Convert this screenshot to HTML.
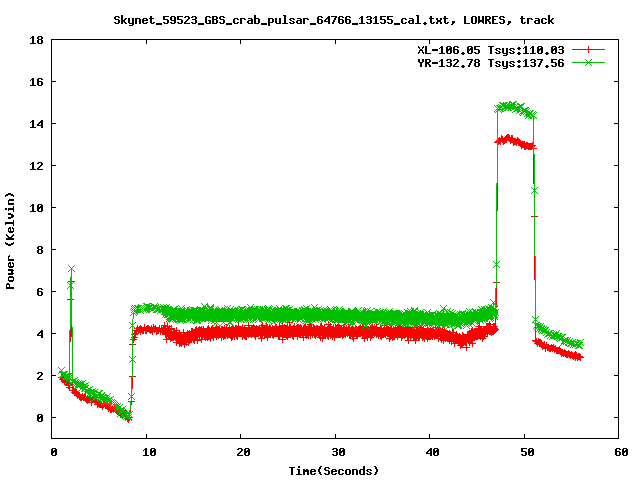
<!DOCTYPE html>
<html><head><meta charset="utf-8"><title>plot</title>
<style>
html,body{margin:0;padding:0;background:#fff;overflow:hidden}
svg{display:block}
body{font-family:"Liberation Sans",sans-serif}
</style></head><body>
<svg width="640" height="480" viewBox="0 0 640 480">
<rect width="640" height="480" fill="#fff"/>
<g fill="none" stroke-width="1" shape-rendering="crispEdges">
<path stroke="#000" d="M51.5 39.5H618.5V438.5H51.5ZM51.5 438.5v-4.5M51.5 39.5v4.5M146.5 438.5v-4.5M146.5 39.5v4.5M240.5 438.5v-4.5M240.5 39.5v4.5M335.5 438.5v-4.5M335.5 39.5v4.5M429.5 438.5v-4.5M429.5 39.5v4.5M524.5 438.5v-4.5M524.5 39.5v4.5M618.5 438.5v-4.5M618.5 39.5v4.5M51.5 417.5h4.5M618.5 417.5h-4.5M51.5 375.5h4.5M618.5 375.5h-4.5M51.5 333.5h4.5M618.5 333.5h-4.5M51.5 291.5h4.5M618.5 291.5h-4.5M51.5 249.5h4.5M618.5 249.5h-4.5M51.5 207.5h4.5M618.5 207.5h-4.5M51.5 165.5h4.5M618.5 165.5h-4.5M51.5 123.5h4.5M618.5 123.5h-4.5M51.5 81.5h4.5M618.5 81.5h-4.5M51.5 39.5h4.5M618.5 39.5h-4.5"/>
<path stroke="#f00" d="M61.5 377.5 L62.5 379.5 L63.5 378.5 L64.5 381.5 L65.5 382.5 L66.5 381.5 L67.5 382.5 L68.5 385.5 L68.5 384.5 L69.5 387.5 L70.5 299.5 L71.5 281.5 L72.5 390.5 L73.5 390.5 L74.5 392.5 L75.5 391.5 L76.5 392.5 L77.5 395.5 L78.5 394.5 L79.5 396.5 L80.5 397.5 L81.5 397.5 L82.5 396.5 L83.5 397.5 L84.5 396.5 L85.5 396.5 L85.5 398.5 L86.5 399.5 L87.5 400.5 L88.5 399.5 L89.5 398.5 L90.5 397.5 L91.5 402.5 L92.5 399.5 L93.5 399.5 L94.5 397.5 L95.5 401.5 L96.5 401.5 L97.5 404.5 L98.5 403.5 L99.5 404.5 L100.5 404.5 L101.5 404.5 L102.5 406.5 L103.5 404.5 L103.5 403.5 L104.5 403.5 L105.5 405.5 L106.5 403.5 L107.5 404.5 L108.5 408.5 L109.5 407.5 L110.5 409.5 L111.5 409.5 L112.5 408.5 L113.5 409.5 L114.5 407.5 L115.5 407.5 L116.5 410.5 L117.5 411.5 L118.5 412.5 L119.5 412.5 L120.5 412.5 L120.5 414.5 L121.5 413.5 L122.5 414.5 L123.5 413.5 L124.5 413.5 L125.5 412.5 L126.5 416.5 L127.5 418.5 L128.5 419.5 L129.5 417.5 L131.5 401.5 L132.5 376.5 L132.5 344.5 L133.5 339.5 L134.5 337.5 L134.5 334.5 L135.5 333.5 L136.5 330.5 L137.5 328.5 L138.5 330.5 L139.5 329.5 L140.5 331.5 L140.5 328.5 L141.5 329.5 L142.5 330.5 L143.5 330.5 L144.5 327.5 L145.5 330.5 L146.5 330.5 L146.5 329.5 L147.5 328.5 L148.5 328.5 L149.5 329.5 L150.5 330.5 L151.5 328.5 L151.5 329.5 L152.5 331.5 L153.5 327.5 L154.5 329.5 L155.5 328.5 L156.5 331.5 L157.5 330.5 L157.5 330.5 L158.5 330.5 L159.5 328.5 L160.5 331.5 L161.5 329.5 L162.5 330.5 L163.5 329.5 L163.5 330.5 L164.5 331.5 L164.5 325.5 L165.5 331.5 L165.5 328.5 L165.5 334.5 L165.5 331.5 L165.5 331.5 L166.5 331.5 L166.5 332.5 L166.5 333.5 L166.5 339.5 L166.5 333.5 L166.5 334.5 L167.5 332.5 L167.5 329.5 L167.5 326.5 L167.5 330.5 L167.5 329.5 L168.5 330.5 L168.5 330.5 L168.5 331.5 L168.5 333.5 L168.5 333.5 L169.5 332.5 L169.5 328.5 L169.5 331.5 L169.5 329.5 L169.5 336.5 L170.5 332.5 L170.5 332.5 L170.5 332.5 L170.5 336.5 L170.5 338.5 L170.5 338.5 L171.5 334.5 L171.5 328.5 L171.5 333.5 L171.5 337.5 L171.5 333.5 L172.5 335.5 L172.5 334.5 L172.5 335.5 L172.5 337.5 L172.5 336.5 L173.5 333.5 L173.5 334.5 L173.5 332.5 L173.5 337.5 L173.5 332.5 L173.5 335.5 L174.5 335.5 L174.5 332.5 L174.5 336.5 L174.5 335.5 L174.5 334.5 L175.5 334.5 L175.5 334.5 L175.5 333.5 L175.5 335.5 L175.5 337.5 L176.5 330.5 L176.5 336.5 L176.5 335.5 L176.5 338.5 L176.5 342.5 L176.5 338.5 L177.5 336.5 L177.5 335.5 L177.5 337.5 L177.5 335.5 L177.5 335.5 L178.5 335.5 L178.5 337.5 L178.5 337.5 L178.5 338.5 L178.5 340.5 L179.5 334.5 L179.5 341.5 L179.5 338.5 L179.5 337.5 L179.5 343.5 L180.5 336.5 L180.5 339.5 L180.5 338.5 L180.5 339.5 L180.5 342.5 L180.5 338.5 L181.5 339.5 L181.5 336.5 L181.5 338.5 L181.5 343.5 L181.5 337.5 L182.5 337.5 L182.5 337.5 L182.5 338.5 L182.5 341.5 L182.5 338.5 L183.5 340.5 L183.5 332.5 L183.5 339.5 L183.5 341.5 L183.5 339.5 L183.5 335.5 L184.5 340.5 L184.5 344.5 L184.5 335.5 L184.5 337.5 L184.5 339.5 L185.5 336.5 L185.5 340.5 L185.5 341.5 L185.5 335.5 L185.5 339.5 L186.5 336.5 L186.5 337.5 L186.5 335.5 L186.5 337.5 L186.5 342.5 L187.5 336.5 L187.5 338.5 L187.5 335.5 L187.5 337.5 L187.5 333.5 L187.5 338.5 L188.5 342.5 L188.5 337.5 L188.5 335.5 L188.5 337.5 L188.5 338.5 L189.5 333.5 L189.5 337.5 L189.5 334.5 L189.5 336.5 L189.5 340.5 L190.5 338.5 L190.5 337.5 L190.5 335.5 L190.5 338.5 L190.5 339.5 L190.5 338.5 L191.5 337.5 L191.5 338.5 L191.5 337.5 L191.5 331.5 L191.5 335.5 L192.5 337.5 L192.5 335.5 L192.5 331.5 L192.5 333.5 L192.5 335.5 L193.5 338.5 L193.5 339.5 L193.5 335.5 L193.5 335.5 L193.5 338.5 L194.5 338.5 L194.5 334.5 L194.5 340.5 L194.5 338.5 L194.5 334.5 L194.5 333.5 L195.5 333.5 L195.5 332.5 L195.5 330.5 L195.5 332.5 L195.5 335.5 L196.5 329.5 L196.5 330.5 L196.5 332.5 L196.5 336.5 L196.5 333.5 L197.5 339.5 L197.5 334.5 L197.5 340.5 L197.5 335.5 L197.5 331.5 L197.5 334.5 L198.5 330.5 L198.5 333.5 L198.5 333.5 L198.5 334.5 L198.5 332.5 L199.5 333.5 L199.5 330.5 L199.5 329.5 L199.5 332.5 L199.5 336.5 L200.5 332.5 L200.5 330.5 L200.5 332.5 L200.5 332.5 L200.5 331.5 L200.5 330.5 L201.5 339.5 L201.5 329.5 L201.5 331.5 L201.5 332.5 L201.5 334.5 L202.5 332.5 L202.5 331.5 L202.5 336.5 L202.5 331.5 L202.5 333.5 L203.5 329.5 L203.5 331.5 L203.5 333.5 L203.5 333.5 L203.5 331.5 L204.5 332.5 L204.5 331.5 L204.5 335.5 L204.5 336.5 L204.5 334.5 L204.5 336.5 L205.5 335.5 L205.5 332.5 L205.5 337.5 L205.5 336.5 L205.5 331.5 L206.5 334.5 L206.5 333.5 L206.5 336.5 L206.5 335.5 L206.5 333.5 L207.5 329.5 L207.5 332.5 L207.5 337.5 L207.5 332.5 L207.5 330.5 L207.5 331.5 L208.5 336.5 L208.5 333.5 L208.5 328.5 L208.5 335.5 L208.5 332.5 L209.5 334.5 L209.5 336.5 L209.5 334.5 L209.5 330.5 L209.5 330.5 L210.5 335.5 L210.5 334.5 L210.5 335.5 L210.5 338.5 L210.5 331.5 L211.5 329.5 L211.5 329.5 L211.5 334.5 L211.5 329.5 L211.5 330.5 L211.5 333.5 L212.5 333.5 L212.5 333.5 L212.5 332.5 L212.5 328.5 L212.5 335.5 L213.5 335.5 L213.5 330.5 L213.5 332.5 L213.5 337.5 L213.5 335.5 L214.5 334.5 L214.5 334.5 L214.5 332.5 L214.5 330.5 L214.5 333.5 L214.5 332.5 L215.5 334.5 L215.5 330.5 L215.5 329.5 L215.5 333.5 L215.5 334.5 L216.5 327.5 L216.5 330.5 L216.5 335.5 L216.5 336.5 L216.5 333.5 L217.5 329.5 L217.5 334.5 L217.5 333.5 L217.5 333.5 L217.5 331.5 L218.5 329.5 L218.5 335.5 L218.5 333.5 L218.5 333.5 L218.5 334.5 L218.5 335.5 L219.5 330.5 L219.5 332.5 L219.5 330.5 L219.5 329.5 L219.5 333.5 L220.5 331.5 L220.5 333.5 L220.5 332.5 L220.5 331.5 L220.5 333.5 L221.5 336.5 L221.5 329.5 L221.5 332.5 L221.5 335.5 L221.5 337.5 L221.5 332.5 L222.5 331.5 L222.5 330.5 L222.5 329.5 L222.5 333.5 L222.5 331.5 L223.5 336.5 L223.5 332.5 L223.5 330.5 L223.5 334.5 L223.5 332.5 L224.5 332.5 L224.5 332.5 L224.5 328.5 L224.5 335.5 L224.5 329.5 L225.5 335.5 L225.5 334.5 L225.5 334.5 L225.5 332.5 L225.5 333.5 L225.5 331.5 L226.5 332.5 L226.5 327.5 L226.5 331.5 L226.5 333.5 L226.5 331.5 L227.5 331.5 L227.5 332.5 L227.5 335.5 L227.5 334.5 L227.5 332.5 L228.5 330.5 L228.5 331.5 L228.5 332.5 L228.5 331.5 L228.5 333.5 L228.5 331.5 L229.5 328.5 L229.5 329.5 L229.5 329.5 L229.5 333.5 L229.5 331.5 L230.5 334.5 L230.5 330.5 L230.5 333.5 L230.5 335.5 L230.5 333.5 L231.5 331.5 L231.5 337.5 L231.5 335.5 L231.5 329.5 L231.5 332.5 L231.5 332.5 L232.5 336.5 L232.5 328.5 L232.5 329.5 L232.5 330.5 L232.5 334.5 L233.5 330.5 L233.5 329.5 L233.5 333.5 L233.5 332.5 L233.5 333.5 L234.5 330.5 L234.5 332.5 L234.5 333.5 L234.5 335.5 L234.5 336.5 L235.5 329.5 L235.5 328.5 L235.5 330.5 L235.5 328.5 L235.5 333.5 L235.5 332.5 L236.5 331.5 L236.5 332.5 L236.5 328.5 L236.5 335.5 L236.5 333.5 L237.5 333.5 L237.5 333.5 L237.5 330.5 L237.5 336.5 L237.5 329.5 L238.5 329.5 L238.5 331.5 L238.5 328.5 L238.5 326.5 L238.5 331.5 L238.5 330.5 L239.5 331.5 L239.5 330.5 L239.5 333.5 L239.5 333.5 L239.5 330.5 L240.5 333.5 L240.5 329.5 L240.5 330.5 L240.5 333.5 L240.5 331.5 L241.5 331.5 L241.5 332.5 L241.5 329.5 L241.5 331.5 L241.5 331.5 L242.5 336.5 L242.5 330.5 L242.5 335.5 L242.5 332.5 L242.5 328.5 L242.5 327.5 L243.5 332.5 L243.5 334.5 L243.5 330.5 L243.5 332.5 L243.5 331.5 L244.5 335.5 L244.5 329.5 L244.5 328.5 L244.5 335.5 L244.5 333.5 L245.5 333.5 L245.5 330.5 L245.5 336.5 L245.5 331.5 L245.5 332.5 L245.5 333.5 L246.5 330.5 L246.5 336.5 L246.5 335.5 L246.5 333.5 L246.5 330.5 L247.5 332.5 L247.5 333.5 L247.5 330.5 L247.5 332.5 L247.5 333.5 L248.5 332.5 L248.5 330.5 L248.5 325.5 L248.5 334.5 L248.5 331.5 L249.5 332.5 L249.5 332.5 L249.5 328.5 L249.5 329.5 L249.5 330.5 L249.5 332.5 L250.5 333.5 L250.5 331.5 L250.5 332.5 L250.5 333.5 L250.5 330.5 L251.5 334.5 L251.5 333.5 L251.5 329.5 L251.5 331.5 L251.5 330.5 L252.5 333.5 L252.5 329.5 L252.5 333.5 L252.5 328.5 L252.5 329.5 L252.5 330.5 L253.5 327.5 L253.5 330.5 L253.5 333.5 L253.5 327.5 L253.5 330.5 L254.5 328.5 L254.5 331.5 L254.5 328.5 L254.5 333.5 L254.5 334.5 L255.5 334.5 L255.5 329.5 L255.5 336.5 L255.5 335.5 L255.5 334.5 L255.5 330.5 L256.5 330.5 L256.5 333.5 L256.5 329.5 L256.5 330.5 L256.5 328.5 L257.5 329.5 L257.5 333.5 L257.5 331.5 L257.5 331.5 L257.5 330.5 L258.5 330.5 L258.5 331.5 L258.5 329.5 L258.5 331.5 L258.5 329.5 L259.5 331.5 L259.5 331.5 L259.5 329.5 L259.5 329.5 L259.5 328.5 L259.5 329.5 L260.5 331.5 L260.5 330.5 L260.5 331.5 L260.5 335.5 L260.5 334.5 L261.5 327.5 L261.5 331.5 L261.5 338.5 L261.5 331.5 L261.5 330.5 L262.5 334.5 L262.5 325.5 L262.5 328.5 L262.5 329.5 L262.5 331.5 L262.5 330.5 L263.5 329.5 L263.5 330.5 L263.5 332.5 L263.5 330.5 L263.5 331.5 L264.5 330.5 L264.5 333.5 L264.5 330.5 L264.5 331.5 L264.5 330.5 L265.5 330.5 L265.5 334.5 L265.5 329.5 L265.5 329.5 L265.5 334.5 L266.5 331.5 L266.5 333.5 L266.5 332.5 L266.5 328.5 L266.5 330.5 L266.5 326.5 L267.5 331.5 L267.5 334.5 L267.5 331.5 L267.5 337.5 L267.5 327.5 L268.5 330.5 L268.5 330.5 L268.5 330.5 L268.5 333.5 L268.5 331.5 L269.5 333.5 L269.5 332.5 L269.5 330.5 L269.5 334.5 L269.5 327.5 L269.5 333.5 L270.5 329.5 L270.5 332.5 L270.5 334.5 L270.5 330.5 L270.5 330.5 L271.5 331.5 L271.5 331.5 L271.5 332.5 L271.5 330.5 L271.5 332.5 L272.5 331.5 L272.5 328.5 L272.5 334.5 L272.5 332.5 L272.5 333.5 L273.5 333.5 L273.5 334.5 L273.5 332.5 L273.5 331.5 L273.5 331.5 L273.5 335.5 L274.5 329.5 L274.5 329.5 L274.5 331.5 L274.5 333.5 L274.5 333.5 L275.5 326.5 L275.5 327.5 L275.5 330.5 L275.5 333.5 L275.5 328.5 L276.5 331.5 L276.5 327.5 L276.5 332.5 L276.5 330.5 L276.5 331.5 L276.5 329.5 L277.5 332.5 L277.5 329.5 L277.5 332.5 L277.5 333.5 L277.5 330.5 L278.5 330.5 L278.5 336.5 L278.5 331.5 L278.5 331.5 L278.5 330.5 L279.5 326.5 L279.5 332.5 L279.5 331.5 L279.5 335.5 L279.5 334.5 L280.5 332.5 L280.5 331.5 L280.5 331.5 L280.5 329.5 L280.5 329.5 L280.5 328.5 L281.5 331.5 L281.5 330.5 L281.5 333.5 L281.5 330.5 L281.5 330.5 L282.5 332.5 L282.5 339.5 L282.5 332.5 L282.5 325.5 L282.5 331.5 L283.5 332.5 L283.5 331.5 L283.5 328.5 L283.5 330.5 L283.5 331.5 L283.5 334.5 L284.5 331.5 L284.5 334.5 L284.5 330.5 L284.5 327.5 L284.5 328.5 L285.5 332.5 L285.5 333.5 L285.5 334.5 L285.5 330.5 L285.5 329.5 L286.5 329.5 L286.5 330.5 L286.5 334.5 L286.5 335.5 L286.5 328.5 L286.5 333.5 L287.5 326.5 L287.5 336.5 L287.5 333.5 L287.5 333.5 L287.5 330.5 L288.5 329.5 L288.5 332.5 L288.5 329.5 L288.5 334.5 L288.5 332.5 L289.5 334.5 L289.5 332.5 L289.5 332.5 L289.5 330.5 L289.5 322.5 L290.5 334.5 L290.5 331.5 L290.5 329.5 L290.5 331.5 L290.5 327.5 L290.5 333.5 L291.5 329.5 L291.5 333.5 L291.5 329.5 L291.5 330.5 L291.5 330.5 L292.5 332.5 L292.5 335.5 L292.5 333.5 L292.5 329.5 L292.5 331.5 L293.5 329.5 L293.5 334.5 L293.5 329.5 L293.5 328.5 L293.5 336.5 L293.5 330.5 L294.5 326.5 L294.5 332.5 L294.5 328.5 L294.5 330.5 L294.5 329.5 L295.5 331.5 L295.5 332.5 L295.5 332.5 L295.5 331.5 L295.5 332.5 L296.5 333.5 L296.5 328.5 L296.5 332.5 L296.5 333.5 L296.5 333.5 L297.5 329.5 L297.5 336.5 L297.5 329.5 L297.5 329.5 L297.5 327.5 L297.5 332.5 L298.5 332.5 L298.5 330.5 L298.5 330.5 L298.5 327.5 L298.5 330.5 L299.5 332.5 L299.5 334.5 L299.5 331.5 L299.5 330.5 L299.5 328.5 L300.5 330.5 L300.5 327.5 L300.5 328.5 L300.5 332.5 L300.5 333.5 L300.5 332.5 L301.5 331.5 L301.5 332.5 L301.5 329.5 L301.5 329.5 L301.5 328.5 L302.5 330.5 L302.5 332.5 L302.5 330.5 L302.5 333.5 L302.5 330.5 L303.5 332.5 L303.5 328.5 L303.5 337.5 L303.5 329.5 L303.5 328.5 L304.5 331.5 L304.5 330.5 L304.5 330.5 L304.5 327.5 L304.5 327.5 L304.5 331.5 L305.5 327.5 L305.5 332.5 L305.5 330.5 L305.5 330.5 L305.5 334.5 L306.5 330.5 L306.5 332.5 L306.5 329.5 L306.5 333.5 L306.5 335.5 L307.5 334.5 L307.5 331.5 L307.5 330.5 L307.5 330.5 L307.5 332.5 L307.5 329.5 L308.5 332.5 L308.5 331.5 L308.5 328.5 L308.5 331.5 L308.5 335.5 L309.5 329.5 L309.5 331.5 L309.5 332.5 L309.5 327.5 L309.5 332.5 L310.5 329.5 L310.5 330.5 L310.5 324.5 L310.5 335.5 L310.5 330.5 L310.5 330.5 L311.5 328.5 L311.5 332.5 L311.5 332.5 L311.5 327.5 L311.5 332.5 L312.5 330.5 L312.5 331.5 L312.5 330.5 L312.5 334.5 L312.5 332.5 L313.5 331.5 L313.5 330.5 L313.5 328.5 L313.5 329.5 L313.5 329.5 L314.5 331.5 L314.5 328.5 L314.5 332.5 L314.5 331.5 L314.5 334.5 L314.5 333.5 L315.5 329.5 L315.5 331.5 L315.5 335.5 L315.5 331.5 L315.5 331.5 L316.5 333.5 L316.5 330.5 L316.5 331.5 L316.5 331.5 L316.5 328.5 L317.5 332.5 L317.5 328.5 L317.5 331.5 L317.5 331.5 L317.5 328.5 L317.5 330.5 L318.5 332.5 L318.5 331.5 L318.5 330.5 L318.5 334.5 L318.5 329.5 L319.5 331.5 L319.5 334.5 L319.5 333.5 L319.5 329.5 L319.5 334.5 L320.5 326.5 L320.5 333.5 L320.5 330.5 L320.5 337.5 L320.5 331.5 L321.5 332.5 L321.5 330.5 L321.5 330.5 L321.5 332.5 L321.5 326.5 L321.5 329.5 L322.5 333.5 L322.5 330.5 L322.5 338.5 L322.5 332.5 L322.5 328.5 L323.5 332.5 L323.5 330.5 L323.5 334.5 L323.5 329.5 L323.5 331.5 L324.5 331.5 L324.5 329.5 L324.5 327.5 L324.5 329.5 L324.5 335.5 L324.5 330.5 L325.5 330.5 L325.5 334.5 L325.5 335.5 L325.5 332.5 L325.5 332.5 L326.5 331.5 L326.5 333.5 L326.5 331.5 L326.5 330.5 L326.5 332.5 L327.5 330.5 L327.5 332.5 L327.5 335.5 L327.5 331.5 L327.5 329.5 L328.5 324.5 L328.5 336.5 L328.5 332.5 L328.5 333.5 L328.5 330.5 L328.5 333.5 L329.5 331.5 L329.5 329.5 L329.5 333.5 L329.5 331.5 L329.5 327.5 L330.5 329.5 L330.5 335.5 L330.5 326.5 L330.5 333.5 L330.5 330.5 L331.5 332.5 L331.5 332.5 L331.5 333.5 L331.5 329.5 L331.5 333.5 L331.5 334.5 L332.5 332.5 L332.5 331.5 L332.5 336.5 L332.5 329.5 L332.5 333.5 L333.5 329.5 L333.5 328.5 L333.5 330.5 L333.5 330.5 L333.5 332.5 L334.5 333.5 L334.5 336.5 L334.5 331.5 L334.5 332.5 L334.5 337.5 L334.5 330.5 L335.5 327.5 L335.5 330.5 L335.5 328.5 L335.5 332.5 L335.5 333.5 L336.5 331.5 L336.5 332.5 L336.5 334.5 L336.5 328.5 L336.5 331.5 L337.5 333.5 L337.5 331.5 L337.5 331.5 L337.5 329.5 L337.5 327.5 L338.5 332.5 L338.5 334.5 L338.5 328.5 L338.5 325.5 L338.5 332.5 L338.5 333.5 L339.5 334.5 L339.5 331.5 L339.5 331.5 L339.5 332.5 L339.5 329.5 L340.5 333.5 L340.5 332.5 L340.5 334.5 L340.5 328.5 L340.5 328.5 L341.5 328.5 L341.5 333.5 L341.5 328.5 L341.5 330.5 L341.5 329.5 L341.5 330.5 L342.5 332.5 L342.5 331.5 L342.5 335.5 L342.5 332.5 L342.5 332.5 L343.5 334.5 L343.5 331.5 L343.5 328.5 L343.5 332.5 L343.5 333.5 L344.5 333.5 L344.5 331.5 L344.5 327.5 L344.5 331.5 L344.5 331.5 L345.5 334.5 L345.5 330.5 L345.5 330.5 L345.5 332.5 L345.5 331.5 L345.5 333.5 L346.5 329.5 L346.5 328.5 L346.5 330.5 L346.5 330.5 L346.5 331.5 L347.5 333.5 L347.5 333.5 L347.5 332.5 L347.5 331.5 L347.5 331.5 L348.5 329.5 L348.5 329.5 L348.5 327.5 L348.5 329.5 L348.5 332.5 L348.5 331.5 L349.5 335.5 L349.5 327.5 L349.5 332.5 L349.5 332.5 L349.5 327.5 L350.5 334.5 L350.5 333.5 L350.5 331.5 L350.5 332.5 L350.5 331.5 L351.5 330.5 L351.5 330.5 L351.5 331.5 L351.5 329.5 L351.5 332.5 L352.5 330.5 L352.5 328.5 L352.5 335.5 L352.5 332.5 L352.5 331.5 L352.5 336.5 L353.5 338.5 L353.5 330.5 L353.5 333.5 L353.5 329.5 L353.5 331.5 L354.5 331.5 L354.5 332.5 L354.5 331.5 L354.5 333.5 L354.5 332.5 L355.5 329.5 L355.5 332.5 L355.5 330.5 L355.5 331.5 L355.5 332.5 L355.5 333.5 L356.5 329.5 L356.5 333.5 L356.5 330.5 L356.5 335.5 L356.5 330.5 L357.5 330.5 L357.5 333.5 L357.5 335.5 L357.5 331.5 L357.5 331.5 L358.5 332.5 L358.5 333.5 L358.5 329.5 L358.5 331.5 L358.5 332.5 L359.5 329.5 L359.5 331.5 L359.5 333.5 L359.5 329.5 L359.5 332.5 L359.5 329.5 L360.5 333.5 L360.5 330.5 L360.5 328.5 L360.5 330.5 L360.5 330.5 L361.5 330.5 L361.5 329.5 L361.5 331.5 L361.5 330.5 L361.5 332.5 L362.5 327.5 L362.5 333.5 L362.5 329.5 L362.5 334.5 L362.5 330.5 L362.5 328.5 L363.5 334.5 L363.5 327.5 L363.5 333.5 L363.5 333.5 L363.5 330.5 L364.5 334.5 L364.5 329.5 L364.5 330.5 L364.5 338.5 L364.5 335.5 L365.5 333.5 L365.5 330.5 L365.5 334.5 L365.5 333.5 L365.5 330.5 L365.5 334.5 L366.5 331.5 L366.5 334.5 L366.5 329.5 L366.5 328.5 L366.5 334.5 L367.5 337.5 L367.5 335.5 L367.5 329.5 L367.5 333.5 L367.5 329.5 L368.5 334.5 L368.5 333.5 L368.5 332.5 L368.5 329.5 L368.5 332.5 L369.5 334.5 L369.5 331.5 L369.5 331.5 L369.5 330.5 L369.5 332.5 L369.5 333.5 L370.5 331.5 L370.5 337.5 L370.5 331.5 L370.5 328.5 L370.5 330.5 L371.5 334.5 L371.5 335.5 L371.5 328.5 L371.5 333.5 L371.5 332.5 L372.5 331.5 L372.5 333.5 L372.5 331.5 L372.5 328.5 L372.5 332.5 L372.5 327.5 L373.5 330.5 L373.5 331.5 L373.5 329.5 L373.5 329.5 L373.5 329.5 L374.5 330.5 L374.5 333.5 L374.5 327.5 L374.5 332.5 L374.5 333.5 L375.5 329.5 L375.5 330.5 L375.5 331.5 L375.5 331.5 L375.5 330.5 L376.5 327.5 L376.5 332.5 L376.5 334.5 L376.5 333.5 L376.5 330.5 L376.5 332.5 L377.5 333.5 L377.5 330.5 L377.5 330.5 L377.5 332.5 L377.5 331.5 L378.5 333.5 L378.5 333.5 L378.5 332.5 L378.5 335.5 L378.5 331.5 L379.5 332.5 L379.5 333.5 L379.5 331.5 L379.5 331.5 L379.5 333.5 L379.5 333.5 L380.5 333.5 L380.5 328.5 L380.5 335.5 L380.5 332.5 L380.5 329.5 L381.5 334.5 L381.5 334.5 L381.5 334.5 L381.5 336.5 L381.5 329.5 L382.5 332.5 L382.5 334.5 L382.5 333.5 L382.5 331.5 L382.5 332.5 L383.5 334.5 L383.5 330.5 L383.5 334.5 L383.5 333.5 L383.5 331.5 L383.5 333.5 L384.5 332.5 L384.5 333.5 L384.5 325.5 L384.5 333.5 L384.5 330.5 L385.5 334.5 L385.5 334.5 L385.5 332.5 L385.5 333.5 L385.5 333.5 L386.5 332.5 L386.5 330.5 L386.5 327.5 L386.5 327.5 L386.5 332.5 L386.5 327.5 L387.5 328.5 L387.5 333.5 L387.5 333.5 L387.5 332.5 L387.5 327.5 L388.5 332.5 L388.5 332.5 L388.5 329.5 L388.5 332.5 L388.5 332.5 L389.5 330.5 L389.5 332.5 L389.5 338.5 L389.5 335.5 L389.5 330.5 L389.5 335.5 L390.5 329.5 L390.5 332.5 L390.5 331.5 L390.5 331.5 L390.5 336.5 L391.5 334.5 L391.5 334.5 L391.5 331.5 L391.5 328.5 L391.5 333.5 L392.5 332.5 L392.5 337.5 L392.5 333.5 L392.5 333.5 L392.5 332.5 L393.5 331.5 L393.5 329.5 L393.5 332.5 L393.5 331.5 L393.5 336.5 L393.5 331.5 L394.5 332.5 L394.5 336.5 L394.5 331.5 L394.5 334.5 L394.5 330.5 L395.5 331.5 L395.5 332.5 L395.5 328.5 L395.5 332.5 L395.5 333.5 L396.5 332.5 L396.5 332.5 L396.5 334.5 L396.5 331.5 L396.5 331.5 L396.5 333.5 L397.5 336.5 L397.5 329.5 L397.5 329.5 L397.5 330.5 L397.5 330.5 L398.5 328.5 L398.5 331.5 L398.5 328.5 L398.5 332.5 L398.5 334.5 L399.5 332.5 L399.5 333.5 L399.5 331.5 L399.5 327.5 L399.5 331.5 L400.5 329.5 L400.5 327.5 L400.5 327.5 L400.5 332.5 L400.5 333.5 L400.5 327.5 L401.5 334.5 L401.5 336.5 L401.5 337.5 L401.5 329.5 L401.5 335.5 L402.5 332.5 L402.5 332.5 L402.5 329.5 L402.5 335.5 L402.5 332.5 L403.5 331.5 L403.5 328.5 L403.5 332.5 L403.5 331.5 L403.5 332.5 L403.5 329.5 L404.5 330.5 L404.5 333.5 L404.5 331.5 L404.5 335.5 L404.5 332.5 L405.5 334.5 L405.5 333.5 L405.5 329.5 L405.5 327.5 L405.5 331.5 L406.5 332.5 L406.5 333.5 L406.5 330.5 L406.5 332.5 L406.5 330.5 L407.5 328.5 L407.5 330.5 L407.5 333.5 L407.5 330.5 L407.5 334.5 L407.5 336.5 L408.5 329.5 L408.5 327.5 L408.5 329.5 L408.5 333.5 L408.5 340.5 L409.5 334.5 L409.5 331.5 L409.5 333.5 L409.5 329.5 L409.5 334.5 L410.5 331.5 L410.5 332.5 L410.5 332.5 L410.5 336.5 L410.5 332.5 L410.5 332.5 L411.5 333.5 L411.5 335.5 L411.5 333.5 L411.5 335.5 L411.5 331.5 L412.5 330.5 L412.5 331.5 L412.5 331.5 L412.5 333.5 L412.5 332.5 L413.5 337.5 L413.5 332.5 L413.5 330.5 L413.5 334.5 L413.5 331.5 L414.5 336.5 L414.5 332.5 L414.5 333.5 L414.5 331.5 L414.5 332.5 L414.5 327.5 L415.5 340.5 L415.5 336.5 L415.5 334.5 L415.5 332.5 L415.5 334.5 L416.5 334.5 L416.5 336.5 L416.5 336.5 L416.5 335.5 L416.5 329.5 L417.5 335.5 L417.5 326.5 L417.5 330.5 L417.5 333.5 L417.5 331.5 L417.5 330.5 L418.5 335.5 L418.5 337.5 L418.5 329.5 L418.5 335.5 L418.5 331.5 L419.5 331.5 L419.5 337.5 L419.5 331.5 L419.5 331.5 L419.5 330.5 L420.5 333.5 L420.5 332.5 L420.5 332.5 L420.5 333.5 L420.5 329.5 L420.5 330.5 L421.5 329.5 L421.5 332.5 L421.5 330.5 L421.5 335.5 L421.5 334.5 L422.5 330.5 L422.5 333.5 L422.5 334.5 L422.5 332.5 L422.5 337.5 L423.5 332.5 L423.5 332.5 L423.5 334.5 L423.5 336.5 L423.5 329.5 L424.5 332.5 L424.5 335.5 L424.5 334.5 L424.5 337.5 L424.5 337.5 L424.5 338.5 L425.5 335.5 L425.5 332.5 L425.5 331.5 L425.5 333.5 L425.5 331.5 L426.5 332.5 L426.5 336.5 L426.5 335.5 L426.5 332.5 L426.5 331.5 L427.5 330.5 L427.5 336.5 L427.5 338.5 L427.5 328.5 L427.5 334.5 L427.5 331.5 L428.5 333.5 L428.5 336.5 L428.5 330.5 L428.5 332.5 L428.5 330.5 L429.5 332.5 L429.5 336.5 L429.5 333.5 L429.5 331.5 L429.5 335.5 L430.5 333.5 L430.5 330.5 L430.5 336.5 L430.5 334.5 L430.5 333.5 L431.5 331.5 L431.5 333.5 L431.5 335.5 L431.5 332.5 L431.5 335.5 L431.5 332.5 L432.5 332.5 L432.5 334.5 L432.5 331.5 L432.5 330.5 L432.5 336.5 L433.5 332.5 L433.5 334.5 L433.5 334.5 L433.5 333.5 L433.5 330.5 L434.5 334.5 L434.5 334.5 L434.5 336.5 L434.5 334.5 L434.5 333.5 L434.5 336.5 L435.5 334.5 L435.5 332.5 L435.5 330.5 L435.5 334.5 L435.5 329.5 L436.5 331.5 L436.5 331.5 L436.5 332.5 L436.5 333.5 L436.5 335.5 L437.5 334.5 L437.5 333.5 L437.5 333.5 L437.5 330.5 L437.5 329.5 L438.5 332.5 L438.5 331.5 L438.5 335.5 L438.5 338.5 L438.5 334.5 L438.5 333.5 L439.5 330.5 L439.5 328.5 L439.5 333.5 L439.5 330.5 L439.5 331.5 L440.5 333.5 L440.5 331.5 L440.5 333.5 L440.5 330.5 L440.5 336.5 L441.5 339.5 L441.5 333.5 L441.5 331.5 L441.5 331.5 L441.5 335.5 L441.5 332.5 L442.5 335.5 L442.5 332.5 L442.5 336.5 L442.5 336.5 L442.5 332.5 L443.5 337.5 L443.5 338.5 L443.5 332.5 L443.5 334.5 L443.5 340.5 L444.5 331.5 L444.5 337.5 L444.5 335.5 L444.5 335.5 L444.5 330.5 L444.5 335.5 L445.5 332.5 L445.5 335.5 L445.5 333.5 L445.5 338.5 L445.5 335.5 L446.5 336.5 L446.5 337.5 L446.5 334.5 L446.5 333.5 L446.5 334.5 L447.5 336.5 L447.5 333.5 L447.5 338.5 L447.5 335.5 L447.5 334.5 L448.5 336.5 L448.5 336.5 L448.5 335.5 L448.5 337.5 L448.5 336.5 L448.5 334.5 L449.5 340.5 L449.5 333.5 L449.5 335.5 L449.5 335.5 L449.5 338.5 L450.5 337.5 L450.5 338.5 L450.5 335.5 L450.5 335.5 L450.5 334.5 L451.5 336.5 L451.5 341.5 L451.5 339.5 L451.5 337.5 L451.5 336.5 L451.5 340.5 L452.5 337.5 L452.5 337.5 L452.5 338.5 L452.5 337.5 L452.5 332.5 L453.5 337.5 L453.5 332.5 L453.5 337.5 L453.5 339.5 L453.5 336.5 L454.5 338.5 L454.5 338.5 L454.5 343.5 L454.5 337.5 L454.5 339.5 L455.5 335.5 L455.5 338.5 L455.5 339.5 L455.5 340.5 L455.5 338.5 L455.5 339.5 L456.5 340.5 L456.5 334.5 L456.5 339.5 L456.5 336.5 L456.5 335.5 L457.5 337.5 L457.5 337.5 L457.5 337.5 L457.5 336.5 L457.5 337.5 L458.5 338.5 L458.5 338.5 L458.5 340.5 L458.5 340.5 L458.5 341.5 L458.5 339.5 L459.5 336.5 L459.5 341.5 L459.5 341.5 L459.5 342.5 L459.5 340.5 L460.5 337.5 L460.5 340.5 L460.5 339.5 L460.5 345.5 L460.5 340.5 L461.5 339.5 L461.5 341.5 L461.5 344.5 L461.5 339.5 L461.5 340.5 L462.5 335.5 L462.5 341.5 L462.5 340.5 L462.5 341.5 L462.5 339.5 L462.5 344.5 L463.5 336.5 L463.5 338.5 L463.5 340.5 L463.5 340.5 L463.5 338.5 L464.5 338.5 L464.5 340.5 L464.5 339.5 L464.5 338.5 L464.5 340.5 L465.5 340.5 L465.5 340.5 L465.5 340.5 L465.5 342.5 L465.5 341.5 L465.5 338.5 L466.5 337.5 L466.5 339.5 L466.5 347.5 L466.5 342.5 L466.5 337.5 L467.5 334.5 L467.5 335.5 L467.5 339.5 L467.5 339.5 L467.5 339.5 L468.5 334.5 L468.5 337.5 L468.5 340.5 L468.5 335.5 L468.5 336.5 L469.5 342.5 L469.5 339.5 L469.5 335.5 L469.5 335.5 L469.5 340.5 L469.5 337.5 L470.5 335.5 L470.5 336.5 L470.5 339.5 L470.5 337.5 L470.5 335.5 L471.5 336.5 L471.5 339.5 L471.5 331.5 L471.5 336.5 L471.5 340.5 L472.5 337.5 L472.5 343.5 L472.5 338.5 L472.5 336.5 L472.5 330.5 L472.5 335.5 L473.5 335.5 L473.5 334.5 L473.5 335.5 L473.5 337.5 L473.5 332.5 L474.5 334.5 L474.5 331.5 L474.5 333.5 L474.5 337.5 L474.5 336.5 L475.5 336.5 L475.5 336.5 L475.5 333.5 L475.5 335.5 L475.5 336.5 L475.5 331.5 L476.5 331.5 L476.5 334.5 L476.5 336.5 L476.5 335.5 L476.5 336.5 L477.5 336.5 L477.5 336.5 L477.5 333.5 L477.5 333.5 L477.5 332.5 L478.5 335.5 L478.5 332.5 L478.5 328.5 L478.5 332.5 L478.5 334.5 L479.5 326.5 L479.5 332.5 L479.5 334.5 L479.5 330.5 L479.5 334.5 L479.5 333.5 L480.5 330.5 L480.5 334.5 L480.5 336.5 L480.5 330.5 L480.5 330.5 L481.5 335.5 L481.5 333.5 L481.5 329.5 L481.5 331.5 L481.5 330.5 L482.5 332.5 L482.5 333.5 L482.5 333.5 L482.5 332.5 L482.5 331.5 L482.5 338.5 L483.5 336.5 L483.5 331.5 L483.5 329.5 L483.5 332.5 L483.5 331.5 L484.5 333.5 L484.5 334.5 L484.5 330.5 L484.5 331.5 L484.5 332.5 L485.5 333.5 L485.5 330.5 L485.5 330.5 L485.5 331.5 L485.5 330.5 L486.5 331.5 L486.5 329.5 L486.5 329.5 L486.5 326.5 L486.5 326.5 L486.5 330.5 L487.5 332.5 L487.5 328.5 L487.5 331.5 L487.5 326.5 L487.5 333.5 L488.5 330.5 L488.5 326.5 L488.5 329.5 L488.5 327.5 L488.5 327.5 L489.5 330.5 L489.5 327.5 L489.5 331.5 L489.5 330.5 L489.5 324.5 L489.5 329.5 L490.5 328.5 L490.5 331.5 L490.5 326.5 L490.5 331.5 L490.5 331.5 L491.5 330.5 L491.5 331.5 L491.5 332.5 L491.5 330.5 L491.5 330.5 L492.5 329.5 L492.5 331.5 L492.5 331.5 L492.5 330.5 L492.5 329.5 L493.5 331.5 L493.5 329.5 L493.5 329.5 L493.5 326.5 L493.5 327.5 L493.5 328.5 L494.5 326.5 L494.5 330.5 L494.5 326.5 L494.5 328.5 L495.5 329.5 L496.5 282.5 L497.5 142.5 L498.5 141.5 L499.5 140.5 L500.5 141.5 L501.5 138.5 L502.5 139.5 L503.5 141.5 L504.5 140.5 L505.5 139.5 L506.5 139.5 L506.5 138.5 L507.5 137.5 L508.5 137.5 L509.5 138.5 L510.5 140.5 L511.5 138.5 L512.5 138.5 L513.5 142.5 L514.5 141.5 L515.5 141.5 L516.5 142.5 L517.5 140.5 L518.5 141.5 L519.5 142.5 L520.5 143.5 L521.5 145.5 L522.5 144.5 L523.5 144.5 L524.5 144.5 L524.5 146.5 L525.5 146.5 L526.5 145.5 L527.5 145.5 L528.5 146.5 L529.5 146.5 L530.5 146.5 L531.5 146.5 L532.5 145.5 L533.5 148.5 L534.5 216.5 L535.5 340.5 L536.5 341.5 L537.5 343.5 L538.5 341.5 L539.5 342.5 L540.5 342.5 L541.5 343.5 L541.5 344.5 L542.5 346.5 L543.5 345.5 L544.5 344.5 L545.5 348.5 L546.5 345.5 L547.5 347.5 L548.5 347.5 L549.5 348.5 L550.5 348.5 L551.5 347.5 L552.5 348.5 L553.5 347.5 L554.5 349.5 L555.5 348.5 L556.5 350.5 L557.5 350.5 L558.5 350.5 L558.5 350.5 L559.5 349.5 L560.5 351.5 L561.5 353.5 L562.5 352.5 L563.5 353.5 L564.5 352.5 L565.5 353.5 L566.5 354.5 L567.5 354.5 L568.5 353.5 L569.5 354.5 L570.5 355.5 L571.5 354.5 L572.5 355.5 L573.5 356.5 L574.5 355.5 L575.5 354.5 L575.5 357.5 L576.5 355.5 L577.5 357.5 L578.5 356.5 L579.5 356.5 L580.5 357.5"/>
<path stroke="#f00" d="M58 377.5h7M61.5 374v7M59 379.5h7M62.5 376v7M60 378.5h7M63.5 375v7M61 381.5h7M64.5 378v7M62 382.5h7M65.5 379v7M63 381.5h7M66.5 378v7M64 382.5h7M67.5 379v7M65 385.5h7M68.5 382v7M65 384.5h7M68.5 381v7M66 387.5h7M69.5 384v7M67 299.5h7M70.5 296v7M68 281.5h7M71.5 278v7M69 390.5h7M72.5 387v7M70 390.5h7M73.5 387v7M71 392.5h7M74.5 389v7M72 391.5h7M75.5 388v7M73 392.5h7M76.5 389v7M74 395.5h7M77.5 392v7M75 394.5h7M78.5 391v7M76 396.5h7M79.5 393v7M77 397.5h7M80.5 394v7M78 397.5h7M81.5 394v7M79 396.5h7M82.5 393v7M80 397.5h7M83.5 394v7M81 396.5h7M84.5 393v7M82 396.5h7M85.5 393v7M82 398.5h7M85.5 395v7M83 399.5h7M86.5 396v7M84 400.5h7M87.5 397v7M85 399.5h7M88.5 396v7M86 398.5h7M89.5 395v7M87 397.5h7M90.5 394v7M88 402.5h7M91.5 399v7M89 399.5h7M92.5 396v7M90 399.5h7M93.5 396v7M91 397.5h7M94.5 394v7M92 401.5h7M95.5 398v7M93 401.5h7M96.5 398v7M94 404.5h7M97.5 401v7M95 403.5h7M98.5 400v7M96 404.5h7M99.5 401v7M97 404.5h7M100.5 401v7M98 404.5h7M101.5 401v7M99 406.5h7M102.5 403v7M100 404.5h7M103.5 401v7M100 403.5h7M103.5 400v7M101 403.5h7M104.5 400v7M102 405.5h7M105.5 402v7M103 403.5h7M106.5 400v7M104 404.5h7M107.5 401v7M105 408.5h7M108.5 405v7M106 407.5h7M109.5 404v7M107 409.5h7M110.5 406v7M108 409.5h7M111.5 406v7M109 408.5h7M112.5 405v7M110 409.5h7M113.5 406v7M111 407.5h7M114.5 404v7M112 407.5h7M115.5 404v7M113 410.5h7M116.5 407v7M114 411.5h7M117.5 408v7M115 412.5h7M118.5 409v7M116 412.5h7M119.5 409v7M117 412.5h7M120.5 409v7M117 414.5h7M120.5 411v7M118 413.5h7M121.5 410v7M119 414.5h7M122.5 411v7M120 413.5h7M123.5 410v7M121 413.5h7M124.5 410v7M122 412.5h7M125.5 409v7M123 416.5h7M126.5 413v7M124 418.5h7M127.5 415v7M125 419.5h7M128.5 416v7M126 417.5h7M129.5 414v7M128 401.5h7M131.5 398v7M129 376.5h7M132.5 373v7M129 344.5h7M132.5 341v7M130 339.5h7M133.5 336v7M131 337.5h7M134.5 334v7M131 334.5h7M134.5 331v7M132 333.5h7M135.5 330v7M133 330.5h7M136.5 327v7M134 328.5h7M137.5 325v7M135 330.5h7M138.5 327v7M136 329.5h7M139.5 326v7M137 331.5h7M140.5 328v7M137 328.5h7M140.5 325v7M138 329.5h7M141.5 326v7M139 330.5h7M142.5 327v7M140 330.5h7M143.5 327v7M141 327.5h7M144.5 324v7M142 330.5h7M145.5 327v7M143 330.5h7M146.5 327v7M143 329.5h7M146.5 326v7M144 328.5h7M147.5 325v7M145 328.5h7M148.5 325v7M146 329.5h7M149.5 326v7M147 330.5h7M150.5 327v7M148 328.5h7M151.5 325v7M148 329.5h7M151.5 326v7M149 331.5h7M152.5 328v7M150 327.5h7M153.5 324v7M151 329.5h7M154.5 326v7M152 328.5h7M155.5 325v7M153 331.5h7M156.5 328v7M154 330.5h7M157.5 327v7M154 330.5h7M157.5 327v7M155 330.5h7M158.5 327v7M156 328.5h7M159.5 325v7M157 331.5h7M160.5 328v7M158 329.5h7M161.5 326v7M159 330.5h7M162.5 327v7M160 329.5h7M163.5 326v7M160 330.5h7M163.5 327v7M161 331.5h7M164.5 328v7M161 325.5h7M164.5 322v7M162 331.5h7M165.5 328v7M162 328.5h7M165.5 325v7M162 334.5h7M165.5 331v7M162 331.5h7M165.5 328v7M162 331.5h7M165.5 328v7M163 331.5h7M166.5 328v7M163 332.5h7M166.5 329v7M163 333.5h7M166.5 330v7M163 339.5h7M166.5 336v7M163 333.5h7M166.5 330v7M163 334.5h7M166.5 331v7M164 332.5h7M167.5 329v7M164 329.5h7M167.5 326v7M164 326.5h7M167.5 323v7M164 330.5h7M167.5 327v7M164 329.5h7M167.5 326v7M165 330.5h7M168.5 327v7M165 330.5h7M168.5 327v7M165 331.5h7M168.5 328v7M165 333.5h7M168.5 330v7M165 333.5h7M168.5 330v7M166 332.5h7M169.5 329v7M166 328.5h7M169.5 325v7M166 331.5h7M169.5 328v7M166 329.5h7M169.5 326v7M166 336.5h7M169.5 333v7M167 332.5h7M170.5 329v7M167 332.5h7M170.5 329v7M167 332.5h7M170.5 329v7M167 336.5h7M170.5 333v7M167 338.5h7M170.5 335v7M167 338.5h7M170.5 335v7M168 334.5h7M171.5 331v7M168 328.5h7M171.5 325v7M168 333.5h7M171.5 330v7M168 337.5h7M171.5 334v7M168 333.5h7M171.5 330v7M169 335.5h7M172.5 332v7M169 334.5h7M172.5 331v7M169 335.5h7M172.5 332v7M169 337.5h7M172.5 334v7M169 336.5h7M172.5 333v7M170 333.5h7M173.5 330v7M170 334.5h7M173.5 331v7M170 332.5h7M173.5 329v7M170 337.5h7M173.5 334v7M170 332.5h7M173.5 329v7M170 335.5h7M173.5 332v7M171 335.5h7M174.5 332v7M171 332.5h7M174.5 329v7M171 336.5h7M174.5 333v7M171 335.5h7M174.5 332v7M171 334.5h7M174.5 331v7M172 334.5h7M175.5 331v7M172 334.5h7M175.5 331v7M172 333.5h7M175.5 330v7M172 335.5h7M175.5 332v7M172 337.5h7M175.5 334v7M173 330.5h7M176.5 327v7M173 336.5h7M176.5 333v7M173 335.5h7M176.5 332v7M173 338.5h7M176.5 335v7M173 342.5h7M176.5 339v7M173 338.5h7M176.5 335v7M174 336.5h7M177.5 333v7M174 335.5h7M177.5 332v7M174 337.5h7M177.5 334v7M174 335.5h7M177.5 332v7M174 335.5h7M177.5 332v7M175 335.5h7M178.5 332v7M175 337.5h7M178.5 334v7M175 337.5h7M178.5 334v7M175 338.5h7M178.5 335v7M175 340.5h7M178.5 337v7M176 334.5h7M179.5 331v7M176 341.5h7M179.5 338v7M176 338.5h7M179.5 335v7M176 337.5h7M179.5 334v7M176 343.5h7M179.5 340v7M177 336.5h7M180.5 333v7M177 339.5h7M180.5 336v7M177 338.5h7M180.5 335v7M177 339.5h7M180.5 336v7M177 342.5h7M180.5 339v7M177 338.5h7M180.5 335v7M178 339.5h7M181.5 336v7M178 336.5h7M181.5 333v7M178 338.5h7M181.5 335v7M178 343.5h7M181.5 340v7M178 337.5h7M181.5 334v7M179 337.5h7M182.5 334v7M179 337.5h7M182.5 334v7M179 338.5h7M182.5 335v7M179 341.5h7M182.5 338v7M179 338.5h7M182.5 335v7M180 340.5h7M183.5 337v7M180 332.5h7M183.5 329v7M180 339.5h7M183.5 336v7M180 341.5h7M183.5 338v7M180 339.5h7M183.5 336v7M180 335.5h7M183.5 332v7M181 340.5h7M184.5 337v7M181 344.5h7M184.5 341v7M181 335.5h7M184.5 332v7M181 337.5h7M184.5 334v7M181 339.5h7M184.5 336v7M182 336.5h7M185.5 333v7M182 340.5h7M185.5 337v7M182 341.5h7M185.5 338v7M182 335.5h7M185.5 332v7M182 339.5h7M185.5 336v7M183 336.5h7M186.5 333v7M183 337.5h7M186.5 334v7M183 335.5h7M186.5 332v7M183 337.5h7M186.5 334v7M183 342.5h7M186.5 339v7M184 336.5h7M187.5 333v7M184 338.5h7M187.5 335v7M184 335.5h7M187.5 332v7M184 337.5h7M187.5 334v7M184 333.5h7M187.5 330v7M184 338.5h7M187.5 335v7M185 342.5h7M188.5 339v7M185 337.5h7M188.5 334v7M185 335.5h7M188.5 332v7M185 337.5h7M188.5 334v7M185 338.5h7M188.5 335v7M186 333.5h7M189.5 330v7M186 337.5h7M189.5 334v7M186 334.5h7M189.5 331v7M186 336.5h7M189.5 333v7M186 340.5h7M189.5 337v7M187 338.5h7M190.5 335v7M187 337.5h7M190.5 334v7M187 335.5h7M190.5 332v7M187 338.5h7M190.5 335v7M187 339.5h7M190.5 336v7M187 338.5h7M190.5 335v7M188 337.5h7M191.5 334v7M188 338.5h7M191.5 335v7M188 337.5h7M191.5 334v7M188 331.5h7M191.5 328v7M188 335.5h7M191.5 332v7M189 337.5h7M192.5 334v7M189 335.5h7M192.5 332v7M189 331.5h7M192.5 328v7M189 333.5h7M192.5 330v7M189 335.5h7M192.5 332v7M190 338.5h7M193.5 335v7M190 339.5h7M193.5 336v7M190 335.5h7M193.5 332v7M190 335.5h7M193.5 332v7M190 338.5h7M193.5 335v7M191 338.5h7M194.5 335v7M191 334.5h7M194.5 331v7M191 340.5h7M194.5 337v7M191 338.5h7M194.5 335v7M191 334.5h7M194.5 331v7M191 333.5h7M194.5 330v7M192 333.5h7M195.5 330v7M192 332.5h7M195.5 329v7M192 330.5h7M195.5 327v7M192 332.5h7M195.5 329v7M192 335.5h7M195.5 332v7M193 329.5h7M196.5 326v7M193 330.5h7M196.5 327v7M193 332.5h7M196.5 329v7M193 336.5h7M196.5 333v7M193 333.5h7M196.5 330v7M194 339.5h7M197.5 336v7M194 334.5h7M197.5 331v7M194 340.5h7M197.5 337v7M194 335.5h7M197.5 332v7M194 331.5h7M197.5 328v7M194 334.5h7M197.5 331v7M195 330.5h7M198.5 327v7M195 333.5h7M198.5 330v7M195 333.5h7M198.5 330v7M195 334.5h7M198.5 331v7M195 332.5h7M198.5 329v7M196 333.5h7M199.5 330v7M196 330.5h7M199.5 327v7M196 329.5h7M199.5 326v7M196 332.5h7M199.5 329v7M196 336.5h7M199.5 333v7M197 332.5h7M200.5 329v7M197 330.5h7M200.5 327v7M197 332.5h7M200.5 329v7M197 332.5h7M200.5 329v7M197 331.5h7M200.5 328v7M197 330.5h7M200.5 327v7M198 339.5h7M201.5 336v7M198 329.5h7M201.5 326v7M198 331.5h7M201.5 328v7M198 332.5h7M201.5 329v7M198 334.5h7M201.5 331v7M199 332.5h7M202.5 329v7M199 331.5h7M202.5 328v7M199 336.5h7M202.5 333v7M199 331.5h7M202.5 328v7M199 333.5h7M202.5 330v7M200 329.5h7M203.5 326v7M200 331.5h7M203.5 328v7M200 333.5h7M203.5 330v7M200 333.5h7M203.5 330v7M200 331.5h7M203.5 328v7M201 332.5h7M204.5 329v7M201 331.5h7M204.5 328v7M201 335.5h7M204.5 332v7M201 336.5h7M204.5 333v7M201 334.5h7M204.5 331v7M201 336.5h7M204.5 333v7M202 335.5h7M205.5 332v7M202 332.5h7M205.5 329v7M202 337.5h7M205.5 334v7M202 336.5h7M205.5 333v7M202 331.5h7M205.5 328v7M203 334.5h7M206.5 331v7M203 333.5h7M206.5 330v7M203 336.5h7M206.5 333v7M203 335.5h7M206.5 332v7M203 333.5h7M206.5 330v7M204 329.5h7M207.5 326v7M204 332.5h7M207.5 329v7M204 337.5h7M207.5 334v7M204 332.5h7M207.5 329v7M204 330.5h7M207.5 327v7M204 331.5h7M207.5 328v7M205 336.5h7M208.5 333v7M205 333.5h7M208.5 330v7M205 328.5h7M208.5 325v7M205 335.5h7M208.5 332v7M205 332.5h7M208.5 329v7M206 334.5h7M209.5 331v7M206 336.5h7M209.5 333v7M206 334.5h7M209.5 331v7M206 330.5h7M209.5 327v7M206 330.5h7M209.5 327v7M207 335.5h7M210.5 332v7M207 334.5h7M210.5 331v7M207 335.5h7M210.5 332v7M207 338.5h7M210.5 335v7M207 331.5h7M210.5 328v7M208 329.5h7M211.5 326v7M208 329.5h7M211.5 326v7M208 334.5h7M211.5 331v7M208 329.5h7M211.5 326v7M208 330.5h7M211.5 327v7M208 333.5h7M211.5 330v7M209 333.5h7M212.5 330v7M209 333.5h7M212.5 330v7M209 332.5h7M212.5 329v7M209 328.5h7M212.5 325v7M209 335.5h7M212.5 332v7M210 335.5h7M213.5 332v7M210 330.5h7M213.5 327v7M210 332.5h7M213.5 329v7M210 337.5h7M213.5 334v7M210 335.5h7M213.5 332v7M211 334.5h7M214.5 331v7M211 334.5h7M214.5 331v7M211 332.5h7M214.5 329v7M211 330.5h7M214.5 327v7M211 333.5h7M214.5 330v7M211 332.5h7M214.5 329v7M212 334.5h7M215.5 331v7M212 330.5h7M215.5 327v7M212 329.5h7M215.5 326v7M212 333.5h7M215.5 330v7M212 334.5h7M215.5 331v7M213 327.5h7M216.5 324v7M213 330.5h7M216.5 327v7M213 335.5h7M216.5 332v7M213 336.5h7M216.5 333v7M213 333.5h7M216.5 330v7M214 329.5h7M217.5 326v7M214 334.5h7M217.5 331v7M214 333.5h7M217.5 330v7M214 333.5h7M217.5 330v7M214 331.5h7M217.5 328v7M215 329.5h7M218.5 326v7M215 335.5h7M218.5 332v7M215 333.5h7M218.5 330v7M215 333.5h7M218.5 330v7M215 334.5h7M218.5 331v7M215 335.5h7M218.5 332v7M216 330.5h7M219.5 327v7M216 332.5h7M219.5 329v7M216 330.5h7M219.5 327v7M216 329.5h7M219.5 326v7M216 333.5h7M219.5 330v7M217 331.5h7M220.5 328v7M217 333.5h7M220.5 330v7M217 332.5h7M220.5 329v7M217 331.5h7M220.5 328v7M217 333.5h7M220.5 330v7M218 336.5h7M221.5 333v7M218 329.5h7M221.5 326v7M218 332.5h7M221.5 329v7M218 335.5h7M221.5 332v7M218 337.5h7M221.5 334v7M218 332.5h7M221.5 329v7M219 331.5h7M222.5 328v7M219 330.5h7M222.5 327v7M219 329.5h7M222.5 326v7M219 333.5h7M222.5 330v7M219 331.5h7M222.5 328v7M220 336.5h7M223.5 333v7M220 332.5h7M223.5 329v7M220 330.5h7M223.5 327v7M220 334.5h7M223.5 331v7M220 332.5h7M223.5 329v7M221 332.5h7M224.5 329v7M221 332.5h7M224.5 329v7M221 328.5h7M224.5 325v7M221 335.5h7M224.5 332v7M221 329.5h7M224.5 326v7M222 335.5h7M225.5 332v7M222 334.5h7M225.5 331v7M222 334.5h7M225.5 331v7M222 332.5h7M225.5 329v7M222 333.5h7M225.5 330v7M222 331.5h7M225.5 328v7M223 332.5h7M226.5 329v7M223 327.5h7M226.5 324v7M223 331.5h7M226.5 328v7M223 333.5h7M226.5 330v7M223 331.5h7M226.5 328v7M224 331.5h7M227.5 328v7M224 332.5h7M227.5 329v7M224 335.5h7M227.5 332v7M224 334.5h7M227.5 331v7M224 332.5h7M227.5 329v7M225 330.5h7M228.5 327v7M225 331.5h7M228.5 328v7M225 332.5h7M228.5 329v7M225 331.5h7M228.5 328v7M225 333.5h7M228.5 330v7M225 331.5h7M228.5 328v7M226 328.5h7M229.5 325v7M226 329.5h7M229.5 326v7M226 329.5h7M229.5 326v7M226 333.5h7M229.5 330v7M226 331.5h7M229.5 328v7M227 334.5h7M230.5 331v7M227 330.5h7M230.5 327v7M227 333.5h7M230.5 330v7M227 335.5h7M230.5 332v7M227 333.5h7M230.5 330v7M228 331.5h7M231.5 328v7M228 337.5h7M231.5 334v7M228 335.5h7M231.5 332v7M228 329.5h7M231.5 326v7M228 332.5h7M231.5 329v7M228 332.5h7M231.5 329v7M229 336.5h7M232.5 333v7M229 328.5h7M232.5 325v7M229 329.5h7M232.5 326v7M229 330.5h7M232.5 327v7M229 334.5h7M232.5 331v7M230 330.5h7M233.5 327v7M230 329.5h7M233.5 326v7M230 333.5h7M233.5 330v7M230 332.5h7M233.5 329v7M230 333.5h7M233.5 330v7M231 330.5h7M234.5 327v7M231 332.5h7M234.5 329v7M231 333.5h7M234.5 330v7M231 335.5h7M234.5 332v7M231 336.5h7M234.5 333v7M232 329.5h7M235.5 326v7M232 328.5h7M235.5 325v7M232 330.5h7M235.5 327v7M232 328.5h7M235.5 325v7M232 333.5h7M235.5 330v7M232 332.5h7M235.5 329v7M233 331.5h7M236.5 328v7M233 332.5h7M236.5 329v7M233 328.5h7M236.5 325v7M233 335.5h7M236.5 332v7M233 333.5h7M236.5 330v7M234 333.5h7M237.5 330v7M234 333.5h7M237.5 330v7M234 330.5h7M237.5 327v7M234 336.5h7M237.5 333v7M234 329.5h7M237.5 326v7M235 329.5h7M238.5 326v7M235 331.5h7M238.5 328v7M235 328.5h7M238.5 325v7M235 326.5h7M238.5 323v7M235 331.5h7M238.5 328v7M235 330.5h7M238.5 327v7M236 331.5h7M239.5 328v7M236 330.5h7M239.5 327v7M236 333.5h7M239.5 330v7M236 333.5h7M239.5 330v7M236 330.5h7M239.5 327v7M237 333.5h7M240.5 330v7M237 329.5h7M240.5 326v7M237 330.5h7M240.5 327v7M237 333.5h7M240.5 330v7M237 331.5h7M240.5 328v7M238 331.5h7M241.5 328v7M238 332.5h7M241.5 329v7M238 329.5h7M241.5 326v7M238 331.5h7M241.5 328v7M238 331.5h7M241.5 328v7M239 336.5h7M242.5 333v7M239 330.5h7M242.5 327v7M239 335.5h7M242.5 332v7M239 332.5h7M242.5 329v7M239 328.5h7M242.5 325v7M239 327.5h7M242.5 324v7M240 332.5h7M243.5 329v7M240 334.5h7M243.5 331v7M240 330.5h7M243.5 327v7M240 332.5h7M243.5 329v7M240 331.5h7M243.5 328v7M241 335.5h7M244.5 332v7M241 329.5h7M244.5 326v7M241 328.5h7M244.5 325v7M241 335.5h7M244.5 332v7M241 333.5h7M244.5 330v7M242 333.5h7M245.5 330v7M242 330.5h7M245.5 327v7M242 336.5h7M245.5 333v7M242 331.5h7M245.5 328v7M242 332.5h7M245.5 329v7M242 333.5h7M245.5 330v7M243 330.5h7M246.5 327v7M243 336.5h7M246.5 333v7M243 335.5h7M246.5 332v7M243 333.5h7M246.5 330v7M243 330.5h7M246.5 327v7M244 332.5h7M247.5 329v7M244 333.5h7M247.5 330v7M244 330.5h7M247.5 327v7M244 332.5h7M247.5 329v7M244 333.5h7M247.5 330v7M245 332.5h7M248.5 329v7M245 330.5h7M248.5 327v7M245 325.5h7M248.5 322v7M245 334.5h7M248.5 331v7M245 331.5h7M248.5 328v7M246 332.5h7M249.5 329v7M246 332.5h7M249.5 329v7M246 328.5h7M249.5 325v7M246 329.5h7M249.5 326v7M246 330.5h7M249.5 327v7M246 332.5h7M249.5 329v7M247 333.5h7M250.5 330v7M247 331.5h7M250.5 328v7M247 332.5h7M250.5 329v7M247 333.5h7M250.5 330v7M247 330.5h7M250.5 327v7M248 334.5h7M251.5 331v7M248 333.5h7M251.5 330v7M248 329.5h7M251.5 326v7M248 331.5h7M251.5 328v7M248 330.5h7M251.5 327v7M249 333.5h7M252.5 330v7M249 329.5h7M252.5 326v7M249 333.5h7M252.5 330v7M249 328.5h7M252.5 325v7M249 329.5h7M252.5 326v7M249 330.5h7M252.5 327v7M250 327.5h7M253.5 324v7M250 330.5h7M253.5 327v7M250 333.5h7M253.5 330v7M250 327.5h7M253.5 324v7M250 330.5h7M253.5 327v7M251 328.5h7M254.5 325v7M251 331.5h7M254.5 328v7M251 328.5h7M254.5 325v7M251 333.5h7M254.5 330v7M251 334.5h7M254.5 331v7M252 334.5h7M255.5 331v7M252 329.5h7M255.5 326v7M252 336.5h7M255.5 333v7M252 335.5h7M255.5 332v7M252 334.5h7M255.5 331v7M252 330.5h7M255.5 327v7M253 330.5h7M256.5 327v7M253 333.5h7M256.5 330v7M253 329.5h7M256.5 326v7M253 330.5h7M256.5 327v7M253 328.5h7M256.5 325v7M254 329.5h7M257.5 326v7M254 333.5h7M257.5 330v7M254 331.5h7M257.5 328v7M254 331.5h7M257.5 328v7M254 330.5h7M257.5 327v7M255 330.5h7M258.5 327v7M255 331.5h7M258.5 328v7M255 329.5h7M258.5 326v7M255 331.5h7M258.5 328v7M255 329.5h7M258.5 326v7M256 331.5h7M259.5 328v7M256 331.5h7M259.5 328v7M256 329.5h7M259.5 326v7M256 329.5h7M259.5 326v7M256 328.5h7M259.5 325v7M256 329.5h7M259.5 326v7M257 331.5h7M260.5 328v7M257 330.5h7M260.5 327v7M257 331.5h7M260.5 328v7M257 335.5h7M260.5 332v7M257 334.5h7M260.5 331v7M258 327.5h7M261.5 324v7M258 331.5h7M261.5 328v7M258 338.5h7M261.5 335v7M258 331.5h7M261.5 328v7M258 330.5h7M261.5 327v7M259 334.5h7M262.5 331v7M259 325.5h7M262.5 322v7M259 328.5h7M262.5 325v7M259 329.5h7M262.5 326v7M259 331.5h7M262.5 328v7M259 330.5h7M262.5 327v7M260 329.5h7M263.5 326v7M260 330.5h7M263.5 327v7M260 332.5h7M263.5 329v7M260 330.5h7M263.5 327v7M260 331.5h7M263.5 328v7M261 330.5h7M264.5 327v7M261 333.5h7M264.5 330v7M261 330.5h7M264.5 327v7M261 331.5h7M264.5 328v7M261 330.5h7M264.5 327v7M262 330.5h7M265.5 327v7M262 334.5h7M265.5 331v7M262 329.5h7M265.5 326v7M262 329.5h7M265.5 326v7M262 334.5h7M265.5 331v7M263 331.5h7M266.5 328v7M263 333.5h7M266.5 330v7M263 332.5h7M266.5 329v7M263 328.5h7M266.5 325v7M263 330.5h7M266.5 327v7M263 326.5h7M266.5 323v7M264 331.5h7M267.5 328v7M264 334.5h7M267.5 331v7M264 331.5h7M267.5 328v7M264 337.5h7M267.5 334v7M264 327.5h7M267.5 324v7M265 330.5h7M268.5 327v7M265 330.5h7M268.5 327v7M265 330.5h7M268.5 327v7M265 333.5h7M268.5 330v7M265 331.5h7M268.5 328v7M266 333.5h7M269.5 330v7M266 332.5h7M269.5 329v7M266 330.5h7M269.5 327v7M266 334.5h7M269.5 331v7M266 327.5h7M269.5 324v7M266 333.5h7M269.5 330v7M267 329.5h7M270.5 326v7M267 332.5h7M270.5 329v7M267 334.5h7M270.5 331v7M267 330.5h7M270.5 327v7M267 330.5h7M270.5 327v7M268 331.5h7M271.5 328v7M268 331.5h7M271.5 328v7M268 332.5h7M271.5 329v7M268 330.5h7M271.5 327v7M268 332.5h7M271.5 329v7M269 331.5h7M272.5 328v7M269 328.5h7M272.5 325v7M269 334.5h7M272.5 331v7M269 332.5h7M272.5 329v7M269 333.5h7M272.5 330v7M270 333.5h7M273.5 330v7M270 334.5h7M273.5 331v7M270 332.5h7M273.5 329v7M270 331.5h7M273.5 328v7M270 331.5h7M273.5 328v7M270 335.5h7M273.5 332v7M271 329.5h7M274.5 326v7M271 329.5h7M274.5 326v7M271 331.5h7M274.5 328v7M271 333.5h7M274.5 330v7M271 333.5h7M274.5 330v7M272 326.5h7M275.5 323v7M272 327.5h7M275.5 324v7M272 330.5h7M275.5 327v7M272 333.5h7M275.5 330v7M272 328.5h7M275.5 325v7M273 331.5h7M276.5 328v7M273 327.5h7M276.5 324v7M273 332.5h7M276.5 329v7M273 330.5h7M276.5 327v7M273 331.5h7M276.5 328v7M273 329.5h7M276.5 326v7M274 332.5h7M277.5 329v7M274 329.5h7M277.5 326v7M274 332.5h7M277.5 329v7M274 333.5h7M277.5 330v7M274 330.5h7M277.5 327v7M275 330.5h7M278.5 327v7M275 336.5h7M278.5 333v7M275 331.5h7M278.5 328v7M275 331.5h7M278.5 328v7M275 330.5h7M278.5 327v7M276 326.5h7M279.5 323v7M276 332.5h7M279.5 329v7M276 331.5h7M279.5 328v7M276 335.5h7M279.5 332v7M276 334.5h7M279.5 331v7M277 332.5h7M280.5 329v7M277 331.5h7M280.5 328v7M277 331.5h7M280.5 328v7M277 329.5h7M280.5 326v7M277 329.5h7M280.5 326v7M277 328.5h7M280.5 325v7M278 331.5h7M281.5 328v7M278 330.5h7M281.5 327v7M278 333.5h7M281.5 330v7M278 330.5h7M281.5 327v7M278 330.5h7M281.5 327v7M279 332.5h7M282.5 329v7M279 339.5h7M282.5 336v7M279 332.5h7M282.5 329v7M279 325.5h7M282.5 322v7M279 331.5h7M282.5 328v7M280 332.5h7M283.5 329v7M280 331.5h7M283.5 328v7M280 328.5h7M283.5 325v7M280 330.5h7M283.5 327v7M280 331.5h7M283.5 328v7M280 334.5h7M283.5 331v7M281 331.5h7M284.5 328v7M281 334.5h7M284.5 331v7M281 330.5h7M284.5 327v7M281 327.5h7M284.5 324v7M281 328.5h7M284.5 325v7M282 332.5h7M285.5 329v7M282 333.5h7M285.5 330v7M282 334.5h7M285.5 331v7M282 330.5h7M285.5 327v7M282 329.5h7M285.5 326v7M283 329.5h7M286.5 326v7M283 330.5h7M286.5 327v7M283 334.5h7M286.5 331v7M283 335.5h7M286.5 332v7M283 328.5h7M286.5 325v7M283 333.5h7M286.5 330v7M284 326.5h7M287.5 323v7M284 336.5h7M287.5 333v7M284 333.5h7M287.5 330v7M284 333.5h7M287.5 330v7M284 330.5h7M287.5 327v7M285 329.5h7M288.5 326v7M285 332.5h7M288.5 329v7M285 329.5h7M288.5 326v7M285 334.5h7M288.5 331v7M285 332.5h7M288.5 329v7M286 334.5h7M289.5 331v7M286 332.5h7M289.5 329v7M286 332.5h7M289.5 329v7M286 330.5h7M289.5 327v7M286 322.5h7M289.5 319v7M287 334.5h7M290.5 331v7M287 331.5h7M290.5 328v7M287 329.5h7M290.5 326v7M287 331.5h7M290.5 328v7M287 327.5h7M290.5 324v7M287 333.5h7M290.5 330v7M288 329.5h7M291.5 326v7M288 333.5h7M291.5 330v7M288 329.5h7M291.5 326v7M288 330.5h7M291.5 327v7M288 330.5h7M291.5 327v7M289 332.5h7M292.5 329v7M289 335.5h7M292.5 332v7M289 333.5h7M292.5 330v7M289 329.5h7M292.5 326v7M289 331.5h7M292.5 328v7M290 329.5h7M293.5 326v7M290 334.5h7M293.5 331v7M290 329.5h7M293.5 326v7M290 328.5h7M293.5 325v7M290 336.5h7M293.5 333v7M290 330.5h7M293.5 327v7M291 326.5h7M294.5 323v7M291 332.5h7M294.5 329v7M291 328.5h7M294.5 325v7M291 330.5h7M294.5 327v7M291 329.5h7M294.5 326v7M292 331.5h7M295.5 328v7M292 332.5h7M295.5 329v7M292 332.5h7M295.5 329v7M292 331.5h7M295.5 328v7M292 332.5h7M295.5 329v7M293 333.5h7M296.5 330v7M293 328.5h7M296.5 325v7M293 332.5h7M296.5 329v7M293 333.5h7M296.5 330v7M293 333.5h7M296.5 330v7M294 329.5h7M297.5 326v7M294 336.5h7M297.5 333v7M294 329.5h7M297.5 326v7M294 329.5h7M297.5 326v7M294 327.5h7M297.5 324v7M294 332.5h7M297.5 329v7M295 332.5h7M298.5 329v7M295 330.5h7M298.5 327v7M295 330.5h7M298.5 327v7M295 327.5h7M298.5 324v7M295 330.5h7M298.5 327v7M296 332.5h7M299.5 329v7M296 334.5h7M299.5 331v7M296 331.5h7M299.5 328v7M296 330.5h7M299.5 327v7M296 328.5h7M299.5 325v7M297 330.5h7M300.5 327v7M297 327.5h7M300.5 324v7M297 328.5h7M300.5 325v7M297 332.5h7M300.5 329v7M297 333.5h7M300.5 330v7M297 332.5h7M300.5 329v7M298 331.5h7M301.5 328v7M298 332.5h7M301.5 329v7M298 329.5h7M301.5 326v7M298 329.5h7M301.5 326v7M298 328.5h7M301.5 325v7M299 330.5h7M302.5 327v7M299 332.5h7M302.5 329v7M299 330.5h7M302.5 327v7M299 333.5h7M302.5 330v7M299 330.5h7M302.5 327v7M300 332.5h7M303.5 329v7M300 328.5h7M303.5 325v7M300 337.5h7M303.5 334v7M300 329.5h7M303.5 326v7M300 328.5h7M303.5 325v7M301 331.5h7M304.5 328v7M301 330.5h7M304.5 327v7M301 330.5h7M304.5 327v7M301 327.5h7M304.5 324v7M301 327.5h7M304.5 324v7M301 331.5h7M304.5 328v7M302 327.5h7M305.5 324v7M302 332.5h7M305.5 329v7M302 330.5h7M305.5 327v7M302 330.5h7M305.5 327v7M302 334.5h7M305.5 331v7M303 330.5h7M306.5 327v7M303 332.5h7M306.5 329v7M303 329.5h7M306.5 326v7M303 333.5h7M306.5 330v7M303 335.5h7M306.5 332v7M304 334.5h7M307.5 331v7M304 331.5h7M307.5 328v7M304 330.5h7M307.5 327v7M304 330.5h7M307.5 327v7M304 332.5h7M307.5 329v7M304 329.5h7M307.5 326v7M305 332.5h7M308.5 329v7M305 331.5h7M308.5 328v7M305 328.5h7M308.5 325v7M305 331.5h7M308.5 328v7M305 335.5h7M308.5 332v7M306 329.5h7M309.5 326v7M306 331.5h7M309.5 328v7M306 332.5h7M309.5 329v7M306 327.5h7M309.5 324v7M306 332.5h7M309.5 329v7M307 329.5h7M310.5 326v7M307 330.5h7M310.5 327v7M307 324.5h7M310.5 321v7M307 335.5h7M310.5 332v7M307 330.5h7M310.5 327v7M307 330.5h7M310.5 327v7M308 328.5h7M311.5 325v7M308 332.5h7M311.5 329v7M308 332.5h7M311.5 329v7M308 327.5h7M311.5 324v7M308 332.5h7M311.5 329v7M309 330.5h7M312.5 327v7M309 331.5h7M312.5 328v7M309 330.5h7M312.5 327v7M309 334.5h7M312.5 331v7M309 332.5h7M312.5 329v7M310 331.5h7M313.5 328v7M310 330.5h7M313.5 327v7M310 328.5h7M313.5 325v7M310 329.5h7M313.5 326v7M310 329.5h7M313.5 326v7M311 331.5h7M314.5 328v7M311 328.5h7M314.5 325v7M311 332.5h7M314.5 329v7M311 331.5h7M314.5 328v7M311 334.5h7M314.5 331v7M311 333.5h7M314.5 330v7M312 329.5h7M315.5 326v7M312 331.5h7M315.5 328v7M312 335.5h7M315.5 332v7M312 331.5h7M315.5 328v7M312 331.5h7M315.5 328v7M313 333.5h7M316.5 330v7M313 330.5h7M316.5 327v7M313 331.5h7M316.5 328v7M313 331.5h7M316.5 328v7M313 328.5h7M316.5 325v7M314 332.5h7M317.5 329v7M314 328.5h7M317.5 325v7M314 331.5h7M317.5 328v7M314 331.5h7M317.5 328v7M314 328.5h7M317.5 325v7M314 330.5h7M317.5 327v7M315 332.5h7M318.5 329v7M315 331.5h7M318.5 328v7M315 330.5h7M318.5 327v7M315 334.5h7M318.5 331v7M315 329.5h7M318.5 326v7M316 331.5h7M319.5 328v7M316 334.5h7M319.5 331v7M316 333.5h7M319.5 330v7M316 329.5h7M319.5 326v7M316 334.5h7M319.5 331v7M317 326.5h7M320.5 323v7M317 333.5h7M320.5 330v7M317 330.5h7M320.5 327v7M317 337.5h7M320.5 334v7M317 331.5h7M320.5 328v7M318 332.5h7M321.5 329v7M318 330.5h7M321.5 327v7M318 330.5h7M321.5 327v7M318 332.5h7M321.5 329v7M318 326.5h7M321.5 323v7M318 329.5h7M321.5 326v7M319 333.5h7M322.5 330v7M319 330.5h7M322.5 327v7M319 338.5h7M322.5 335v7M319 332.5h7M322.5 329v7M319 328.5h7M322.5 325v7M320 332.5h7M323.5 329v7M320 330.5h7M323.5 327v7M320 334.5h7M323.5 331v7M320 329.5h7M323.5 326v7M320 331.5h7M323.5 328v7M321 331.5h7M324.5 328v7M321 329.5h7M324.5 326v7M321 327.5h7M324.5 324v7M321 329.5h7M324.5 326v7M321 335.5h7M324.5 332v7M321 330.5h7M324.5 327v7M322 330.5h7M325.5 327v7M322 334.5h7M325.5 331v7M322 335.5h7M325.5 332v7M322 332.5h7M325.5 329v7M322 332.5h7M325.5 329v7M323 331.5h7M326.5 328v7M323 333.5h7M326.5 330v7M323 331.5h7M326.5 328v7M323 330.5h7M326.5 327v7M323 332.5h7M326.5 329v7M324 330.5h7M327.5 327v7M324 332.5h7M327.5 329v7M324 335.5h7M327.5 332v7M324 331.5h7M327.5 328v7M324 329.5h7M327.5 326v7M325 324.5h7M328.5 321v7M325 336.5h7M328.5 333v7M325 332.5h7M328.5 329v7M325 333.5h7M328.5 330v7M325 330.5h7M328.5 327v7M325 333.5h7M328.5 330v7M326 331.5h7M329.5 328v7M326 329.5h7M329.5 326v7M326 333.5h7M329.5 330v7M326 331.5h7M329.5 328v7M326 327.5h7M329.5 324v7M327 329.5h7M330.5 326v7M327 335.5h7M330.5 332v7M327 326.5h7M330.5 323v7M327 333.5h7M330.5 330v7M327 330.5h7M330.5 327v7M328 332.5h7M331.5 329v7M328 332.5h7M331.5 329v7M328 333.5h7M331.5 330v7M328 329.5h7M331.5 326v7M328 333.5h7M331.5 330v7M328 334.5h7M331.5 331v7M329 332.5h7M332.5 329v7M329 331.5h7M332.5 328v7M329 336.5h7M332.5 333v7M329 329.5h7M332.5 326v7M329 333.5h7M332.5 330v7M330 329.5h7M333.5 326v7M330 328.5h7M333.5 325v7M330 330.5h7M333.5 327v7M330 330.5h7M333.5 327v7M330 332.5h7M333.5 329v7M331 333.5h7M334.5 330v7M331 336.5h7M334.5 333v7M331 331.5h7M334.5 328v7M331 332.5h7M334.5 329v7M331 337.5h7M334.5 334v7M331 330.5h7M334.5 327v7M332 327.5h7M335.5 324v7M332 330.5h7M335.5 327v7M332 328.5h7M335.5 325v7M332 332.5h7M335.5 329v7M332 333.5h7M335.5 330v7M333 331.5h7M336.5 328v7M333 332.5h7M336.5 329v7M333 334.5h7M336.5 331v7M333 328.5h7M336.5 325v7M333 331.5h7M336.5 328v7M334 333.5h7M337.5 330v7M334 331.5h7M337.5 328v7M334 331.5h7M337.5 328v7M334 329.5h7M337.5 326v7M334 327.5h7M337.5 324v7M335 332.5h7M338.5 329v7M335 334.5h7M338.5 331v7M335 328.5h7M338.5 325v7M335 325.5h7M338.5 322v7M335 332.5h7M338.5 329v7M335 333.5h7M338.5 330v7M336 334.5h7M339.5 331v7M336 331.5h7M339.5 328v7M336 331.5h7M339.5 328v7M336 332.5h7M339.5 329v7M336 329.5h7M339.5 326v7M337 333.5h7M340.5 330v7M337 332.5h7M340.5 329v7M337 334.5h7M340.5 331v7M337 328.5h7M340.5 325v7M337 328.5h7M340.5 325v7M338 328.5h7M341.5 325v7M338 333.5h7M341.5 330v7M338 328.5h7M341.5 325v7M338 330.5h7M341.5 327v7M338 329.5h7M341.5 326v7M338 330.5h7M341.5 327v7M339 332.5h7M342.5 329v7M339 331.5h7M342.5 328v7M339 335.5h7M342.5 332v7M339 332.5h7M342.5 329v7M339 332.5h7M342.5 329v7M340 334.5h7M343.5 331v7M340 331.5h7M343.5 328v7M340 328.5h7M343.5 325v7M340 332.5h7M343.5 329v7M340 333.5h7M343.5 330v7M341 333.5h7M344.5 330v7M341 331.5h7M344.5 328v7M341 327.5h7M344.5 324v7M341 331.5h7M344.5 328v7M341 331.5h7M344.5 328v7M342 334.5h7M345.5 331v7M342 330.5h7M345.5 327v7M342 330.5h7M345.5 327v7M342 332.5h7M345.5 329v7M342 331.5h7M345.5 328v7M342 333.5h7M345.5 330v7M343 329.5h7M346.5 326v7M343 328.5h7M346.5 325v7M343 330.5h7M346.5 327v7M343 330.5h7M346.5 327v7M343 331.5h7M346.5 328v7M344 333.5h7M347.5 330v7M344 333.5h7M347.5 330v7M344 332.5h7M347.5 329v7M344 331.5h7M347.5 328v7M344 331.5h7M347.5 328v7M345 329.5h7M348.5 326v7M345 329.5h7M348.5 326v7M345 327.5h7M348.5 324v7M345 329.5h7M348.5 326v7M345 332.5h7M348.5 329v7M345 331.5h7M348.5 328v7M346 335.5h7M349.5 332v7M346 327.5h7M349.5 324v7M346 332.5h7M349.5 329v7M346 332.5h7M349.5 329v7M346 327.5h7M349.5 324v7M347 334.5h7M350.5 331v7M347 333.5h7M350.5 330v7M347 331.5h7M350.5 328v7M347 332.5h7M350.5 329v7M347 331.5h7M350.5 328v7M348 330.5h7M351.5 327v7M348 330.5h7M351.5 327v7M348 331.5h7M351.5 328v7M348 329.5h7M351.5 326v7M348 332.5h7M351.5 329v7M349 330.5h7M352.5 327v7M349 328.5h7M352.5 325v7M349 335.5h7M352.5 332v7M349 332.5h7M352.5 329v7M349 331.5h7M352.5 328v7M349 336.5h7M352.5 333v7M350 338.5h7M353.5 335v7M350 330.5h7M353.5 327v7M350 333.5h7M353.5 330v7M350 329.5h7M353.5 326v7M350 331.5h7M353.5 328v7M351 331.5h7M354.5 328v7M351 332.5h7M354.5 329v7M351 331.5h7M354.5 328v7M351 333.5h7M354.5 330v7M351 332.5h7M354.5 329v7M352 329.5h7M355.5 326v7M352 332.5h7M355.5 329v7M352 330.5h7M355.5 327v7M352 331.5h7M355.5 328v7M352 332.5h7M355.5 329v7M352 333.5h7M355.5 330v7M353 329.5h7M356.5 326v7M353 333.5h7M356.5 330v7M353 330.5h7M356.5 327v7M353 335.5h7M356.5 332v7M353 330.5h7M356.5 327v7M354 330.5h7M357.5 327v7M354 333.5h7M357.5 330v7M354 335.5h7M357.5 332v7M354 331.5h7M357.5 328v7M354 331.5h7M357.5 328v7M355 332.5h7M358.5 329v7M355 333.5h7M358.5 330v7M355 329.5h7M358.5 326v7M355 331.5h7M358.5 328v7M355 332.5h7M358.5 329v7M356 329.5h7M359.5 326v7M356 331.5h7M359.5 328v7M356 333.5h7M359.5 330v7M356 329.5h7M359.5 326v7M356 332.5h7M359.5 329v7M356 329.5h7M359.5 326v7M357 333.5h7M360.5 330v7M357 330.5h7M360.5 327v7M357 328.5h7M360.5 325v7M357 330.5h7M360.5 327v7M357 330.5h7M360.5 327v7M358 330.5h7M361.5 327v7M358 329.5h7M361.5 326v7M358 331.5h7M361.5 328v7M358 330.5h7M361.5 327v7M358 332.5h7M361.5 329v7M359 327.5h7M362.5 324v7M359 333.5h7M362.5 330v7M359 329.5h7M362.5 326v7M359 334.5h7M362.5 331v7M359 330.5h7M362.5 327v7M359 328.5h7M362.5 325v7M360 334.5h7M363.5 331v7M360 327.5h7M363.5 324v7M360 333.5h7M363.5 330v7M360 333.5h7M363.5 330v7M360 330.5h7M363.5 327v7M361 334.5h7M364.5 331v7M361 329.5h7M364.5 326v7M361 330.5h7M364.5 327v7M361 338.5h7M364.5 335v7M361 335.5h7M364.5 332v7M362 333.5h7M365.5 330v7M362 330.5h7M365.5 327v7M362 334.5h7M365.5 331v7M362 333.5h7M365.5 330v7M362 330.5h7M365.5 327v7M362 334.5h7M365.5 331v7M363 331.5h7M366.5 328v7M363 334.5h7M366.5 331v7M363 329.5h7M366.5 326v7M363 328.5h7M366.5 325v7M363 334.5h7M366.5 331v7M364 337.5h7M367.5 334v7M364 335.5h7M367.5 332v7M364 329.5h7M367.5 326v7M364 333.5h7M367.5 330v7M364 329.5h7M367.5 326v7M365 334.5h7M368.5 331v7M365 333.5h7M368.5 330v7M365 332.5h7M368.5 329v7M365 329.5h7M368.5 326v7M365 332.5h7M368.5 329v7M366 334.5h7M369.5 331v7M366 331.5h7M369.5 328v7M366 331.5h7M369.5 328v7M366 330.5h7M369.5 327v7M366 332.5h7M369.5 329v7M366 333.5h7M369.5 330v7M367 331.5h7M370.5 328v7M367 337.5h7M370.5 334v7M367 331.5h7M370.5 328v7M367 328.5h7M370.5 325v7M367 330.5h7M370.5 327v7M368 334.5h7M371.5 331v7M368 335.5h7M371.5 332v7M368 328.5h7M371.5 325v7M368 333.5h7M371.5 330v7M368 332.5h7M371.5 329v7M369 331.5h7M372.5 328v7M369 333.5h7M372.5 330v7M369 331.5h7M372.5 328v7M369 328.5h7M372.5 325v7M369 332.5h7M372.5 329v7M369 327.5h7M372.5 324v7M370 330.5h7M373.5 327v7M370 331.5h7M373.5 328v7M370 329.5h7M373.5 326v7M370 329.5h7M373.5 326v7M370 329.5h7M373.5 326v7M371 330.5h7M374.5 327v7M371 333.5h7M374.5 330v7M371 327.5h7M374.5 324v7M371 332.5h7M374.5 329v7M371 333.5h7M374.5 330v7M372 329.5h7M375.5 326v7M372 330.5h7M375.5 327v7M372 331.5h7M375.5 328v7M372 331.5h7M375.5 328v7M372 330.5h7M375.5 327v7M373 327.5h7M376.5 324v7M373 332.5h7M376.5 329v7M373 334.5h7M376.5 331v7M373 333.5h7M376.5 330v7M373 330.5h7M376.5 327v7M373 332.5h7M376.5 329v7M374 333.5h7M377.5 330v7M374 330.5h7M377.5 327v7M374 330.5h7M377.5 327v7M374 332.5h7M377.5 329v7M374 331.5h7M377.5 328v7M375 333.5h7M378.5 330v7M375 333.5h7M378.5 330v7M375 332.5h7M378.5 329v7M375 335.5h7M378.5 332v7M375 331.5h7M378.5 328v7M376 332.5h7M379.5 329v7M376 333.5h7M379.5 330v7M376 331.5h7M379.5 328v7M376 331.5h7M379.5 328v7M376 333.5h7M379.5 330v7M376 333.5h7M379.5 330v7M377 333.5h7M380.5 330v7M377 328.5h7M380.5 325v7M377 335.5h7M380.5 332v7M377 332.5h7M380.5 329v7M377 329.5h7M380.5 326v7M378 334.5h7M381.5 331v7M378 334.5h7M381.5 331v7M378 334.5h7M381.5 331v7M378 336.5h7M381.5 333v7M378 329.5h7M381.5 326v7M379 332.5h7M382.5 329v7M379 334.5h7M382.5 331v7M379 333.5h7M382.5 330v7M379 331.5h7M382.5 328v7M379 332.5h7M382.5 329v7M380 334.5h7M383.5 331v7M380 330.5h7M383.5 327v7M380 334.5h7M383.5 331v7M380 333.5h7M383.5 330v7M380 331.5h7M383.5 328v7M380 333.5h7M383.5 330v7M381 332.5h7M384.5 329v7M381 333.5h7M384.5 330v7M381 325.5h7M384.5 322v7M381 333.5h7M384.5 330v7M381 330.5h7M384.5 327v7M382 334.5h7M385.5 331v7M382 334.5h7M385.5 331v7M382 332.5h7M385.5 329v7M382 333.5h7M385.5 330v7M382 333.5h7M385.5 330v7M383 332.5h7M386.5 329v7M383 330.5h7M386.5 327v7M383 327.5h7M386.5 324v7M383 327.5h7M386.5 324v7M383 332.5h7M386.5 329v7M383 327.5h7M386.5 324v7M384 328.5h7M387.5 325v7M384 333.5h7M387.5 330v7M384 333.5h7M387.5 330v7M384 332.5h7M387.5 329v7M384 327.5h7M387.5 324v7M385 332.5h7M388.5 329v7M385 332.5h7M388.5 329v7M385 329.5h7M388.5 326v7M385 332.5h7M388.5 329v7M385 332.5h7M388.5 329v7M386 330.5h7M389.5 327v7M386 332.5h7M389.5 329v7M386 338.5h7M389.5 335v7M386 335.5h7M389.5 332v7M386 330.5h7M389.5 327v7M386 335.5h7M389.5 332v7M387 329.5h7M390.5 326v7M387 332.5h7M390.5 329v7M387 331.5h7M390.5 328v7M387 331.5h7M390.5 328v7M387 336.5h7M390.5 333v7M388 334.5h7M391.5 331v7M388 334.5h7M391.5 331v7M388 331.5h7M391.5 328v7M388 328.5h7M391.5 325v7M388 333.5h7M391.5 330v7M389 332.5h7M392.5 329v7M389 337.5h7M392.5 334v7M389 333.5h7M392.5 330v7M389 333.5h7M392.5 330v7M389 332.5h7M392.5 329v7M390 331.5h7M393.5 328v7M390 329.5h7M393.5 326v7M390 332.5h7M393.5 329v7M390 331.5h7M393.5 328v7M390 336.5h7M393.5 333v7M390 331.5h7M393.5 328v7M391 332.5h7M394.5 329v7M391 336.5h7M394.5 333v7M391 331.5h7M394.5 328v7M391 334.5h7M394.5 331v7M391 330.5h7M394.5 327v7M392 331.5h7M395.5 328v7M392 332.5h7M395.5 329v7M392 328.5h7M395.5 325v7M392 332.5h7M395.5 329v7M392 333.5h7M395.5 330v7M393 332.5h7M396.5 329v7M393 332.5h7M396.5 329v7M393 334.5h7M396.5 331v7M393 331.5h7M396.5 328v7M393 331.5h7M396.5 328v7M393 333.5h7M396.5 330v7M394 336.5h7M397.5 333v7M394 329.5h7M397.5 326v7M394 329.5h7M397.5 326v7M394 330.5h7M397.5 327v7M394 330.5h7M397.5 327v7M395 328.5h7M398.5 325v7M395 331.5h7M398.5 328v7M395 328.5h7M398.5 325v7M395 332.5h7M398.5 329v7M395 334.5h7M398.5 331v7M396 332.5h7M399.5 329v7M396 333.5h7M399.5 330v7M396 331.5h7M399.5 328v7M396 327.5h7M399.5 324v7M396 331.5h7M399.5 328v7M397 329.5h7M400.5 326v7M397 327.5h7M400.5 324v7M397 327.5h7M400.5 324v7M397 332.5h7M400.5 329v7M397 333.5h7M400.5 330v7M397 327.5h7M400.5 324v7M398 334.5h7M401.5 331v7M398 336.5h7M401.5 333v7M398 337.5h7M401.5 334v7M398 329.5h7M401.5 326v7M398 335.5h7M401.5 332v7M399 332.5h7M402.5 329v7M399 332.5h7M402.5 329v7M399 329.5h7M402.5 326v7M399 335.5h7M402.5 332v7M399 332.5h7M402.5 329v7M400 331.5h7M403.5 328v7M400 328.5h7M403.5 325v7M400 332.5h7M403.5 329v7M400 331.5h7M403.5 328v7M400 332.5h7M403.5 329v7M400 329.5h7M403.5 326v7M401 330.5h7M404.5 327v7M401 333.5h7M404.5 330v7M401 331.5h7M404.5 328v7M401 335.5h7M404.5 332v7M401 332.5h7M404.5 329v7M402 334.5h7M405.5 331v7M402 333.5h7M405.5 330v7M402 329.5h7M405.5 326v7M402 327.5h7M405.5 324v7M402 331.5h7M405.5 328v7M403 332.5h7M406.5 329v7M403 333.5h7M406.5 330v7M403 330.5h7M406.5 327v7M403 332.5h7M406.5 329v7M403 330.5h7M406.5 327v7M404 328.5h7M407.5 325v7M404 330.5h7M407.5 327v7M404 333.5h7M407.5 330v7M404 330.5h7M407.5 327v7M404 334.5h7M407.5 331v7M404 336.5h7M407.5 333v7M405 329.5h7M408.5 326v7M405 327.5h7M408.5 324v7M405 329.5h7M408.5 326v7M405 333.5h7M408.5 330v7M405 340.5h7M408.5 337v7M406 334.5h7M409.5 331v7M406 331.5h7M409.5 328v7M406 333.5h7M409.5 330v7M406 329.5h7M409.5 326v7M406 334.5h7M409.5 331v7M407 331.5h7M410.5 328v7M407 332.5h7M410.5 329v7M407 332.5h7M410.5 329v7M407 336.5h7M410.5 333v7M407 332.5h7M410.5 329v7M407 332.5h7M410.5 329v7M408 333.5h7M411.5 330v7M408 335.5h7M411.5 332v7M408 333.5h7M411.5 330v7M408 335.5h7M411.5 332v7M408 331.5h7M411.5 328v7M409 330.5h7M412.5 327v7M409 331.5h7M412.5 328v7M409 331.5h7M412.5 328v7M409 333.5h7M412.5 330v7M409 332.5h7M412.5 329v7M410 337.5h7M413.5 334v7M410 332.5h7M413.5 329v7M410 330.5h7M413.5 327v7M410 334.5h7M413.5 331v7M410 331.5h7M413.5 328v7M411 336.5h7M414.5 333v7M411 332.5h7M414.5 329v7M411 333.5h7M414.5 330v7M411 331.5h7M414.5 328v7M411 332.5h7M414.5 329v7M411 327.5h7M414.5 324v7M412 340.5h7M415.5 337v7M412 336.5h7M415.5 333v7M412 334.5h7M415.5 331v7M412 332.5h7M415.5 329v7M412 334.5h7M415.5 331v7M413 334.5h7M416.5 331v7M413 336.5h7M416.5 333v7M413 336.5h7M416.5 333v7M413 335.5h7M416.5 332v7M413 329.5h7M416.5 326v7M414 335.5h7M417.5 332v7M414 326.5h7M417.5 323v7M414 330.5h7M417.5 327v7M414 333.5h7M417.5 330v7M414 331.5h7M417.5 328v7M414 330.5h7M417.5 327v7M415 335.5h7M418.5 332v7M415 337.5h7M418.5 334v7M415 329.5h7M418.5 326v7M415 335.5h7M418.5 332v7M415 331.5h7M418.5 328v7M416 331.5h7M419.5 328v7M416 337.5h7M419.5 334v7M416 331.5h7M419.5 328v7M416 331.5h7M419.5 328v7M416 330.5h7M419.5 327v7M417 333.5h7M420.5 330v7M417 332.5h7M420.5 329v7M417 332.5h7M420.5 329v7M417 333.5h7M420.5 330v7M417 329.5h7M420.5 326v7M417 330.5h7M420.5 327v7M418 329.5h7M421.5 326v7M418 332.5h7M421.5 329v7M418 330.5h7M421.5 327v7M418 335.5h7M421.5 332v7M418 334.5h7M421.5 331v7M419 330.5h7M422.5 327v7M419 333.5h7M422.5 330v7M419 334.5h7M422.5 331v7M419 332.5h7M422.5 329v7M419 337.5h7M422.5 334v7M420 332.5h7M423.5 329v7M420 332.5h7M423.5 329v7M420 334.5h7M423.5 331v7M420 336.5h7M423.5 333v7M420 329.5h7M423.5 326v7M421 332.5h7M424.5 329v7M421 335.5h7M424.5 332v7M421 334.5h7M424.5 331v7M421 337.5h7M424.5 334v7M421 337.5h7M424.5 334v7M421 338.5h7M424.5 335v7M422 335.5h7M425.5 332v7M422 332.5h7M425.5 329v7M422 331.5h7M425.5 328v7M422 333.5h7M425.5 330v7M422 331.5h7M425.5 328v7M423 332.5h7M426.5 329v7M423 336.5h7M426.5 333v7M423 335.5h7M426.5 332v7M423 332.5h7M426.5 329v7M423 331.5h7M426.5 328v7M424 330.5h7M427.5 327v7M424 336.5h7M427.5 333v7M424 338.5h7M427.5 335v7M424 328.5h7M427.5 325v7M424 334.5h7M427.5 331v7M424 331.5h7M427.5 328v7M425 333.5h7M428.5 330v7M425 336.5h7M428.5 333v7M425 330.5h7M428.5 327v7M425 332.5h7M428.5 329v7M425 330.5h7M428.5 327v7M426 332.5h7M429.5 329v7M426 336.5h7M429.5 333v7M426 333.5h7M429.5 330v7M426 331.5h7M429.5 328v7M426 335.5h7M429.5 332v7M427 333.5h7M430.5 330v7M427 330.5h7M430.5 327v7M427 336.5h7M430.5 333v7M427 334.5h7M430.5 331v7M427 333.5h7M430.5 330v7M428 331.5h7M431.5 328v7M428 333.5h7M431.5 330v7M428 335.5h7M431.5 332v7M428 332.5h7M431.5 329v7M428 335.5h7M431.5 332v7M428 332.5h7M431.5 329v7M429 332.5h7M432.5 329v7M429 334.5h7M432.5 331v7M429 331.5h7M432.5 328v7M429 330.5h7M432.5 327v7M429 336.5h7M432.5 333v7M430 332.5h7M433.5 329v7M430 334.5h7M433.5 331v7M430 334.5h7M433.5 331v7M430 333.5h7M433.5 330v7M430 330.5h7M433.5 327v7M431 334.5h7M434.5 331v7M431 334.5h7M434.5 331v7M431 336.5h7M434.5 333v7M431 334.5h7M434.5 331v7M431 333.5h7M434.5 330v7M431 336.5h7M434.5 333v7M432 334.5h7M435.5 331v7M432 332.5h7M435.5 329v7M432 330.5h7M435.5 327v7M432 334.5h7M435.5 331v7M432 329.5h7M435.5 326v7M433 331.5h7M436.5 328v7M433 331.5h7M436.5 328v7M433 332.5h7M436.5 329v7M433 333.5h7M436.5 330v7M433 335.5h7M436.5 332v7M434 334.5h7M437.5 331v7M434 333.5h7M437.5 330v7M434 333.5h7M437.5 330v7M434 330.5h7M437.5 327v7M434 329.5h7M437.5 326v7M435 332.5h7M438.5 329v7M435 331.5h7M438.5 328v7M435 335.5h7M438.5 332v7M435 338.5h7M438.5 335v7M435 334.5h7M438.5 331v7M435 333.5h7M438.5 330v7M436 330.5h7M439.5 327v7M436 328.5h7M439.5 325v7M436 333.5h7M439.5 330v7M436 330.5h7M439.5 327v7M436 331.5h7M439.5 328v7M437 333.5h7M440.5 330v7M437 331.5h7M440.5 328v7M437 333.5h7M440.5 330v7M437 330.5h7M440.5 327v7M437 336.5h7M440.5 333v7M438 339.5h7M441.5 336v7M438 333.5h7M441.5 330v7M438 331.5h7M441.5 328v7M438 331.5h7M441.5 328v7M438 335.5h7M441.5 332v7M438 332.5h7M441.5 329v7M439 335.5h7M442.5 332v7M439 332.5h7M442.5 329v7M439 336.5h7M442.5 333v7M439 336.5h7M442.5 333v7M439 332.5h7M442.5 329v7M440 337.5h7M443.5 334v7M440 338.5h7M443.5 335v7M440 332.5h7M443.5 329v7M440 334.5h7M443.5 331v7M440 340.5h7M443.5 337v7M441 331.5h7M444.5 328v7M441 337.5h7M444.5 334v7M441 335.5h7M444.5 332v7M441 335.5h7M444.5 332v7M441 330.5h7M444.5 327v7M441 335.5h7M444.5 332v7M442 332.5h7M445.5 329v7M442 335.5h7M445.5 332v7M442 333.5h7M445.5 330v7M442 338.5h7M445.5 335v7M442 335.5h7M445.5 332v7M443 336.5h7M446.5 333v7M443 337.5h7M446.5 334v7M443 334.5h7M446.5 331v7M443 333.5h7M446.5 330v7M443 334.5h7M446.5 331v7M444 336.5h7M447.5 333v7M444 333.5h7M447.5 330v7M444 338.5h7M447.5 335v7M444 335.5h7M447.5 332v7M444 334.5h7M447.5 331v7M445 336.5h7M448.5 333v7M445 336.5h7M448.5 333v7M445 335.5h7M448.5 332v7M445 337.5h7M448.5 334v7M445 336.5h7M448.5 333v7M445 334.5h7M448.5 331v7M446 340.5h7M449.5 337v7M446 333.5h7M449.5 330v7M446 335.5h7M449.5 332v7M446 335.5h7M449.5 332v7M446 338.5h7M449.5 335v7M447 337.5h7M450.5 334v7M447 338.5h7M450.5 335v7M447 335.5h7M450.5 332v7M447 335.5h7M450.5 332v7M447 334.5h7M450.5 331v7M448 336.5h7M451.5 333v7M448 341.5h7M451.5 338v7M448 339.5h7M451.5 336v7M448 337.5h7M451.5 334v7M448 336.5h7M451.5 333v7M448 340.5h7M451.5 337v7M449 337.5h7M452.5 334v7M449 337.5h7M452.5 334v7M449 338.5h7M452.5 335v7M449 337.5h7M452.5 334v7M449 332.5h7M452.5 329v7M450 337.5h7M453.5 334v7M450 332.5h7M453.5 329v7M450 337.5h7M453.5 334v7M450 339.5h7M453.5 336v7M450 336.5h7M453.5 333v7M451 338.5h7M454.5 335v7M451 338.5h7M454.5 335v7M451 343.5h7M454.5 340v7M451 337.5h7M454.5 334v7M451 339.5h7M454.5 336v7M452 335.5h7M455.5 332v7M452 338.5h7M455.5 335v7M452 339.5h7M455.5 336v7M452 340.5h7M455.5 337v7M452 338.5h7M455.5 335v7M452 339.5h7M455.5 336v7M453 340.5h7M456.5 337v7M453 334.5h7M456.5 331v7M453 339.5h7M456.5 336v7M453 336.5h7M456.5 333v7M453 335.5h7M456.5 332v7M454 337.5h7M457.5 334v7M454 337.5h7M457.5 334v7M454 337.5h7M457.5 334v7M454 336.5h7M457.5 333v7M454 337.5h7M457.5 334v7M455 338.5h7M458.5 335v7M455 338.5h7M458.5 335v7M455 340.5h7M458.5 337v7M455 340.5h7M458.5 337v7M455 341.5h7M458.5 338v7M455 339.5h7M458.5 336v7M456 336.5h7M459.5 333v7M456 341.5h7M459.5 338v7M456 341.5h7M459.5 338v7M456 342.5h7M459.5 339v7M456 340.5h7M459.5 337v7M457 337.5h7M460.5 334v7M457 340.5h7M460.5 337v7M457 339.5h7M460.5 336v7M457 345.5h7M460.5 342v7M457 340.5h7M460.5 337v7M458 339.5h7M461.5 336v7M458 341.5h7M461.5 338v7M458 344.5h7M461.5 341v7M458 339.5h7M461.5 336v7M458 340.5h7M461.5 337v7M459 335.5h7M462.5 332v7M459 341.5h7M462.5 338v7M459 340.5h7M462.5 337v7M459 341.5h7M462.5 338v7M459 339.5h7M462.5 336v7M459 344.5h7M462.5 341v7M460 336.5h7M463.5 333v7M460 338.5h7M463.5 335v7M460 340.5h7M463.5 337v7M460 340.5h7M463.5 337v7M460 338.5h7M463.5 335v7M461 338.5h7M464.5 335v7M461 340.5h7M464.5 337v7M461 339.5h7M464.5 336v7M461 338.5h7M464.5 335v7M461 340.5h7M464.5 337v7M462 340.5h7M465.5 337v7M462 340.5h7M465.5 337v7M462 340.5h7M465.5 337v7M462 342.5h7M465.5 339v7M462 341.5h7M465.5 338v7M462 338.5h7M465.5 335v7M463 337.5h7M466.5 334v7M463 339.5h7M466.5 336v7M463 347.5h7M466.5 344v7M463 342.5h7M466.5 339v7M463 337.5h7M466.5 334v7M464 334.5h7M467.5 331v7M464 335.5h7M467.5 332v7M464 339.5h7M467.5 336v7M464 339.5h7M467.5 336v7M464 339.5h7M467.5 336v7M465 334.5h7M468.5 331v7M465 337.5h7M468.5 334v7M465 340.5h7M468.5 337v7M465 335.5h7M468.5 332v7M465 336.5h7M468.5 333v7M466 342.5h7M469.5 339v7M466 339.5h7M469.5 336v7M466 335.5h7M469.5 332v7M466 335.5h7M469.5 332v7M466 340.5h7M469.5 337v7M466 337.5h7M469.5 334v7M467 335.5h7M470.5 332v7M467 336.5h7M470.5 333v7M467 339.5h7M470.5 336v7M467 337.5h7M470.5 334v7M467 335.5h7M470.5 332v7M468 336.5h7M471.5 333v7M468 339.5h7M471.5 336v7M468 331.5h7M471.5 328v7M468 336.5h7M471.5 333v7M468 340.5h7M471.5 337v7M469 337.5h7M472.5 334v7M469 343.5h7M472.5 340v7M469 338.5h7M472.5 335v7M469 336.5h7M472.5 333v7M469 330.5h7M472.5 327v7M469 335.5h7M472.5 332v7M470 335.5h7M473.5 332v7M470 334.5h7M473.5 331v7M470 335.5h7M473.5 332v7M470 337.5h7M473.5 334v7M470 332.5h7M473.5 329v7M471 334.5h7M474.5 331v7M471 331.5h7M474.5 328v7M471 333.5h7M474.5 330v7M471 337.5h7M474.5 334v7M471 336.5h7M474.5 333v7M472 336.5h7M475.5 333v7M472 336.5h7M475.5 333v7M472 333.5h7M475.5 330v7M472 335.5h7M475.5 332v7M472 336.5h7M475.5 333v7M472 331.5h7M475.5 328v7M473 331.5h7M476.5 328v7M473 334.5h7M476.5 331v7M473 336.5h7M476.5 333v7M473 335.5h7M476.5 332v7M473 336.5h7M476.5 333v7M474 336.5h7M477.5 333v7M474 336.5h7M477.5 333v7M474 333.5h7M477.5 330v7M474 333.5h7M477.5 330v7M474 332.5h7M477.5 329v7M475 335.5h7M478.5 332v7M475 332.5h7M478.5 329v7M475 328.5h7M478.5 325v7M475 332.5h7M478.5 329v7M475 334.5h7M478.5 331v7M476 326.5h7M479.5 323v7M476 332.5h7M479.5 329v7M476 334.5h7M479.5 331v7M476 330.5h7M479.5 327v7M476 334.5h7M479.5 331v7M476 333.5h7M479.5 330v7M477 330.5h7M480.5 327v7M477 334.5h7M480.5 331v7M477 336.5h7M480.5 333v7M477 330.5h7M480.5 327v7M477 330.5h7M480.5 327v7M478 335.5h7M481.5 332v7M478 333.5h7M481.5 330v7M478 329.5h7M481.5 326v7M478 331.5h7M481.5 328v7M478 330.5h7M481.5 327v7M479 332.5h7M482.5 329v7M479 333.5h7M482.5 330v7M479 333.5h7M482.5 330v7M479 332.5h7M482.5 329v7M479 331.5h7M482.5 328v7M479 338.5h7M482.5 335v7M480 336.5h7M483.5 333v7M480 331.5h7M483.5 328v7M480 329.5h7M483.5 326v7M480 332.5h7M483.5 329v7M480 331.5h7M483.5 328v7M481 333.5h7M484.5 330v7M481 334.5h7M484.5 331v7M481 330.5h7M484.5 327v7M481 331.5h7M484.5 328v7M481 332.5h7M484.5 329v7M482 333.5h7M485.5 330v7M482 330.5h7M485.5 327v7M482 330.5h7M485.5 327v7M482 331.5h7M485.5 328v7M482 330.5h7M485.5 327v7M483 331.5h7M486.5 328v7M483 329.5h7M486.5 326v7M483 329.5h7M486.5 326v7M483 326.5h7M486.5 323v7M483 326.5h7M486.5 323v7M483 330.5h7M486.5 327v7M484 332.5h7M487.5 329v7M484 328.5h7M487.5 325v7M484 331.5h7M487.5 328v7M484 326.5h7M487.5 323v7M484 333.5h7M487.5 330v7M485 330.5h7M488.5 327v7M485 326.5h7M488.5 323v7M485 329.5h7M488.5 326v7M485 327.5h7M488.5 324v7M485 327.5h7M488.5 324v7M486 330.5h7M489.5 327v7M486 327.5h7M489.5 324v7M486 331.5h7M489.5 328v7M486 330.5h7M489.5 327v7M486 324.5h7M489.5 321v7M486 329.5h7M489.5 326v7M487 328.5h7M490.5 325v7M487 331.5h7M490.5 328v7M487 326.5h7M490.5 323v7M487 331.5h7M490.5 328v7M487 331.5h7M490.5 328v7M488 330.5h7M491.5 327v7M488 331.5h7M491.5 328v7M488 332.5h7M491.5 329v7M488 330.5h7M491.5 327v7M488 330.5h7M491.5 327v7M489 329.5h7M492.5 326v7M489 331.5h7M492.5 328v7M489 331.5h7M492.5 328v7M489 330.5h7M492.5 327v7M489 329.5h7M492.5 326v7M490 331.5h7M493.5 328v7M490 329.5h7M493.5 326v7M490 329.5h7M493.5 326v7M490 326.5h7M493.5 323v7M490 327.5h7M493.5 324v7M490 328.5h7M493.5 325v7M491 326.5h7M494.5 323v7M491 330.5h7M494.5 327v7M491 326.5h7M494.5 323v7M491 328.5h7M494.5 325v7M492 329.5h7M495.5 326v7M493 282.5h7M496.5 279v7M494 142.5h7M497.5 139v7M495 141.5h7M498.5 138v7M496 140.5h7M499.5 137v7M497 141.5h7M500.5 138v7M498 138.5h7M501.5 135v7M499 139.5h7M502.5 136v7M500 141.5h7M503.5 138v7M501 140.5h7M504.5 137v7M502 139.5h7M505.5 136v7M503 139.5h7M506.5 136v7M503 138.5h7M506.5 135v7M504 137.5h7M507.5 134v7M505 137.5h7M508.5 134v7M506 138.5h7M509.5 135v7M507 140.5h7M510.5 137v7M508 138.5h7M511.5 135v7M509 138.5h7M512.5 135v7M510 142.5h7M513.5 139v7M511 141.5h7M514.5 138v7M512 141.5h7M515.5 138v7M513 142.5h7M516.5 139v7M514 140.5h7M517.5 137v7M515 141.5h7M518.5 138v7M516 142.5h7M519.5 139v7M517 143.5h7M520.5 140v7M518 145.5h7M521.5 142v7M519 144.5h7M522.5 141v7M520 144.5h7M523.5 141v7M521 144.5h7M524.5 141v7M521 146.5h7M524.5 143v7M522 146.5h7M525.5 143v7M523 145.5h7M526.5 142v7M524 145.5h7M527.5 142v7M525 146.5h7M528.5 143v7M526 146.5h7M529.5 143v7M527 146.5h7M530.5 143v7M528 146.5h7M531.5 143v7M529 145.5h7M532.5 142v7M530 148.5h7M533.5 145v7M531 216.5h7M534.5 213v7M532 340.5h7M535.5 337v7M533 341.5h7M536.5 338v7M534 343.5h7M537.5 340v7M535 341.5h7M538.5 338v7M536 342.5h7M539.5 339v7M537 342.5h7M540.5 339v7M538 343.5h7M541.5 340v7M538 344.5h7M541.5 341v7M539 346.5h7M542.5 343v7M540 345.5h7M543.5 342v7M541 344.5h7M544.5 341v7M542 348.5h7M545.5 345v7M543 345.5h7M546.5 342v7M544 347.5h7M547.5 344v7M545 347.5h7M548.5 344v7M546 348.5h7M549.5 345v7M547 348.5h7M550.5 345v7M548 347.5h7M551.5 344v7M549 348.5h7M552.5 345v7M550 347.5h7M553.5 344v7M551 349.5h7M554.5 346v7M552 348.5h7M555.5 345v7M553 350.5h7M556.5 347v7M554 350.5h7M557.5 347v7M555 350.5h7M558.5 347v7M555 350.5h7M558.5 347v7M556 349.5h7M559.5 346v7M557 351.5h7M560.5 348v7M558 353.5h7M561.5 350v7M559 352.5h7M562.5 349v7M560 353.5h7M563.5 350v7M561 352.5h7M564.5 349v7M562 353.5h7M565.5 350v7M563 354.5h7M566.5 351v7M564 354.5h7M567.5 351v7M565 353.5h7M568.5 350v7M566 354.5h7M569.5 351v7M567 355.5h7M570.5 352v7M568 354.5h7M571.5 351v7M569 355.5h7M572.5 352v7M570 356.5h7M573.5 353v7M571 355.5h7M574.5 352v7M572 354.5h7M575.5 351v7M572 357.5h7M575.5 354v7M573 355.5h7M576.5 352v7M574 357.5h7M577.5 354v7M575 356.5h7M578.5 353v7M576 356.5h7M579.5 353v7M577 357.5h7M580.5 354v7"/>
<path stroke="#f00" d="M572 49.5H605M588.5 46v7"/>
<path stroke="#00c000" d="M61.5 370.5 L62.5 374.5 L63.5 374.5 L64.5 374.5 L65.5 376.5 L66.5 376.5 L67.5 376.5 L68.5 380.5 L68.5 376.5 L69.5 377.5 L70.5 285.5 L71.5 268.5 L72.5 381.5 L73.5 381.5 L74.5 380.5 L75.5 382.5 L76.5 383.5 L77.5 385.5 L78.5 383.5 L79.5 384.5 L80.5 384.5 L81.5 388.5 L82.5 383.5 L83.5 386.5 L84.5 388.5 L85.5 385.5 L85.5 388.5 L86.5 391.5 L87.5 390.5 L88.5 394.5 L89.5 389.5 L90.5 392.5 L91.5 393.5 L92.5 391.5 L93.5 395.5 L94.5 392.5 L95.5 397.5 L96.5 395.5 L97.5 396.5 L98.5 393.5 L99.5 393.5 L100.5 397.5 L101.5 395.5 L102.5 397.5 L103.5 397.5 L103.5 399.5 L104.5 401.5 L105.5 402.5 L106.5 399.5 L107.5 396.5 L108.5 400.5 L109.5 402.5 L110.5 399.5 L111.5 402.5 L112.5 403.5 L113.5 404.5 L114.5 405.5 L115.5 406.5 L116.5 409.5 L117.5 406.5 L118.5 408.5 L119.5 407.5 L120.5 410.5 L120.5 413.5 L121.5 411.5 L122.5 409.5 L123.5 413.5 L124.5 414.5 L125.5 415.5 L126.5 416.5 L127.5 415.5 L128.5 417.5 L129.5 414.5 L131.5 396.5 L132.5 359.5 L132.5 325.5 L133.5 312.5 L134.5 311.5 L134.5 309.5 L135.5 308.5 L136.5 309.5 L137.5 308.5 L138.5 308.5 L139.5 309.5 L140.5 310.5 L140.5 308.5 L141.5 307.5 L142.5 308.5 L143.5 309.5 L144.5 308.5 L145.5 309.5 L146.5 308.5 L146.5 306.5 L147.5 306.5 L148.5 307.5 L149.5 307.5 L150.5 307.5 L151.5 308.5 L151.5 308.5 L152.5 309.5 L153.5 308.5 L154.5 306.5 L155.5 307.5 L156.5 309.5 L157.5 309.5 L157.5 309.5 L158.5 308.5 L159.5 308.5 L160.5 310.5 L161.5 308.5 L162.5 309.5 L163.5 307.5 L163.5 309.5 L164.5 308.5 L164.5 311.5 L165.5 311.5 L165.5 310.5 L165.5 308.5 L165.5 309.5 L165.5 314.5 L166.5 310.5 L166.5 311.5 L166.5 312.5 L166.5 313.5 L166.5 307.5 L166.5 313.5 L167.5 314.5 L167.5 310.5 L167.5 312.5 L167.5 312.5 L167.5 310.5 L168.5 311.5 L168.5 311.5 L168.5 310.5 L168.5 312.5 L168.5 314.5 L169.5 314.5 L169.5 314.5 L169.5 313.5 L169.5 316.5 L169.5 318.5 L170.5 313.5 L170.5 317.5 L170.5 319.5 L170.5 313.5 L170.5 316.5 L170.5 313.5 L171.5 315.5 L171.5 317.5 L171.5 317.5 L171.5 315.5 L171.5 315.5 L172.5 316.5 L172.5 315.5 L172.5 318.5 L172.5 314.5 L172.5 319.5 L173.5 314.5 L173.5 312.5 L173.5 311.5 L173.5 309.5 L173.5 318.5 L173.5 312.5 L174.5 311.5 L174.5 311.5 L174.5 316.5 L174.5 313.5 L174.5 309.5 L175.5 318.5 L175.5 313.5 L175.5 311.5 L175.5 316.5 L175.5 312.5 L176.5 317.5 L176.5 316.5 L176.5 316.5 L176.5 313.5 L176.5 314.5 L176.5 311.5 L177.5 316.5 L177.5 314.5 L177.5 311.5 L177.5 312.5 L177.5 318.5 L178.5 312.5 L178.5 315.5 L178.5 313.5 L178.5 313.5 L178.5 311.5 L179.5 314.5 L179.5 319.5 L179.5 318.5 L179.5 312.5 L179.5 315.5 L180.5 311.5 L180.5 313.5 L180.5 316.5 L180.5 311.5 L180.5 316.5 L180.5 320.5 L181.5 308.5 L181.5 319.5 L181.5 312.5 L181.5 311.5 L181.5 313.5 L182.5 319.5 L182.5 311.5 L182.5 318.5 L182.5 318.5 L182.5 315.5 L183.5 312.5 L183.5 313.5 L183.5 312.5 L183.5 315.5 L183.5 314.5 L183.5 317.5 L184.5 315.5 L184.5 312.5 L184.5 315.5 L184.5 313.5 L184.5 315.5 L185.5 316.5 L185.5 314.5 L185.5 314.5 L185.5 312.5 L185.5 313.5 L186.5 309.5 L186.5 314.5 L186.5 315.5 L186.5 317.5 L186.5 314.5 L187.5 312.5 L187.5 316.5 L187.5 314.5 L187.5 312.5 L187.5 314.5 L187.5 315.5 L188.5 311.5 L188.5 314.5 L188.5 313.5 L188.5 311.5 L188.5 311.5 L189.5 315.5 L189.5 315.5 L189.5 313.5 L189.5 314.5 L189.5 319.5 L190.5 310.5 L190.5 314.5 L190.5 312.5 L190.5 317.5 L190.5 310.5 L190.5 316.5 L191.5 314.5 L191.5 318.5 L191.5 314.5 L191.5 315.5 L191.5 314.5 L192.5 313.5 L192.5 314.5 L192.5 311.5 L192.5 315.5 L192.5 317.5 L193.5 314.5 L193.5 312.5 L193.5 310.5 L193.5 312.5 L193.5 319.5 L194.5 313.5 L194.5 310.5 L194.5 314.5 L194.5 315.5 L194.5 313.5 L194.5 315.5 L195.5 312.5 L195.5 314.5 L195.5 310.5 L195.5 313.5 L195.5 316.5 L196.5 312.5 L196.5 311.5 L196.5 315.5 L196.5 315.5 L196.5 320.5 L197.5 311.5 L197.5 316.5 L197.5 320.5 L197.5 319.5 L197.5 315.5 L197.5 312.5 L198.5 314.5 L198.5 313.5 L198.5 317.5 L198.5 318.5 L198.5 311.5 L199.5 313.5 L199.5 314.5 L199.5 310.5 L199.5 317.5 L199.5 315.5 L200.5 311.5 L200.5 309.5 L200.5 314.5 L200.5 309.5 L200.5 316.5 L200.5 313.5 L201.5 314.5 L201.5 318.5 L201.5 313.5 L201.5 311.5 L201.5 314.5 L202.5 314.5 L202.5 310.5 L202.5 317.5 L202.5 318.5 L202.5 316.5 L203.5 317.5 L203.5 310.5 L203.5 313.5 L203.5 316.5 L203.5 316.5 L204.5 306.5 L204.5 316.5 L204.5 316.5 L204.5 313.5 L204.5 312.5 L204.5 313.5 L205.5 316.5 L205.5 317.5 L205.5 312.5 L205.5 314.5 L205.5 318.5 L206.5 311.5 L206.5 312.5 L206.5 315.5 L206.5 315.5 L206.5 313.5 L207.5 316.5 L207.5 318.5 L207.5 313.5 L207.5 318.5 L207.5 313.5 L207.5 318.5 L208.5 314.5 L208.5 314.5 L208.5 309.5 L208.5 317.5 L208.5 318.5 L209.5 316.5 L209.5 317.5 L209.5 316.5 L209.5 313.5 L209.5 312.5 L210.5 309.5 L210.5 316.5 L210.5 307.5 L210.5 308.5 L210.5 314.5 L211.5 320.5 L211.5 314.5 L211.5 314.5 L211.5 320.5 L211.5 314.5 L211.5 314.5 L212.5 316.5 L212.5 312.5 L212.5 311.5 L212.5 315.5 L212.5 313.5 L213.5 316.5 L213.5 316.5 L213.5 314.5 L213.5 312.5 L213.5 315.5 L214.5 320.5 L214.5 312.5 L214.5 318.5 L214.5 314.5 L214.5 309.5 L214.5 314.5 L215.5 317.5 L215.5 318.5 L215.5 311.5 L215.5 314.5 L215.5 312.5 L216.5 311.5 L216.5 314.5 L216.5 315.5 L216.5 317.5 L216.5 322.5 L217.5 318.5 L217.5 314.5 L217.5 314.5 L217.5 313.5 L217.5 314.5 L218.5 313.5 L218.5 312.5 L218.5 316.5 L218.5 315.5 L218.5 318.5 L218.5 311.5 L219.5 314.5 L219.5 313.5 L219.5 310.5 L219.5 311.5 L219.5 314.5 L220.5 312.5 L220.5 318.5 L220.5 313.5 L220.5 314.5 L220.5 318.5 L221.5 310.5 L221.5 316.5 L221.5 312.5 L221.5 315.5 L221.5 311.5 L221.5 310.5 L222.5 316.5 L222.5 318.5 L222.5 314.5 L222.5 312.5 L222.5 315.5 L223.5 316.5 L223.5 313.5 L223.5 322.5 L223.5 316.5 L223.5 318.5 L224.5 313.5 L224.5 316.5 L224.5 317.5 L224.5 315.5 L224.5 318.5 L225.5 314.5 L225.5 316.5 L225.5 315.5 L225.5 316.5 L225.5 311.5 L225.5 314.5 L226.5 312.5 L226.5 313.5 L226.5 316.5 L226.5 312.5 L226.5 313.5 L227.5 313.5 L227.5 315.5 L227.5 315.5 L227.5 312.5 L227.5 308.5 L228.5 316.5 L228.5 312.5 L228.5 315.5 L228.5 312.5 L228.5 313.5 L228.5 311.5 L229.5 322.5 L229.5 316.5 L229.5 317.5 L229.5 314.5 L229.5 316.5 L230.5 316.5 L230.5 312.5 L230.5 309.5 L230.5 322.5 L230.5 315.5 L231.5 313.5 L231.5 314.5 L231.5 315.5 L231.5 318.5 L231.5 317.5 L231.5 312.5 L232.5 311.5 L232.5 314.5 L232.5 316.5 L232.5 314.5 L232.5 315.5 L233.5 312.5 L233.5 314.5 L233.5 316.5 L233.5 313.5 L233.5 317.5 L234.5 312.5 L234.5 311.5 L234.5 317.5 L234.5 313.5 L234.5 317.5 L235.5 311.5 L235.5 311.5 L235.5 315.5 L235.5 311.5 L235.5 315.5 L235.5 316.5 L236.5 315.5 L236.5 314.5 L236.5 315.5 L236.5 313.5 L236.5 316.5 L237.5 312.5 L237.5 311.5 L237.5 315.5 L237.5 318.5 L237.5 312.5 L238.5 311.5 L238.5 314.5 L238.5 317.5 L238.5 313.5 L238.5 310.5 L238.5 319.5 L239.5 313.5 L239.5 315.5 L239.5 316.5 L239.5 313.5 L239.5 317.5 L240.5 313.5 L240.5 310.5 L240.5 313.5 L240.5 316.5 L240.5 319.5 L241.5 317.5 L241.5 319.5 L241.5 309.5 L241.5 315.5 L241.5 317.5 L242.5 317.5 L242.5 317.5 L242.5 315.5 L242.5 317.5 L242.5 309.5 L242.5 316.5 L243.5 316.5 L243.5 313.5 L243.5 310.5 L243.5 310.5 L243.5 315.5 L244.5 313.5 L244.5 313.5 L244.5 312.5 L244.5 313.5 L244.5 317.5 L245.5 317.5 L245.5 313.5 L245.5 317.5 L245.5 310.5 L245.5 314.5 L245.5 317.5 L246.5 315.5 L246.5 315.5 L246.5 314.5 L246.5 311.5 L246.5 318.5 L247.5 319.5 L247.5 313.5 L247.5 314.5 L247.5 313.5 L247.5 313.5 L248.5 314.5 L248.5 312.5 L248.5 316.5 L248.5 314.5 L248.5 316.5 L249.5 317.5 L249.5 312.5 L249.5 312.5 L249.5 319.5 L249.5 317.5 L249.5 313.5 L250.5 311.5 L250.5 316.5 L250.5 314.5 L250.5 318.5 L250.5 307.5 L251.5 313.5 L251.5 311.5 L251.5 312.5 L251.5 311.5 L251.5 312.5 L252.5 315.5 L252.5 312.5 L252.5 314.5 L252.5 310.5 L252.5 316.5 L252.5 315.5 L253.5 312.5 L253.5 310.5 L253.5 313.5 L253.5 316.5 L253.5 314.5 L254.5 315.5 L254.5 309.5 L254.5 311.5 L254.5 310.5 L254.5 313.5 L255.5 315.5 L255.5 311.5 L255.5 309.5 L255.5 312.5 L255.5 314.5 L255.5 311.5 L256.5 315.5 L256.5 312.5 L256.5 316.5 L256.5 317.5 L256.5 312.5 L257.5 313.5 L257.5 309.5 L257.5 315.5 L257.5 314.5 L257.5 317.5 L258.5 319.5 L258.5 319.5 L258.5 313.5 L258.5 317.5 L258.5 311.5 L259.5 310.5 L259.5 315.5 L259.5 309.5 L259.5 313.5 L259.5 311.5 L259.5 315.5 L260.5 311.5 L260.5 317.5 L260.5 312.5 L260.5 315.5 L260.5 314.5 L261.5 312.5 L261.5 313.5 L261.5 314.5 L261.5 312.5 L261.5 312.5 L262.5 318.5 L262.5 312.5 L262.5 312.5 L262.5 316.5 L262.5 313.5 L262.5 318.5 L263.5 310.5 L263.5 315.5 L263.5 314.5 L263.5 311.5 L263.5 314.5 L264.5 312.5 L264.5 317.5 L264.5 315.5 L264.5 318.5 L264.5 314.5 L265.5 311.5 L265.5 313.5 L265.5 311.5 L265.5 317.5 L265.5 316.5 L266.5 315.5 L266.5 312.5 L266.5 313.5 L266.5 314.5 L266.5 312.5 L266.5 314.5 L267.5 314.5 L267.5 310.5 L267.5 316.5 L267.5 313.5 L267.5 309.5 L268.5 314.5 L268.5 312.5 L268.5 316.5 L268.5 308.5 L268.5 320.5 L269.5 317.5 L269.5 317.5 L269.5 309.5 L269.5 313.5 L269.5 315.5 L269.5 317.5 L270.5 313.5 L270.5 314.5 L270.5 316.5 L270.5 318.5 L270.5 317.5 L271.5 313.5 L271.5 313.5 L271.5 314.5 L271.5 314.5 L271.5 319.5 L272.5 314.5 L272.5 317.5 L272.5 314.5 L272.5 313.5 L272.5 316.5 L273.5 317.5 L273.5 311.5 L273.5 313.5 L273.5 316.5 L273.5 322.5 L273.5 314.5 L274.5 312.5 L274.5 311.5 L274.5 316.5 L274.5 316.5 L274.5 315.5 L275.5 312.5 L275.5 317.5 L275.5 314.5 L275.5 316.5 L275.5 313.5 L276.5 318.5 L276.5 313.5 L276.5 315.5 L276.5 315.5 L276.5 312.5 L276.5 311.5 L277.5 319.5 L277.5 311.5 L277.5 312.5 L277.5 315.5 L277.5 310.5 L278.5 313.5 L278.5 310.5 L278.5 316.5 L278.5 316.5 L278.5 310.5 L279.5 308.5 L279.5 312.5 L279.5 311.5 L279.5 315.5 L279.5 318.5 L280.5 315.5 L280.5 310.5 L280.5 319.5 L280.5 315.5 L280.5 319.5 L280.5 314.5 L281.5 311.5 L281.5 317.5 L281.5 315.5 L281.5 310.5 L281.5 314.5 L282.5 317.5 L282.5 318.5 L282.5 319.5 L282.5 312.5 L282.5 316.5 L283.5 311.5 L283.5 311.5 L283.5 316.5 L283.5 315.5 L283.5 312.5 L283.5 313.5 L284.5 313.5 L284.5 318.5 L284.5 311.5 L284.5 316.5 L284.5 320.5 L285.5 316.5 L285.5 313.5 L285.5 308.5 L285.5 315.5 L285.5 318.5 L286.5 308.5 L286.5 313.5 L286.5 315.5 L286.5 317.5 L286.5 317.5 L286.5 310.5 L287.5 315.5 L287.5 315.5 L287.5 315.5 L287.5 310.5 L287.5 316.5 L288.5 312.5 L288.5 313.5 L288.5 313.5 L288.5 316.5 L288.5 312.5 L289.5 309.5 L289.5 314.5 L289.5 316.5 L289.5 317.5 L289.5 313.5 L290.5 315.5 L290.5 314.5 L290.5 314.5 L290.5 318.5 L290.5 312.5 L290.5 313.5 L291.5 314.5 L291.5 313.5 L291.5 311.5 L291.5 314.5 L291.5 316.5 L292.5 311.5 L292.5 315.5 L292.5 316.5 L292.5 318.5 L292.5 314.5 L293.5 317.5 L293.5 315.5 L293.5 313.5 L293.5 314.5 L293.5 311.5 L293.5 313.5 L294.5 315.5 L294.5 315.5 L294.5 315.5 L294.5 312.5 L294.5 314.5 L295.5 315.5 L295.5 312.5 L295.5 314.5 L295.5 315.5 L295.5 318.5 L296.5 313.5 L296.5 313.5 L296.5 314.5 L296.5 315.5 L296.5 316.5 L297.5 315.5 L297.5 313.5 L297.5 314.5 L297.5 314.5 L297.5 315.5 L297.5 313.5 L298.5 313.5 L298.5 316.5 L298.5 312.5 L298.5 312.5 L298.5 312.5 L299.5 314.5 L299.5 314.5 L299.5 317.5 L299.5 312.5 L299.5 320.5 L300.5 315.5 L300.5 315.5 L300.5 312.5 L300.5 314.5 L300.5 317.5 L300.5 318.5 L301.5 316.5 L301.5 314.5 L301.5 314.5 L301.5 315.5 L301.5 316.5 L302.5 315.5 L302.5 311.5 L302.5 317.5 L302.5 314.5 L302.5 310.5 L303.5 313.5 L303.5 315.5 L303.5 312.5 L303.5 316.5 L303.5 314.5 L304.5 310.5 L304.5 309.5 L304.5 319.5 L304.5 312.5 L304.5 309.5 L304.5 316.5 L305.5 313.5 L305.5 310.5 L305.5 316.5 L305.5 313.5 L305.5 314.5 L306.5 320.5 L306.5 313.5 L306.5 315.5 L306.5 312.5 L306.5 308.5 L307.5 312.5 L307.5 315.5 L307.5 313.5 L307.5 314.5 L307.5 311.5 L307.5 318.5 L308.5 317.5 L308.5 320.5 L308.5 313.5 L308.5 314.5 L308.5 316.5 L309.5 316.5 L309.5 316.5 L309.5 317.5 L309.5 315.5 L309.5 316.5 L310.5 310.5 L310.5 313.5 L310.5 317.5 L310.5 316.5 L310.5 311.5 L310.5 313.5 L311.5 314.5 L311.5 312.5 L311.5 310.5 L311.5 318.5 L311.5 316.5 L312.5 319.5 L312.5 313.5 L312.5 315.5 L312.5 316.5 L312.5 317.5 L313.5 313.5 L313.5 315.5 L313.5 316.5 L313.5 311.5 L313.5 317.5 L314.5 318.5 L314.5 307.5 L314.5 316.5 L314.5 316.5 L314.5 317.5 L314.5 315.5 L315.5 312.5 L315.5 312.5 L315.5 313.5 L315.5 315.5 L315.5 319.5 L316.5 314.5 L316.5 310.5 L316.5 312.5 L316.5 315.5 L316.5 312.5 L317.5 316.5 L317.5 315.5 L317.5 318.5 L317.5 315.5 L317.5 314.5 L317.5 315.5 L318.5 312.5 L318.5 309.5 L318.5 311.5 L318.5 315.5 L318.5 317.5 L319.5 316.5 L319.5 317.5 L319.5 315.5 L319.5 313.5 L319.5 314.5 L320.5 314.5 L320.5 314.5 L320.5 315.5 L320.5 317.5 L320.5 310.5 L321.5 312.5 L321.5 317.5 L321.5 317.5 L321.5 316.5 L321.5 315.5 L321.5 311.5 L322.5 312.5 L322.5 312.5 L322.5 312.5 L322.5 312.5 L322.5 313.5 L323.5 314.5 L323.5 315.5 L323.5 320.5 L323.5 315.5 L323.5 310.5 L324.5 316.5 L324.5 317.5 L324.5 312.5 L324.5 315.5 L324.5 316.5 L324.5 311.5 L325.5 313.5 L325.5 313.5 L325.5 316.5 L325.5 313.5 L325.5 314.5 L326.5 313.5 L326.5 312.5 L326.5 312.5 L326.5 314.5 L326.5 313.5 L327.5 318.5 L327.5 313.5 L327.5 313.5 L327.5 316.5 L327.5 317.5 L328.5 315.5 L328.5 318.5 L328.5 314.5 L328.5 314.5 L328.5 318.5 L328.5 315.5 L329.5 312.5 L329.5 312.5 L329.5 312.5 L329.5 315.5 L329.5 316.5 L330.5 316.5 L330.5 313.5 L330.5 309.5 L330.5 311.5 L330.5 311.5 L331.5 311.5 L331.5 320.5 L331.5 316.5 L331.5 316.5 L331.5 312.5 L331.5 310.5 L332.5 317.5 L332.5 315.5 L332.5 314.5 L332.5 316.5 L332.5 317.5 L333.5 317.5 L333.5 313.5 L333.5 318.5 L333.5 312.5 L333.5 315.5 L334.5 313.5 L334.5 311.5 L334.5 317.5 L334.5 317.5 L334.5 314.5 L334.5 318.5 L335.5 317.5 L335.5 316.5 L335.5 315.5 L335.5 319.5 L335.5 316.5 L336.5 314.5 L336.5 312.5 L336.5 321.5 L336.5 312.5 L336.5 313.5 L337.5 318.5 L337.5 319.5 L337.5 314.5 L337.5 316.5 L337.5 315.5 L338.5 313.5 L338.5 316.5 L338.5 315.5 L338.5 314.5 L338.5 313.5 L338.5 310.5 L339.5 311.5 L339.5 315.5 L339.5 316.5 L339.5 309.5 L339.5 314.5 L340.5 314.5 L340.5 318.5 L340.5 313.5 L340.5 318.5 L340.5 317.5 L341.5 319.5 L341.5 317.5 L341.5 315.5 L341.5 320.5 L341.5 318.5 L341.5 316.5 L342.5 319.5 L342.5 319.5 L342.5 318.5 L342.5 319.5 L342.5 314.5 L343.5 318.5 L343.5 313.5 L343.5 313.5 L343.5 319.5 L343.5 315.5 L344.5 317.5 L344.5 319.5 L344.5 316.5 L344.5 316.5 L344.5 314.5 L345.5 313.5 L345.5 319.5 L345.5 317.5 L345.5 314.5 L345.5 312.5 L345.5 322.5 L346.5 312.5 L346.5 316.5 L346.5 311.5 L346.5 317.5 L346.5 318.5 L347.5 315.5 L347.5 312.5 L347.5 316.5 L347.5 322.5 L347.5 314.5 L348.5 320.5 L348.5 318.5 L348.5 319.5 L348.5 321.5 L348.5 319.5 L348.5 318.5 L349.5 317.5 L349.5 316.5 L349.5 317.5 L349.5 320.5 L349.5 316.5 L350.5 313.5 L350.5 313.5 L350.5 315.5 L350.5 314.5 L350.5 313.5 L351.5 312.5 L351.5 311.5 L351.5 317.5 L351.5 317.5 L351.5 312.5 L352.5 311.5 L352.5 312.5 L352.5 322.5 L352.5 316.5 L352.5 325.5 L352.5 314.5 L353.5 316.5 L353.5 316.5 L353.5 316.5 L353.5 312.5 L353.5 317.5 L354.5 313.5 L354.5 314.5 L354.5 315.5 L354.5 315.5 L354.5 316.5 L355.5 319.5 L355.5 314.5 L355.5 314.5 L355.5 316.5 L355.5 314.5 L355.5 313.5 L356.5 319.5 L356.5 316.5 L356.5 317.5 L356.5 318.5 L356.5 315.5 L357.5 318.5 L357.5 317.5 L357.5 315.5 L357.5 315.5 L357.5 315.5 L358.5 310.5 L358.5 317.5 L358.5 315.5 L358.5 319.5 L358.5 315.5 L359.5 313.5 L359.5 313.5 L359.5 318.5 L359.5 317.5 L359.5 313.5 L359.5 316.5 L360.5 313.5 L360.5 319.5 L360.5 312.5 L360.5 313.5 L360.5 315.5 L361.5 318.5 L361.5 317.5 L361.5 316.5 L361.5 315.5 L361.5 316.5 L362.5 317.5 L362.5 316.5 L362.5 312.5 L362.5 322.5 L362.5 320.5 L362.5 320.5 L363.5 318.5 L363.5 321.5 L363.5 315.5 L363.5 316.5 L363.5 317.5 L364.5 318.5 L364.5 316.5 L364.5 316.5 L364.5 315.5 L364.5 318.5 L365.5 314.5 L365.5 320.5 L365.5 313.5 L365.5 325.5 L365.5 318.5 L365.5 320.5 L366.5 314.5 L366.5 320.5 L366.5 311.5 L366.5 321.5 L366.5 311.5 L367.5 315.5 L367.5 316.5 L367.5 315.5 L367.5 310.5 L367.5 314.5 L368.5 323.5 L368.5 313.5 L368.5 316.5 L368.5 321.5 L368.5 314.5 L369.5 320.5 L369.5 316.5 L369.5 316.5 L369.5 318.5 L369.5 315.5 L369.5 319.5 L370.5 316.5 L370.5 318.5 L370.5 317.5 L370.5 311.5 L370.5 316.5 L371.5 319.5 L371.5 317.5 L371.5 319.5 L371.5 316.5 L371.5 316.5 L372.5 316.5 L372.5 316.5 L372.5 318.5 L372.5 315.5 L372.5 314.5 L372.5 318.5 L373.5 317.5 L373.5 316.5 L373.5 313.5 L373.5 314.5 L373.5 319.5 L374.5 316.5 L374.5 321.5 L374.5 319.5 L374.5 317.5 L374.5 315.5 L375.5 314.5 L375.5 317.5 L375.5 320.5 L375.5 315.5 L375.5 317.5 L376.5 315.5 L376.5 316.5 L376.5 315.5 L376.5 315.5 L376.5 314.5 L376.5 318.5 L377.5 314.5 L377.5 318.5 L377.5 316.5 L377.5 311.5 L377.5 316.5 L378.5 320.5 L378.5 313.5 L378.5 314.5 L378.5 314.5 L378.5 316.5 L379.5 316.5 L379.5 317.5 L379.5 319.5 L379.5 312.5 L379.5 318.5 L379.5 318.5 L380.5 318.5 L380.5 312.5 L380.5 314.5 L380.5 318.5 L380.5 317.5 L381.5 315.5 L381.5 314.5 L381.5 321.5 L381.5 314.5 L381.5 317.5 L382.5 319.5 L382.5 318.5 L382.5 315.5 L382.5 312.5 L382.5 316.5 L383.5 315.5 L383.5 319.5 L383.5 315.5 L383.5 315.5 L383.5 321.5 L383.5 318.5 L384.5 315.5 L384.5 322.5 L384.5 318.5 L384.5 315.5 L384.5 322.5 L385.5 318.5 L385.5 317.5 L385.5 314.5 L385.5 320.5 L385.5 314.5 L386.5 316.5 L386.5 314.5 L386.5 314.5 L386.5 316.5 L386.5 316.5 L386.5 322.5 L387.5 321.5 L387.5 320.5 L387.5 318.5 L387.5 314.5 L387.5 322.5 L388.5 318.5 L388.5 321.5 L388.5 321.5 L388.5 313.5 L388.5 317.5 L389.5 313.5 L389.5 314.5 L389.5 320.5 L389.5 322.5 L389.5 311.5 L389.5 318.5 L390.5 320.5 L390.5 315.5 L390.5 317.5 L390.5 319.5 L390.5 318.5 L391.5 317.5 L391.5 317.5 L391.5 315.5 L391.5 318.5 L391.5 318.5 L392.5 315.5 L392.5 316.5 L392.5 314.5 L392.5 318.5 L392.5 317.5 L393.5 320.5 L393.5 313.5 L393.5 321.5 L393.5 317.5 L393.5 320.5 L393.5 316.5 L394.5 315.5 L394.5 322.5 L394.5 318.5 L394.5 322.5 L394.5 313.5 L395.5 318.5 L395.5 322.5 L395.5 319.5 L395.5 314.5 L395.5 313.5 L396.5 314.5 L396.5 319.5 L396.5 318.5 L396.5 313.5 L396.5 319.5 L396.5 318.5 L397.5 320.5 L397.5 321.5 L397.5 314.5 L397.5 316.5 L397.5 316.5 L398.5 316.5 L398.5 315.5 L398.5 313.5 L398.5 317.5 L398.5 318.5 L399.5 320.5 L399.5 314.5 L399.5 319.5 L399.5 322.5 L399.5 318.5 L400.5 317.5 L400.5 315.5 L400.5 315.5 L400.5 319.5 L400.5 320.5 L400.5 318.5 L401.5 321.5 L401.5 318.5 L401.5 316.5 L401.5 317.5 L401.5 322.5 L402.5 321.5 L402.5 314.5 L402.5 320.5 L402.5 315.5 L402.5 316.5 L403.5 318.5 L403.5 320.5 L403.5 317.5 L403.5 320.5 L403.5 318.5 L403.5 317.5 L404.5 320.5 L404.5 318.5 L404.5 318.5 L404.5 321.5 L404.5 318.5 L405.5 319.5 L405.5 323.5 L405.5 319.5 L405.5 318.5 L405.5 319.5 L406.5 323.5 L406.5 315.5 L406.5 316.5 L406.5 316.5 L406.5 317.5 L407.5 321.5 L407.5 317.5 L407.5 320.5 L407.5 312.5 L407.5 319.5 L407.5 316.5 L408.5 322.5 L408.5 321.5 L408.5 319.5 L408.5 316.5 L408.5 316.5 L409.5 317.5 L409.5 323.5 L409.5 315.5 L409.5 320.5 L409.5 313.5 L410.5 313.5 L410.5 315.5 L410.5 315.5 L410.5 321.5 L410.5 311.5 L410.5 317.5 L411.5 315.5 L411.5 320.5 L411.5 318.5 L411.5 321.5 L411.5 318.5 L412.5 318.5 L412.5 317.5 L412.5 314.5 L412.5 316.5 L412.5 317.5 L413.5 318.5 L413.5 312.5 L413.5 319.5 L413.5 315.5 L413.5 323.5 L414.5 320.5 L414.5 317.5 L414.5 318.5 L414.5 310.5 L414.5 311.5 L414.5 322.5 L415.5 321.5 L415.5 318.5 L415.5 313.5 L415.5 315.5 L415.5 317.5 L416.5 322.5 L416.5 320.5 L416.5 325.5 L416.5 322.5 L416.5 317.5 L417.5 316.5 L417.5 322.5 L417.5 318.5 L417.5 313.5 L417.5 317.5 L417.5 319.5 L418.5 316.5 L418.5 316.5 L418.5 318.5 L418.5 319.5 L418.5 319.5 L419.5 318.5 L419.5 319.5 L419.5 314.5 L419.5 315.5 L419.5 315.5 L420.5 312.5 L420.5 314.5 L420.5 314.5 L420.5 317.5 L420.5 319.5 L420.5 312.5 L421.5 320.5 L421.5 320.5 L421.5 320.5 L421.5 317.5 L421.5 317.5 L422.5 315.5 L422.5 319.5 L422.5 323.5 L422.5 317.5 L422.5 315.5 L423.5 318.5 L423.5 318.5 L423.5 317.5 L423.5 314.5 L423.5 318.5 L424.5 322.5 L424.5 320.5 L424.5 319.5 L424.5 323.5 L424.5 316.5 L424.5 320.5 L425.5 317.5 L425.5 318.5 L425.5 319.5 L425.5 314.5 L425.5 320.5 L426.5 320.5 L426.5 317.5 L426.5 316.5 L426.5 318.5 L426.5 321.5 L427.5 316.5 L427.5 317.5 L427.5 312.5 L427.5 319.5 L427.5 318.5 L427.5 320.5 L428.5 322.5 L428.5 318.5 L428.5 316.5 L428.5 321.5 L428.5 320.5 L429.5 322.5 L429.5 315.5 L429.5 320.5 L429.5 317.5 L429.5 321.5 L430.5 318.5 L430.5 320.5 L430.5 325.5 L430.5 318.5 L430.5 317.5 L431.5 324.5 L431.5 319.5 L431.5 320.5 L431.5 321.5 L431.5 319.5 L431.5 324.5 L432.5 318.5 L432.5 315.5 L432.5 322.5 L432.5 319.5 L432.5 314.5 L433.5 318.5 L433.5 320.5 L433.5 321.5 L433.5 318.5 L433.5 319.5 L434.5 317.5 L434.5 323.5 L434.5 315.5 L434.5 320.5 L434.5 317.5 L434.5 320.5 L435.5 322.5 L435.5 320.5 L435.5 321.5 L435.5 319.5 L435.5 317.5 L436.5 315.5 L436.5 318.5 L436.5 320.5 L436.5 320.5 L436.5 317.5 L437.5 315.5 L437.5 319.5 L437.5 319.5 L437.5 321.5 L437.5 318.5 L438.5 316.5 L438.5 327.5 L438.5 318.5 L438.5 320.5 L438.5 325.5 L438.5 318.5 L439.5 319.5 L439.5 318.5 L439.5 322.5 L439.5 313.5 L439.5 318.5 L440.5 320.5 L440.5 314.5 L440.5 317.5 L440.5 316.5 L440.5 315.5 L441.5 324.5 L441.5 314.5 L441.5 320.5 L441.5 318.5 L441.5 316.5 L441.5 321.5 L442.5 318.5 L442.5 317.5 L442.5 319.5 L442.5 317.5 L442.5 323.5 L443.5 322.5 L443.5 322.5 L443.5 318.5 L443.5 308.5 L443.5 318.5 L444.5 319.5 L444.5 319.5 L444.5 316.5 L444.5 317.5 L444.5 322.5 L444.5 316.5 L445.5 319.5 L445.5 316.5 L445.5 324.5 L445.5 323.5 L445.5 317.5 L446.5 324.5 L446.5 318.5 L446.5 318.5 L446.5 318.5 L446.5 318.5 L447.5 318.5 L447.5 318.5 L447.5 320.5 L447.5 319.5 L447.5 311.5 L448.5 316.5 L448.5 317.5 L448.5 318.5 L448.5 321.5 L448.5 318.5 L448.5 319.5 L449.5 316.5 L449.5 321.5 L449.5 325.5 L449.5 320.5 L449.5 317.5 L450.5 312.5 L450.5 316.5 L450.5 322.5 L450.5 319.5 L450.5 321.5 L451.5 319.5 L451.5 321.5 L451.5 323.5 L451.5 318.5 L451.5 318.5 L451.5 319.5 L452.5 318.5 L452.5 313.5 L452.5 319.5 L452.5 320.5 L452.5 317.5 L453.5 323.5 L453.5 317.5 L453.5 321.5 L453.5 321.5 L453.5 319.5 L454.5 314.5 L454.5 321.5 L454.5 316.5 L454.5 318.5 L454.5 323.5 L455.5 316.5 L455.5 321.5 L455.5 323.5 L455.5 321.5 L455.5 321.5 L455.5 317.5 L456.5 321.5 L456.5 315.5 L456.5 318.5 L456.5 321.5 L456.5 321.5 L457.5 318.5 L457.5 325.5 L457.5 325.5 L457.5 322.5 L457.5 317.5 L458.5 319.5 L458.5 319.5 L458.5 320.5 L458.5 325.5 L458.5 320.5 L458.5 324.5 L459.5 317.5 L459.5 319.5 L459.5 319.5 L459.5 318.5 L459.5 318.5 L460.5 318.5 L460.5 318.5 L460.5 321.5 L460.5 323.5 L460.5 318.5 L461.5 315.5 L461.5 316.5 L461.5 319.5 L461.5 317.5 L461.5 320.5 L462.5 318.5 L462.5 320.5 L462.5 318.5 L462.5 313.5 L462.5 316.5 L462.5 314.5 L463.5 321.5 L463.5 320.5 L463.5 318.5 L463.5 317.5 L463.5 319.5 L464.5 315.5 L464.5 320.5 L464.5 314.5 L464.5 315.5 L464.5 321.5 L465.5 316.5 L465.5 318.5 L465.5 315.5 L465.5 319.5 L465.5 317.5 L465.5 316.5 L466.5 325.5 L466.5 323.5 L466.5 317.5 L466.5 318.5 L466.5 314.5 L467.5 317.5 L467.5 321.5 L467.5 316.5 L467.5 319.5 L467.5 318.5 L468.5 318.5 L468.5 316.5 L468.5 321.5 L468.5 320.5 L468.5 323.5 L469.5 311.5 L469.5 319.5 L469.5 319.5 L469.5 320.5 L469.5 318.5 L469.5 317.5 L470.5 314.5 L470.5 316.5 L470.5 315.5 L470.5 318.5 L470.5 316.5 L471.5 313.5 L471.5 316.5 L471.5 315.5 L471.5 322.5 L471.5 315.5 L472.5 315.5 L472.5 312.5 L472.5 323.5 L472.5 316.5 L472.5 316.5 L472.5 316.5 L473.5 318.5 L473.5 315.5 L473.5 314.5 L473.5 316.5 L473.5 316.5 L474.5 316.5 L474.5 317.5 L474.5 315.5 L474.5 318.5 L474.5 321.5 L475.5 312.5 L475.5 320.5 L475.5 316.5 L475.5 319.5 L475.5 316.5 L475.5 318.5 L476.5 315.5 L476.5 318.5 L476.5 319.5 L476.5 314.5 L476.5 312.5 L477.5 314.5 L477.5 315.5 L477.5 318.5 L477.5 315.5 L477.5 314.5 L478.5 317.5 L478.5 313.5 L478.5 315.5 L478.5 314.5 L478.5 316.5 L479.5 316.5 L479.5 314.5 L479.5 314.5 L479.5 314.5 L479.5 318.5 L479.5 317.5 L480.5 315.5 L480.5 320.5 L480.5 312.5 L480.5 314.5 L480.5 315.5 L481.5 317.5 L481.5 312.5 L481.5 315.5 L481.5 309.5 L481.5 313.5 L482.5 319.5 L482.5 312.5 L482.5 316.5 L482.5 316.5 L482.5 315.5 L482.5 315.5 L483.5 314.5 L483.5 312.5 L483.5 313.5 L483.5 316.5 L483.5 318.5 L484.5 316.5 L484.5 313.5 L484.5 311.5 L484.5 309.5 L484.5 318.5 L485.5 314.5 L485.5 314.5 L485.5 315.5 L485.5 313.5 L485.5 314.5 L486.5 314.5 L486.5 315.5 L486.5 312.5 L486.5 310.5 L486.5 309.5 L486.5 315.5 L487.5 316.5 L487.5 314.5 L487.5 315.5 L487.5 310.5 L487.5 315.5 L488.5 313.5 L488.5 317.5 L488.5 314.5 L488.5 312.5 L488.5 308.5 L489.5 315.5 L489.5 312.5 L489.5 318.5 L489.5 316.5 L489.5 315.5 L489.5 314.5 L490.5 311.5 L490.5 311.5 L490.5 317.5 L490.5 311.5 L490.5 315.5 L491.5 307.5 L491.5 311.5 L491.5 312.5 L491.5 313.5 L491.5 312.5 L492.5 312.5 L492.5 314.5 L492.5 310.5 L492.5 311.5 L492.5 310.5 L493.5 312.5 L493.5 310.5 L493.5 314.5 L493.5 302.5 L493.5 314.5 L493.5 313.5 L494.5 309.5 L494.5 308.5 L494.5 314.5 L494.5 316.5 L495.5 312.5 L496.5 264.5 L497.5 108.5 L498.5 109.5 L499.5 108.5 L500.5 108.5 L501.5 107.5 L502.5 105.5 L503.5 105.5 L504.5 107.5 L505.5 106.5 L506.5 106.5 L506.5 105.5 L507.5 107.5 L508.5 107.5 L509.5 106.5 L510.5 105.5 L511.5 107.5 L512.5 104.5 L513.5 104.5 L514.5 107.5 L515.5 109.5 L516.5 108.5 L517.5 108.5 L518.5 107.5 L519.5 110.5 L520.5 106.5 L521.5 106.5 L522.5 111.5 L523.5 112.5 L524.5 111.5 L524.5 110.5 L525.5 110.5 L526.5 111.5 L527.5 113.5 L528.5 115.5 L529.5 113.5 L530.5 113.5 L531.5 115.5 L532.5 114.5 L533.5 115.5 L534.5 190.5 L535.5 319.5 L536.5 325.5 L537.5 326.5 L538.5 326.5 L539.5 328.5 L540.5 326.5 L541.5 329.5 L541.5 328.5 L542.5 330.5 L543.5 329.5 L544.5 330.5 L545.5 330.5 L546.5 332.5 L547.5 334.5 L548.5 333.5 L549.5 333.5 L550.5 335.5 L551.5 334.5 L552.5 336.5 L553.5 334.5 L554.5 335.5 L555.5 335.5 L556.5 333.5 L557.5 336.5 L558.5 336.5 L558.5 336.5 L559.5 337.5 L560.5 338.5 L561.5 337.5 L562.5 337.5 L563.5 342.5 L564.5 340.5 L565.5 340.5 L566.5 341.5 L567.5 340.5 L568.5 342.5 L569.5 341.5 L570.5 343.5 L571.5 343.5 L572.5 342.5 L573.5 344.5 L574.5 343.5 L575.5 344.5 L575.5 344.5 L576.5 343.5 L577.5 343.5 L578.5 345.5 L579.5 345.5 L580.5 342.5"/>
<path stroke="#00c000" d="M58 367l7 7M58 374l7 -7M59 371l7 7M59 378l7 -7M60 371l7 7M60 378l7 -7M61 371l7 7M61 378l7 -7M62 373l7 7M62 380l7 -7M63 373l7 7M63 380l7 -7M64 373l7 7M64 380l7 -7M65 377l7 7M65 384l7 -7M65 373l7 7M65 380l7 -7M66 374l7 7M66 381l7 -7M67 282l7 7M67 289l7 -7M68 265l7 7M68 272l7 -7M69 378l7 7M69 385l7 -7M70 378l7 7M70 385l7 -7M71 377l7 7M71 384l7 -7M72 379l7 7M72 386l7 -7M73 380l7 7M73 387l7 -7M74 382l7 7M74 389l7 -7M75 380l7 7M75 387l7 -7M76 381l7 7M76 388l7 -7M77 381l7 7M77 388l7 -7M78 385l7 7M78 392l7 -7M79 380l7 7M79 387l7 -7M80 383l7 7M80 390l7 -7M81 385l7 7M81 392l7 -7M82 382l7 7M82 389l7 -7M82 385l7 7M82 392l7 -7M83 388l7 7M83 395l7 -7M84 387l7 7M84 394l7 -7M85 391l7 7M85 398l7 -7M86 386l7 7M86 393l7 -7M87 389l7 7M87 396l7 -7M88 390l7 7M88 397l7 -7M89 388l7 7M89 395l7 -7M90 392l7 7M90 399l7 -7M91 389l7 7M91 396l7 -7M92 394l7 7M92 401l7 -7M93 392l7 7M93 399l7 -7M94 393l7 7M94 400l7 -7M95 390l7 7M95 397l7 -7M96 390l7 7M96 397l7 -7M97 394l7 7M97 401l7 -7M98 392l7 7M98 399l7 -7M99 394l7 7M99 401l7 -7M100 394l7 7M100 401l7 -7M100 396l7 7M100 403l7 -7M101 398l7 7M101 405l7 -7M102 399l7 7M102 406l7 -7M103 396l7 7M103 403l7 -7M104 393l7 7M104 400l7 -7M105 397l7 7M105 404l7 -7M106 399l7 7M106 406l7 -7M107 396l7 7M107 403l7 -7M108 399l7 7M108 406l7 -7M109 400l7 7M109 407l7 -7M110 401l7 7M110 408l7 -7M111 402l7 7M111 409l7 -7M112 403l7 7M112 410l7 -7M113 406l7 7M113 413l7 -7M114 403l7 7M114 410l7 -7M115 405l7 7M115 412l7 -7M116 404l7 7M116 411l7 -7M117 407l7 7M117 414l7 -7M117 410l7 7M117 417l7 -7M118 408l7 7M118 415l7 -7M119 406l7 7M119 413l7 -7M120 410l7 7M120 417l7 -7M121 411l7 7M121 418l7 -7M122 412l7 7M122 419l7 -7M123 413l7 7M123 420l7 -7M124 412l7 7M124 419l7 -7M125 414l7 7M125 421l7 -7M126 411l7 7M126 418l7 -7M128 393l7 7M128 400l7 -7M129 356l7 7M129 363l7 -7M129 322l7 7M129 329l7 -7M130 309l7 7M130 316l7 -7M131 308l7 7M131 315l7 -7M131 306l7 7M131 313l7 -7M132 305l7 7M132 312l7 -7M133 306l7 7M133 313l7 -7M134 305l7 7M134 312l7 -7M135 305l7 7M135 312l7 -7M136 306l7 7M136 313l7 -7M137 307l7 7M137 314l7 -7M137 305l7 7M137 312l7 -7M138 304l7 7M138 311l7 -7M139 305l7 7M139 312l7 -7M140 306l7 7M140 313l7 -7M141 305l7 7M141 312l7 -7M142 306l7 7M142 313l7 -7M143 305l7 7M143 312l7 -7M143 303l7 7M143 310l7 -7M144 303l7 7M144 310l7 -7M145 304l7 7M145 311l7 -7M146 304l7 7M146 311l7 -7M147 304l7 7M147 311l7 -7M148 305l7 7M148 312l7 -7M148 305l7 7M148 312l7 -7M149 306l7 7M149 313l7 -7M150 305l7 7M150 312l7 -7M151 303l7 7M151 310l7 -7M152 304l7 7M152 311l7 -7M153 306l7 7M153 313l7 -7M154 306l7 7M154 313l7 -7M154 306l7 7M154 313l7 -7M155 305l7 7M155 312l7 -7M156 305l7 7M156 312l7 -7M157 307l7 7M157 314l7 -7M158 305l7 7M158 312l7 -7M159 306l7 7M159 313l7 -7M160 304l7 7M160 311l7 -7M160 306l7 7M160 313l7 -7M161 305l7 7M161 312l7 -7M161 308l7 7M161 315l7 -7M162 308l7 7M162 315l7 -7M162 307l7 7M162 314l7 -7M162 305l7 7M162 312l7 -7M162 306l7 7M162 313l7 -7M162 311l7 7M162 318l7 -7M163 307l7 7M163 314l7 -7M163 308l7 7M163 315l7 -7M163 309l7 7M163 316l7 -7M163 310l7 7M163 317l7 -7M163 304l7 7M163 311l7 -7M163 310l7 7M163 317l7 -7M164 311l7 7M164 318l7 -7M164 307l7 7M164 314l7 -7M164 309l7 7M164 316l7 -7M164 309l7 7M164 316l7 -7M164 307l7 7M164 314l7 -7M165 308l7 7M165 315l7 -7M165 308l7 7M165 315l7 -7M165 307l7 7M165 314l7 -7M165 309l7 7M165 316l7 -7M165 311l7 7M165 318l7 -7M166 311l7 7M166 318l7 -7M166 311l7 7M166 318l7 -7M166 310l7 7M166 317l7 -7M166 313l7 7M166 320l7 -7M166 315l7 7M166 322l7 -7M167 310l7 7M167 317l7 -7M167 314l7 7M167 321l7 -7M167 316l7 7M167 323l7 -7M167 310l7 7M167 317l7 -7M167 313l7 7M167 320l7 -7M167 310l7 7M167 317l7 -7M168 312l7 7M168 319l7 -7M168 314l7 7M168 321l7 -7M168 314l7 7M168 321l7 -7M168 312l7 7M168 319l7 -7M168 312l7 7M168 319l7 -7M169 313l7 7M169 320l7 -7M169 312l7 7M169 319l7 -7M169 315l7 7M169 322l7 -7M169 311l7 7M169 318l7 -7M169 316l7 7M169 323l7 -7M170 311l7 7M170 318l7 -7M170 309l7 7M170 316l7 -7M170 308l7 7M170 315l7 -7M170 306l7 7M170 313l7 -7M170 315l7 7M170 322l7 -7M170 309l7 7M170 316l7 -7M171 308l7 7M171 315l7 -7M171 308l7 7M171 315l7 -7M171 313l7 7M171 320l7 -7M171 310l7 7M171 317l7 -7M171 306l7 7M171 313l7 -7M172 315l7 7M172 322l7 -7M172 310l7 7M172 317l7 -7M172 308l7 7M172 315l7 -7M172 313l7 7M172 320l7 -7M172 309l7 7M172 316l7 -7M173 314l7 7M173 321l7 -7M173 313l7 7M173 320l7 -7M173 313l7 7M173 320l7 -7M173 310l7 7M173 317l7 -7M173 311l7 7M173 318l7 -7M173 308l7 7M173 315l7 -7M174 313l7 7M174 320l7 -7M174 311l7 7M174 318l7 -7M174 308l7 7M174 315l7 -7M174 309l7 7M174 316l7 -7M174 315l7 7M174 322l7 -7M175 309l7 7M175 316l7 -7M175 312l7 7M175 319l7 -7M175 310l7 7M175 317l7 -7M175 310l7 7M175 317l7 -7M175 308l7 7M175 315l7 -7M176 311l7 7M176 318l7 -7M176 316l7 7M176 323l7 -7M176 315l7 7M176 322l7 -7M176 309l7 7M176 316l7 -7M176 312l7 7M176 319l7 -7M177 308l7 7M177 315l7 -7M177 310l7 7M177 317l7 -7M177 313l7 7M177 320l7 -7M177 308l7 7M177 315l7 -7M177 313l7 7M177 320l7 -7M177 317l7 7M177 324l7 -7M178 305l7 7M178 312l7 -7M178 316l7 7M178 323l7 -7M178 309l7 7M178 316l7 -7M178 308l7 7M178 315l7 -7M178 310l7 7M178 317l7 -7M179 316l7 7M179 323l7 -7M179 308l7 7M179 315l7 -7M179 315l7 7M179 322l7 -7M179 315l7 7M179 322l7 -7M179 312l7 7M179 319l7 -7M180 309l7 7M180 316l7 -7M180 310l7 7M180 317l7 -7M180 309l7 7M180 316l7 -7M180 312l7 7M180 319l7 -7M180 311l7 7M180 318l7 -7M180 314l7 7M180 321l7 -7M181 312l7 7M181 319l7 -7M181 309l7 7M181 316l7 -7M181 312l7 7M181 319l7 -7M181 310l7 7M181 317l7 -7M181 312l7 7M181 319l7 -7M182 313l7 7M182 320l7 -7M182 311l7 7M182 318l7 -7M182 311l7 7M182 318l7 -7M182 309l7 7M182 316l7 -7M182 310l7 7M182 317l7 -7M183 306l7 7M183 313l7 -7M183 311l7 7M183 318l7 -7M183 312l7 7M183 319l7 -7M183 314l7 7M183 321l7 -7M183 311l7 7M183 318l7 -7M184 309l7 7M184 316l7 -7M184 313l7 7M184 320l7 -7M184 311l7 7M184 318l7 -7M184 309l7 7M184 316l7 -7M184 311l7 7M184 318l7 -7M184 312l7 7M184 319l7 -7M185 308l7 7M185 315l7 -7M185 311l7 7M185 318l7 -7M185 310l7 7M185 317l7 -7M185 308l7 7M185 315l7 -7M185 308l7 7M185 315l7 -7M186 312l7 7M186 319l7 -7M186 312l7 7M186 319l7 -7M186 310l7 7M186 317l7 -7M186 311l7 7M186 318l7 -7M186 316l7 7M186 323l7 -7M187 307l7 7M187 314l7 -7M187 311l7 7M187 318l7 -7M187 309l7 7M187 316l7 -7M187 314l7 7M187 321l7 -7M187 307l7 7M187 314l7 -7M187 313l7 7M187 320l7 -7M188 311l7 7M188 318l7 -7M188 315l7 7M188 322l7 -7M188 311l7 7M188 318l7 -7M188 312l7 7M188 319l7 -7M188 311l7 7M188 318l7 -7M189 310l7 7M189 317l7 -7M189 311l7 7M189 318l7 -7M189 308l7 7M189 315l7 -7M189 312l7 7M189 319l7 -7M189 314l7 7M189 321l7 -7M190 311l7 7M190 318l7 -7M190 309l7 7M190 316l7 -7M190 307l7 7M190 314l7 -7M190 309l7 7M190 316l7 -7M190 316l7 7M190 323l7 -7M191 310l7 7M191 317l7 -7M191 307l7 7M191 314l7 -7M191 311l7 7M191 318l7 -7M191 312l7 7M191 319l7 -7M191 310l7 7M191 317l7 -7M191 312l7 7M191 319l7 -7M192 309l7 7M192 316l7 -7M192 311l7 7M192 318l7 -7M192 307l7 7M192 314l7 -7M192 310l7 7M192 317l7 -7M192 313l7 7M192 320l7 -7M193 309l7 7M193 316l7 -7M193 308l7 7M193 315l7 -7M193 312l7 7M193 319l7 -7M193 312l7 7M193 319l7 -7M193 317l7 7M193 324l7 -7M194 308l7 7M194 315l7 -7M194 313l7 7M194 320l7 -7M194 317l7 7M194 324l7 -7M194 316l7 7M194 323l7 -7M194 312l7 7M194 319l7 -7M194 309l7 7M194 316l7 -7M195 311l7 7M195 318l7 -7M195 310l7 7M195 317l7 -7M195 314l7 7M195 321l7 -7M195 315l7 7M195 322l7 -7M195 308l7 7M195 315l7 -7M196 310l7 7M196 317l7 -7M196 311l7 7M196 318l7 -7M196 307l7 7M196 314l7 -7M196 314l7 7M196 321l7 -7M196 312l7 7M196 319l7 -7M197 308l7 7M197 315l7 -7M197 306l7 7M197 313l7 -7M197 311l7 7M197 318l7 -7M197 306l7 7M197 313l7 -7M197 313l7 7M197 320l7 -7M197 310l7 7M197 317l7 -7M198 311l7 7M198 318l7 -7M198 315l7 7M198 322l7 -7M198 310l7 7M198 317l7 -7M198 308l7 7M198 315l7 -7M198 311l7 7M198 318l7 -7M199 311l7 7M199 318l7 -7M199 307l7 7M199 314l7 -7M199 314l7 7M199 321l7 -7M199 315l7 7M199 322l7 -7M199 313l7 7M199 320l7 -7M200 314l7 7M200 321l7 -7M200 307l7 7M200 314l7 -7M200 310l7 7M200 317l7 -7M200 313l7 7M200 320l7 -7M200 313l7 7M200 320l7 -7M201 303l7 7M201 310l7 -7M201 313l7 7M201 320l7 -7M201 313l7 7M201 320l7 -7M201 310l7 7M201 317l7 -7M201 309l7 7M201 316l7 -7M201 310l7 7M201 317l7 -7M202 313l7 7M202 320l7 -7M202 314l7 7M202 321l7 -7M202 309l7 7M202 316l7 -7M202 311l7 7M202 318l7 -7M202 315l7 7M202 322l7 -7M203 308l7 7M203 315l7 -7M203 309l7 7M203 316l7 -7M203 312l7 7M203 319l7 -7M203 312l7 7M203 319l7 -7M203 310l7 7M203 317l7 -7M204 313l7 7M204 320l7 -7M204 315l7 7M204 322l7 -7M204 310l7 7M204 317l7 -7M204 315l7 7M204 322l7 -7M204 310l7 7M204 317l7 -7M204 315l7 7M204 322l7 -7M205 311l7 7M205 318l7 -7M205 311l7 7M205 318l7 -7M205 306l7 7M205 313l7 -7M205 314l7 7M205 321l7 -7M205 315l7 7M205 322l7 -7M206 313l7 7M206 320l7 -7M206 314l7 7M206 321l7 -7M206 313l7 7M206 320l7 -7M206 310l7 7M206 317l7 -7M206 309l7 7M206 316l7 -7M207 306l7 7M207 313l7 -7M207 313l7 7M207 320l7 -7M207 304l7 7M207 311l7 -7M207 305l7 7M207 312l7 -7M207 311l7 7M207 318l7 -7M208 317l7 7M208 324l7 -7M208 311l7 7M208 318l7 -7M208 311l7 7M208 318l7 -7M208 317l7 7M208 324l7 -7M208 311l7 7M208 318l7 -7M208 311l7 7M208 318l7 -7M209 313l7 7M209 320l7 -7M209 309l7 7M209 316l7 -7M209 308l7 7M209 315l7 -7M209 312l7 7M209 319l7 -7M209 310l7 7M209 317l7 -7M210 313l7 7M210 320l7 -7M210 313l7 7M210 320l7 -7M210 311l7 7M210 318l7 -7M210 309l7 7M210 316l7 -7M210 312l7 7M210 319l7 -7M211 317l7 7M211 324l7 -7M211 309l7 7M211 316l7 -7M211 315l7 7M211 322l7 -7M211 311l7 7M211 318l7 -7M211 306l7 7M211 313l7 -7M211 311l7 7M211 318l7 -7M212 314l7 7M212 321l7 -7M212 315l7 7M212 322l7 -7M212 308l7 7M212 315l7 -7M212 311l7 7M212 318l7 -7M212 309l7 7M212 316l7 -7M213 308l7 7M213 315l7 -7M213 311l7 7M213 318l7 -7M213 312l7 7M213 319l7 -7M213 314l7 7M213 321l7 -7M213 319l7 7M213 326l7 -7M214 315l7 7M214 322l7 -7M214 311l7 7M214 318l7 -7M214 311l7 7M214 318l7 -7M214 310l7 7M214 317l7 -7M214 311l7 7M214 318l7 -7M215 310l7 7M215 317l7 -7M215 309l7 7M215 316l7 -7M215 313l7 7M215 320l7 -7M215 312l7 7M215 319l7 -7M215 315l7 7M215 322l7 -7M215 308l7 7M215 315l7 -7M216 311l7 7M216 318l7 -7M216 310l7 7M216 317l7 -7M216 307l7 7M216 314l7 -7M216 308l7 7M216 315l7 -7M216 311l7 7M216 318l7 -7M217 309l7 7M217 316l7 -7M217 315l7 7M217 322l7 -7M217 310l7 7M217 317l7 -7M217 311l7 7M217 318l7 -7M217 315l7 7M217 322l7 -7M218 307l7 7M218 314l7 -7M218 313l7 7M218 320l7 -7M218 309l7 7M218 316l7 -7M218 312l7 7M218 319l7 -7M218 308l7 7M218 315l7 -7M218 307l7 7M218 314l7 -7M219 313l7 7M219 320l7 -7M219 315l7 7M219 322l7 -7M219 311l7 7M219 318l7 -7M219 309l7 7M219 316l7 -7M219 312l7 7M219 319l7 -7M220 313l7 7M220 320l7 -7M220 310l7 7M220 317l7 -7M220 319l7 7M220 326l7 -7M220 313l7 7M220 320l7 -7M220 315l7 7M220 322l7 -7M221 310l7 7M221 317l7 -7M221 313l7 7M221 320l7 -7M221 314l7 7M221 321l7 -7M221 312l7 7M221 319l7 -7M221 315l7 7M221 322l7 -7M222 311l7 7M222 318l7 -7M222 313l7 7M222 320l7 -7M222 312l7 7M222 319l7 -7M222 313l7 7M222 320l7 -7M222 308l7 7M222 315l7 -7M222 311l7 7M222 318l7 -7M223 309l7 7M223 316l7 -7M223 310l7 7M223 317l7 -7M223 313l7 7M223 320l7 -7M223 309l7 7M223 316l7 -7M223 310l7 7M223 317l7 -7M224 310l7 7M224 317l7 -7M224 312l7 7M224 319l7 -7M224 312l7 7M224 319l7 -7M224 309l7 7M224 316l7 -7M224 305l7 7M224 312l7 -7M225 313l7 7M225 320l7 -7M225 309l7 7M225 316l7 -7M225 312l7 7M225 319l7 -7M225 309l7 7M225 316l7 -7M225 310l7 7M225 317l7 -7M225 308l7 7M225 315l7 -7M226 319l7 7M226 326l7 -7M226 313l7 7M226 320l7 -7M226 314l7 7M226 321l7 -7M226 311l7 7M226 318l7 -7M226 313l7 7M226 320l7 -7M227 313l7 7M227 320l7 -7M227 309l7 7M227 316l7 -7M227 306l7 7M227 313l7 -7M227 319l7 7M227 326l7 -7M227 312l7 7M227 319l7 -7M228 310l7 7M228 317l7 -7M228 311l7 7M228 318l7 -7M228 312l7 7M228 319l7 -7M228 315l7 7M228 322l7 -7M228 314l7 7M228 321l7 -7M228 309l7 7M228 316l7 -7M229 308l7 7M229 315l7 -7M229 311l7 7M229 318l7 -7M229 313l7 7M229 320l7 -7M229 311l7 7M229 318l7 -7M229 312l7 7M229 319l7 -7M230 309l7 7M230 316l7 -7M230 311l7 7M230 318l7 -7M230 313l7 7M230 320l7 -7M230 310l7 7M230 317l7 -7M230 314l7 7M230 321l7 -7M231 309l7 7M231 316l7 -7M231 308l7 7M231 315l7 -7M231 314l7 7M231 321l7 -7M231 310l7 7M231 317l7 -7M231 314l7 7M231 321l7 -7M232 308l7 7M232 315l7 -7M232 308l7 7M232 315l7 -7M232 312l7 7M232 319l7 -7M232 308l7 7M232 315l7 -7M232 312l7 7M232 319l7 -7M232 313l7 7M232 320l7 -7M233 312l7 7M233 319l7 -7M233 311l7 7M233 318l7 -7M233 312l7 7M233 319l7 -7M233 310l7 7M233 317l7 -7M233 313l7 7M233 320l7 -7M234 309l7 7M234 316l7 -7M234 308l7 7M234 315l7 -7M234 312l7 7M234 319l7 -7M234 315l7 7M234 322l7 -7M234 309l7 7M234 316l7 -7M235 308l7 7M235 315l7 -7M235 311l7 7M235 318l7 -7M235 314l7 7M235 321l7 -7M235 310l7 7M235 317l7 -7M235 307l7 7M235 314l7 -7M235 316l7 7M235 323l7 -7M236 310l7 7M236 317l7 -7M236 312l7 7M236 319l7 -7M236 313l7 7M236 320l7 -7M236 310l7 7M236 317l7 -7M236 314l7 7M236 321l7 -7M237 310l7 7M237 317l7 -7M237 307l7 7M237 314l7 -7M237 310l7 7M237 317l7 -7M237 313l7 7M237 320l7 -7M237 316l7 7M237 323l7 -7M238 314l7 7M238 321l7 -7M238 316l7 7M238 323l7 -7M238 306l7 7M238 313l7 -7M238 312l7 7M238 319l7 -7M238 314l7 7M238 321l7 -7M239 314l7 7M239 321l7 -7M239 314l7 7M239 321l7 -7M239 312l7 7M239 319l7 -7M239 314l7 7M239 321l7 -7M239 306l7 7M239 313l7 -7M239 313l7 7M239 320l7 -7M240 313l7 7M240 320l7 -7M240 310l7 7M240 317l7 -7M240 307l7 7M240 314l7 -7M240 307l7 7M240 314l7 -7M240 312l7 7M240 319l7 -7M241 310l7 7M241 317l7 -7M241 310l7 7M241 317l7 -7M241 309l7 7M241 316l7 -7M241 310l7 7M241 317l7 -7M241 314l7 7M241 321l7 -7M242 314l7 7M242 321l7 -7M242 310l7 7M242 317l7 -7M242 314l7 7M242 321l7 -7M242 307l7 7M242 314l7 -7M242 311l7 7M242 318l7 -7M242 314l7 7M242 321l7 -7M243 312l7 7M243 319l7 -7M243 312l7 7M243 319l7 -7M243 311l7 7M243 318l7 -7M243 308l7 7M243 315l7 -7M243 315l7 7M243 322l7 -7M244 316l7 7M244 323l7 -7M244 310l7 7M244 317l7 -7M244 311l7 7M244 318l7 -7M244 310l7 7M244 317l7 -7M244 310l7 7M244 317l7 -7M245 311l7 7M245 318l7 -7M245 309l7 7M245 316l7 -7M245 313l7 7M245 320l7 -7M245 311l7 7M245 318l7 -7M245 313l7 7M245 320l7 -7M246 314l7 7M246 321l7 -7M246 309l7 7M246 316l7 -7M246 309l7 7M246 316l7 -7M246 316l7 7M246 323l7 -7M246 314l7 7M246 321l7 -7M246 310l7 7M246 317l7 -7M247 308l7 7M247 315l7 -7M247 313l7 7M247 320l7 -7M247 311l7 7M247 318l7 -7M247 315l7 7M247 322l7 -7M247 304l7 7M247 311l7 -7M248 310l7 7M248 317l7 -7M248 308l7 7M248 315l7 -7M248 309l7 7M248 316l7 -7M248 308l7 7M248 315l7 -7M248 309l7 7M248 316l7 -7M249 312l7 7M249 319l7 -7M249 309l7 7M249 316l7 -7M249 311l7 7M249 318l7 -7M249 307l7 7M249 314l7 -7M249 313l7 7M249 320l7 -7M249 312l7 7M249 319l7 -7M250 309l7 7M250 316l7 -7M250 307l7 7M250 314l7 -7M250 310l7 7M250 317l7 -7M250 313l7 7M250 320l7 -7M250 311l7 7M250 318l7 -7M251 312l7 7M251 319l7 -7M251 306l7 7M251 313l7 -7M251 308l7 7M251 315l7 -7M251 307l7 7M251 314l7 -7M251 310l7 7M251 317l7 -7M252 312l7 7M252 319l7 -7M252 308l7 7M252 315l7 -7M252 306l7 7M252 313l7 -7M252 309l7 7M252 316l7 -7M252 311l7 7M252 318l7 -7M252 308l7 7M252 315l7 -7M253 312l7 7M253 319l7 -7M253 309l7 7M253 316l7 -7M253 313l7 7M253 320l7 -7M253 314l7 7M253 321l7 -7M253 309l7 7M253 316l7 -7M254 310l7 7M254 317l7 -7M254 306l7 7M254 313l7 -7M254 312l7 7M254 319l7 -7M254 311l7 7M254 318l7 -7M254 314l7 7M254 321l7 -7M255 316l7 7M255 323l7 -7M255 316l7 7M255 323l7 -7M255 310l7 7M255 317l7 -7M255 314l7 7M255 321l7 -7M255 308l7 7M255 315l7 -7M256 307l7 7M256 314l7 -7M256 312l7 7M256 319l7 -7M256 306l7 7M256 313l7 -7M256 310l7 7M256 317l7 -7M256 308l7 7M256 315l7 -7M256 312l7 7M256 319l7 -7M257 308l7 7M257 315l7 -7M257 314l7 7M257 321l7 -7M257 309l7 7M257 316l7 -7M257 312l7 7M257 319l7 -7M257 311l7 7M257 318l7 -7M258 309l7 7M258 316l7 -7M258 310l7 7M258 317l7 -7M258 311l7 7M258 318l7 -7M258 309l7 7M258 316l7 -7M258 309l7 7M258 316l7 -7M259 315l7 7M259 322l7 -7M259 309l7 7M259 316l7 -7M259 309l7 7M259 316l7 -7M259 313l7 7M259 320l7 -7M259 310l7 7M259 317l7 -7M259 315l7 7M259 322l7 -7M260 307l7 7M260 314l7 -7M260 312l7 7M260 319l7 -7M260 311l7 7M260 318l7 -7M260 308l7 7M260 315l7 -7M260 311l7 7M260 318l7 -7M261 309l7 7M261 316l7 -7M261 314l7 7M261 321l7 -7M261 312l7 7M261 319l7 -7M261 315l7 7M261 322l7 -7M261 311l7 7M261 318l7 -7M262 308l7 7M262 315l7 -7M262 310l7 7M262 317l7 -7M262 308l7 7M262 315l7 -7M262 314l7 7M262 321l7 -7M262 313l7 7M262 320l7 -7M263 312l7 7M263 319l7 -7M263 309l7 7M263 316l7 -7M263 310l7 7M263 317l7 -7M263 311l7 7M263 318l7 -7M263 309l7 7M263 316l7 -7M263 311l7 7M263 318l7 -7M264 311l7 7M264 318l7 -7M264 307l7 7M264 314l7 -7M264 313l7 7M264 320l7 -7M264 310l7 7M264 317l7 -7M264 306l7 7M264 313l7 -7M265 311l7 7M265 318l7 -7M265 309l7 7M265 316l7 -7M265 313l7 7M265 320l7 -7M265 305l7 7M265 312l7 -7M265 317l7 7M265 324l7 -7M266 314l7 7M266 321l7 -7M266 314l7 7M266 321l7 -7M266 306l7 7M266 313l7 -7M266 310l7 7M266 317l7 -7M266 312l7 7M266 319l7 -7M266 314l7 7M266 321l7 -7M267 310l7 7M267 317l7 -7M267 311l7 7M267 318l7 -7M267 313l7 7M267 320l7 -7M267 315l7 7M267 322l7 -7M267 314l7 7M267 321l7 -7M268 310l7 7M268 317l7 -7M268 310l7 7M268 317l7 -7M268 311l7 7M268 318l7 -7M268 311l7 7M268 318l7 -7M268 316l7 7M268 323l7 -7M269 311l7 7M269 318l7 -7M269 314l7 7M269 321l7 -7M269 311l7 7M269 318l7 -7M269 310l7 7M269 317l7 -7M269 313l7 7M269 320l7 -7M270 314l7 7M270 321l7 -7M270 308l7 7M270 315l7 -7M270 310l7 7M270 317l7 -7M270 313l7 7M270 320l7 -7M270 319l7 7M270 326l7 -7M270 311l7 7M270 318l7 -7M271 309l7 7M271 316l7 -7M271 308l7 7M271 315l7 -7M271 313l7 7M271 320l7 -7M271 313l7 7M271 320l7 -7M271 312l7 7M271 319l7 -7M272 309l7 7M272 316l7 -7M272 314l7 7M272 321l7 -7M272 311l7 7M272 318l7 -7M272 313l7 7M272 320l7 -7M272 310l7 7M272 317l7 -7M273 315l7 7M273 322l7 -7M273 310l7 7M273 317l7 -7M273 312l7 7M273 319l7 -7M273 312l7 7M273 319l7 -7M273 309l7 7M273 316l7 -7M273 308l7 7M273 315l7 -7M274 316l7 7M274 323l7 -7M274 308l7 7M274 315l7 -7M274 309l7 7M274 316l7 -7M274 312l7 7M274 319l7 -7M274 307l7 7M274 314l7 -7M275 310l7 7M275 317l7 -7M275 307l7 7M275 314l7 -7M275 313l7 7M275 320l7 -7M275 313l7 7M275 320l7 -7M275 307l7 7M275 314l7 -7M276 305l7 7M276 312l7 -7M276 309l7 7M276 316l7 -7M276 308l7 7M276 315l7 -7M276 312l7 7M276 319l7 -7M276 315l7 7M276 322l7 -7M277 312l7 7M277 319l7 -7M277 307l7 7M277 314l7 -7M277 316l7 7M277 323l7 -7M277 312l7 7M277 319l7 -7M277 316l7 7M277 323l7 -7M277 311l7 7M277 318l7 -7M278 308l7 7M278 315l7 -7M278 314l7 7M278 321l7 -7M278 312l7 7M278 319l7 -7M278 307l7 7M278 314l7 -7M278 311l7 7M278 318l7 -7M279 314l7 7M279 321l7 -7M279 315l7 7M279 322l7 -7M279 316l7 7M279 323l7 -7M279 309l7 7M279 316l7 -7M279 313l7 7M279 320l7 -7M280 308l7 7M280 315l7 -7M280 308l7 7M280 315l7 -7M280 313l7 7M280 320l7 -7M280 312l7 7M280 319l7 -7M280 309l7 7M280 316l7 -7M280 310l7 7M280 317l7 -7M281 310l7 7M281 317l7 -7M281 315l7 7M281 322l7 -7M281 308l7 7M281 315l7 -7M281 313l7 7M281 320l7 -7M281 317l7 7M281 324l7 -7M282 313l7 7M282 320l7 -7M282 310l7 7M282 317l7 -7M282 305l7 7M282 312l7 -7M282 312l7 7M282 319l7 -7M282 315l7 7M282 322l7 -7M283 305l7 7M283 312l7 -7M283 310l7 7M283 317l7 -7M283 312l7 7M283 319l7 -7M283 314l7 7M283 321l7 -7M283 314l7 7M283 321l7 -7M283 307l7 7M283 314l7 -7M284 312l7 7M284 319l7 -7M284 312l7 7M284 319l7 -7M284 312l7 7M284 319l7 -7M284 307l7 7M284 314l7 -7M284 313l7 7M284 320l7 -7M285 309l7 7M285 316l7 -7M285 310l7 7M285 317l7 -7M285 310l7 7M285 317l7 -7M285 313l7 7M285 320l7 -7M285 309l7 7M285 316l7 -7M286 306l7 7M286 313l7 -7M286 311l7 7M286 318l7 -7M286 313l7 7M286 320l7 -7M286 314l7 7M286 321l7 -7M286 310l7 7M286 317l7 -7M287 312l7 7M287 319l7 -7M287 311l7 7M287 318l7 -7M287 311l7 7M287 318l7 -7M287 315l7 7M287 322l7 -7M287 309l7 7M287 316l7 -7M287 310l7 7M287 317l7 -7M288 311l7 7M288 318l7 -7M288 310l7 7M288 317l7 -7M288 308l7 7M288 315l7 -7M288 311l7 7M288 318l7 -7M288 313l7 7M288 320l7 -7M289 308l7 7M289 315l7 -7M289 312l7 7M289 319l7 -7M289 313l7 7M289 320l7 -7M289 315l7 7M289 322l7 -7M289 311l7 7M289 318l7 -7M290 314l7 7M290 321l7 -7M290 312l7 7M290 319l7 -7M290 310l7 7M290 317l7 -7M290 311l7 7M290 318l7 -7M290 308l7 7M290 315l7 -7M290 310l7 7M290 317l7 -7M291 312l7 7M291 319l7 -7M291 312l7 7M291 319l7 -7M291 312l7 7M291 319l7 -7M291 309l7 7M291 316l7 -7M291 311l7 7M291 318l7 -7M292 312l7 7M292 319l7 -7M292 309l7 7M292 316l7 -7M292 311l7 7M292 318l7 -7M292 312l7 7M292 319l7 -7M292 315l7 7M292 322l7 -7M293 310l7 7M293 317l7 -7M293 310l7 7M293 317l7 -7M293 311l7 7M293 318l7 -7M293 312l7 7M293 319l7 -7M293 313l7 7M293 320l7 -7M294 312l7 7M294 319l7 -7M294 310l7 7M294 317l7 -7M294 311l7 7M294 318l7 -7M294 311l7 7M294 318l7 -7M294 312l7 7M294 319l7 -7M294 310l7 7M294 317l7 -7M295 310l7 7M295 317l7 -7M295 313l7 7M295 320l7 -7M295 309l7 7M295 316l7 -7M295 309l7 7M295 316l7 -7M295 309l7 7M295 316l7 -7M296 311l7 7M296 318l7 -7M296 311l7 7M296 318l7 -7M296 314l7 7M296 321l7 -7M296 309l7 7M296 316l7 -7M296 317l7 7M296 324l7 -7M297 312l7 7M297 319l7 -7M297 312l7 7M297 319l7 -7M297 309l7 7M297 316l7 -7M297 311l7 7M297 318l7 -7M297 314l7 7M297 321l7 -7M297 315l7 7M297 322l7 -7M298 313l7 7M298 320l7 -7M298 311l7 7M298 318l7 -7M298 311l7 7M298 318l7 -7M298 312l7 7M298 319l7 -7M298 313l7 7M298 320l7 -7M299 312l7 7M299 319l7 -7M299 308l7 7M299 315l7 -7M299 314l7 7M299 321l7 -7M299 311l7 7M299 318l7 -7M299 307l7 7M299 314l7 -7M300 310l7 7M300 317l7 -7M300 312l7 7M300 319l7 -7M300 309l7 7M300 316l7 -7M300 313l7 7M300 320l7 -7M300 311l7 7M300 318l7 -7M301 307l7 7M301 314l7 -7M301 306l7 7M301 313l7 -7M301 316l7 7M301 323l7 -7M301 309l7 7M301 316l7 -7M301 306l7 7M301 313l7 -7M301 313l7 7M301 320l7 -7M302 310l7 7M302 317l7 -7M302 307l7 7M302 314l7 -7M302 313l7 7M302 320l7 -7M302 310l7 7M302 317l7 -7M302 311l7 7M302 318l7 -7M303 317l7 7M303 324l7 -7M303 310l7 7M303 317l7 -7M303 312l7 7M303 319l7 -7M303 309l7 7M303 316l7 -7M303 305l7 7M303 312l7 -7M304 309l7 7M304 316l7 -7M304 312l7 7M304 319l7 -7M304 310l7 7M304 317l7 -7M304 311l7 7M304 318l7 -7M304 308l7 7M304 315l7 -7M304 315l7 7M304 322l7 -7M305 314l7 7M305 321l7 -7M305 317l7 7M305 324l7 -7M305 310l7 7M305 317l7 -7M305 311l7 7M305 318l7 -7M305 313l7 7M305 320l7 -7M306 313l7 7M306 320l7 -7M306 313l7 7M306 320l7 -7M306 314l7 7M306 321l7 -7M306 312l7 7M306 319l7 -7M306 313l7 7M306 320l7 -7M307 307l7 7M307 314l7 -7M307 310l7 7M307 317l7 -7M307 314l7 7M307 321l7 -7M307 313l7 7M307 320l7 -7M307 308l7 7M307 315l7 -7M307 310l7 7M307 317l7 -7M308 311l7 7M308 318l7 -7M308 309l7 7M308 316l7 -7M308 307l7 7M308 314l7 -7M308 315l7 7M308 322l7 -7M308 313l7 7M308 320l7 -7M309 316l7 7M309 323l7 -7M309 310l7 7M309 317l7 -7M309 312l7 7M309 319l7 -7M309 313l7 7M309 320l7 -7M309 314l7 7M309 321l7 -7M310 310l7 7M310 317l7 -7M310 312l7 7M310 319l7 -7M310 313l7 7M310 320l7 -7M310 308l7 7M310 315l7 -7M310 314l7 7M310 321l7 -7M311 315l7 7M311 322l7 -7M311 304l7 7M311 311l7 -7M311 313l7 7M311 320l7 -7M311 313l7 7M311 320l7 -7M311 314l7 7M311 321l7 -7M311 312l7 7M311 319l7 -7M312 309l7 7M312 316l7 -7M312 309l7 7M312 316l7 -7M312 310l7 7M312 317l7 -7M312 312l7 7M312 319l7 -7M312 316l7 7M312 323l7 -7M313 311l7 7M313 318l7 -7M313 307l7 7M313 314l7 -7M313 309l7 7M313 316l7 -7M313 312l7 7M313 319l7 -7M313 309l7 7M313 316l7 -7M314 313l7 7M314 320l7 -7M314 312l7 7M314 319l7 -7M314 315l7 7M314 322l7 -7M314 312l7 7M314 319l7 -7M314 311l7 7M314 318l7 -7M314 312l7 7M314 319l7 -7M315 309l7 7M315 316l7 -7M315 306l7 7M315 313l7 -7M315 308l7 7M315 315l7 -7M315 312l7 7M315 319l7 -7M315 314l7 7M315 321l7 -7M316 313l7 7M316 320l7 -7M316 314l7 7M316 321l7 -7M316 312l7 7M316 319l7 -7M316 310l7 7M316 317l7 -7M316 311l7 7M316 318l7 -7M317 311l7 7M317 318l7 -7M317 311l7 7M317 318l7 -7M317 312l7 7M317 319l7 -7M317 314l7 7M317 321l7 -7M317 307l7 7M317 314l7 -7M318 309l7 7M318 316l7 -7M318 314l7 7M318 321l7 -7M318 314l7 7M318 321l7 -7M318 313l7 7M318 320l7 -7M318 312l7 7M318 319l7 -7M318 308l7 7M318 315l7 -7M319 309l7 7M319 316l7 -7M319 309l7 7M319 316l7 -7M319 309l7 7M319 316l7 -7M319 309l7 7M319 316l7 -7M319 310l7 7M319 317l7 -7M320 311l7 7M320 318l7 -7M320 312l7 7M320 319l7 -7M320 317l7 7M320 324l7 -7M320 312l7 7M320 319l7 -7M320 307l7 7M320 314l7 -7M321 313l7 7M321 320l7 -7M321 314l7 7M321 321l7 -7M321 309l7 7M321 316l7 -7M321 312l7 7M321 319l7 -7M321 313l7 7M321 320l7 -7M321 308l7 7M321 315l7 -7M322 310l7 7M322 317l7 -7M322 310l7 7M322 317l7 -7M322 313l7 7M322 320l7 -7M322 310l7 7M322 317l7 -7M322 311l7 7M322 318l7 -7M323 310l7 7M323 317l7 -7M323 309l7 7M323 316l7 -7M323 309l7 7M323 316l7 -7M323 311l7 7M323 318l7 -7M323 310l7 7M323 317l7 -7M324 315l7 7M324 322l7 -7M324 310l7 7M324 317l7 -7M324 310l7 7M324 317l7 -7M324 313l7 7M324 320l7 -7M324 314l7 7M324 321l7 -7M325 312l7 7M325 319l7 -7M325 315l7 7M325 322l7 -7M325 311l7 7M325 318l7 -7M325 311l7 7M325 318l7 -7M325 315l7 7M325 322l7 -7M325 312l7 7M325 319l7 -7M326 309l7 7M326 316l7 -7M326 309l7 7M326 316l7 -7M326 309l7 7M326 316l7 -7M326 312l7 7M326 319l7 -7M326 313l7 7M326 320l7 -7M327 313l7 7M327 320l7 -7M327 310l7 7M327 317l7 -7M327 306l7 7M327 313l7 -7M327 308l7 7M327 315l7 -7M327 308l7 7M327 315l7 -7M328 308l7 7M328 315l7 -7M328 317l7 7M328 324l7 -7M328 313l7 7M328 320l7 -7M328 313l7 7M328 320l7 -7M328 309l7 7M328 316l7 -7M328 307l7 7M328 314l7 -7M329 314l7 7M329 321l7 -7M329 312l7 7M329 319l7 -7M329 311l7 7M329 318l7 -7M329 313l7 7M329 320l7 -7M329 314l7 7M329 321l7 -7M330 314l7 7M330 321l7 -7M330 310l7 7M330 317l7 -7M330 315l7 7M330 322l7 -7M330 309l7 7M330 316l7 -7M330 312l7 7M330 319l7 -7M331 310l7 7M331 317l7 -7M331 308l7 7M331 315l7 -7M331 314l7 7M331 321l7 -7M331 314l7 7M331 321l7 -7M331 311l7 7M331 318l7 -7M331 315l7 7M331 322l7 -7M332 314l7 7M332 321l7 -7M332 313l7 7M332 320l7 -7M332 312l7 7M332 319l7 -7M332 316l7 7M332 323l7 -7M332 313l7 7M332 320l7 -7M333 311l7 7M333 318l7 -7M333 309l7 7M333 316l7 -7M333 318l7 7M333 325l7 -7M333 309l7 7M333 316l7 -7M333 310l7 7M333 317l7 -7M334 315l7 7M334 322l7 -7M334 316l7 7M334 323l7 -7M334 311l7 7M334 318l7 -7M334 313l7 7M334 320l7 -7M334 312l7 7M334 319l7 -7M335 310l7 7M335 317l7 -7M335 313l7 7M335 320l7 -7M335 312l7 7M335 319l7 -7M335 311l7 7M335 318l7 -7M335 310l7 7M335 317l7 -7M335 307l7 7M335 314l7 -7M336 308l7 7M336 315l7 -7M336 312l7 7M336 319l7 -7M336 313l7 7M336 320l7 -7M336 306l7 7M336 313l7 -7M336 311l7 7M336 318l7 -7M337 311l7 7M337 318l7 -7M337 315l7 7M337 322l7 -7M337 310l7 7M337 317l7 -7M337 315l7 7M337 322l7 -7M337 314l7 7M337 321l7 -7M338 316l7 7M338 323l7 -7M338 314l7 7M338 321l7 -7M338 312l7 7M338 319l7 -7M338 317l7 7M338 324l7 -7M338 315l7 7M338 322l7 -7M338 313l7 7M338 320l7 -7M339 316l7 7M339 323l7 -7M339 316l7 7M339 323l7 -7M339 315l7 7M339 322l7 -7M339 316l7 7M339 323l7 -7M339 311l7 7M339 318l7 -7M340 315l7 7M340 322l7 -7M340 310l7 7M340 317l7 -7M340 310l7 7M340 317l7 -7M340 316l7 7M340 323l7 -7M340 312l7 7M340 319l7 -7M341 314l7 7M341 321l7 -7M341 316l7 7M341 323l7 -7M341 313l7 7M341 320l7 -7M341 313l7 7M341 320l7 -7M341 311l7 7M341 318l7 -7M342 310l7 7M342 317l7 -7M342 316l7 7M342 323l7 -7M342 314l7 7M342 321l7 -7M342 311l7 7M342 318l7 -7M342 309l7 7M342 316l7 -7M342 319l7 7M342 326l7 -7M343 309l7 7M343 316l7 -7M343 313l7 7M343 320l7 -7M343 308l7 7M343 315l7 -7M343 314l7 7M343 321l7 -7M343 315l7 7M343 322l7 -7M344 312l7 7M344 319l7 -7M344 309l7 7M344 316l7 -7M344 313l7 7M344 320l7 -7M344 319l7 7M344 326l7 -7M344 311l7 7M344 318l7 -7M345 317l7 7M345 324l7 -7M345 315l7 7M345 322l7 -7M345 316l7 7M345 323l7 -7M345 318l7 7M345 325l7 -7M345 316l7 7M345 323l7 -7M345 315l7 7M345 322l7 -7M346 314l7 7M346 321l7 -7M346 313l7 7M346 320l7 -7M346 314l7 7M346 321l7 -7M346 317l7 7M346 324l7 -7M346 313l7 7M346 320l7 -7M347 310l7 7M347 317l7 -7M347 310l7 7M347 317l7 -7M347 312l7 7M347 319l7 -7M347 311l7 7M347 318l7 -7M347 310l7 7M347 317l7 -7M348 309l7 7M348 316l7 -7M348 308l7 7M348 315l7 -7M348 314l7 7M348 321l7 -7M348 314l7 7M348 321l7 -7M348 309l7 7M348 316l7 -7M349 308l7 7M349 315l7 -7M349 309l7 7M349 316l7 -7M349 319l7 7M349 326l7 -7M349 313l7 7M349 320l7 -7M349 322l7 7M349 329l7 -7M349 311l7 7M349 318l7 -7M350 313l7 7M350 320l7 -7M350 313l7 7M350 320l7 -7M350 313l7 7M350 320l7 -7M350 309l7 7M350 316l7 -7M350 314l7 7M350 321l7 -7M351 310l7 7M351 317l7 -7M351 311l7 7M351 318l7 -7M351 312l7 7M351 319l7 -7M351 312l7 7M351 319l7 -7M351 313l7 7M351 320l7 -7M352 316l7 7M352 323l7 -7M352 311l7 7M352 318l7 -7M352 311l7 7M352 318l7 -7M352 313l7 7M352 320l7 -7M352 311l7 7M352 318l7 -7M352 310l7 7M352 317l7 -7M353 316l7 7M353 323l7 -7M353 313l7 7M353 320l7 -7M353 314l7 7M353 321l7 -7M353 315l7 7M353 322l7 -7M353 312l7 7M353 319l7 -7M354 315l7 7M354 322l7 -7M354 314l7 7M354 321l7 -7M354 312l7 7M354 319l7 -7M354 312l7 7M354 319l7 -7M354 312l7 7M354 319l7 -7M355 307l7 7M355 314l7 -7M355 314l7 7M355 321l7 -7M355 312l7 7M355 319l7 -7M355 316l7 7M355 323l7 -7M355 312l7 7M355 319l7 -7M356 310l7 7M356 317l7 -7M356 310l7 7M356 317l7 -7M356 315l7 7M356 322l7 -7M356 314l7 7M356 321l7 -7M356 310l7 7M356 317l7 -7M356 313l7 7M356 320l7 -7M357 310l7 7M357 317l7 -7M357 316l7 7M357 323l7 -7M357 309l7 7M357 316l7 -7M357 310l7 7M357 317l7 -7M357 312l7 7M357 319l7 -7M358 315l7 7M358 322l7 -7M358 314l7 7M358 321l7 -7M358 313l7 7M358 320l7 -7M358 312l7 7M358 319l7 -7M358 313l7 7M358 320l7 -7M359 314l7 7M359 321l7 -7M359 313l7 7M359 320l7 -7M359 309l7 7M359 316l7 -7M359 319l7 7M359 326l7 -7M359 317l7 7M359 324l7 -7M359 317l7 7M359 324l7 -7M360 315l7 7M360 322l7 -7M360 318l7 7M360 325l7 -7M360 312l7 7M360 319l7 -7M360 313l7 7M360 320l7 -7M360 314l7 7M360 321l7 -7M361 315l7 7M361 322l7 -7M361 313l7 7M361 320l7 -7M361 313l7 7M361 320l7 -7M361 312l7 7M361 319l7 -7M361 315l7 7M361 322l7 -7M362 311l7 7M362 318l7 -7M362 317l7 7M362 324l7 -7M362 310l7 7M362 317l7 -7M362 322l7 7M362 329l7 -7M362 315l7 7M362 322l7 -7M362 317l7 7M362 324l7 -7M363 311l7 7M363 318l7 -7M363 317l7 7M363 324l7 -7M363 308l7 7M363 315l7 -7M363 318l7 7M363 325l7 -7M363 308l7 7M363 315l7 -7M364 312l7 7M364 319l7 -7M364 313l7 7M364 320l7 -7M364 312l7 7M364 319l7 -7M364 307l7 7M364 314l7 -7M364 311l7 7M364 318l7 -7M365 320l7 7M365 327l7 -7M365 310l7 7M365 317l7 -7M365 313l7 7M365 320l7 -7M365 318l7 7M365 325l7 -7M365 311l7 7M365 318l7 -7M366 317l7 7M366 324l7 -7M366 313l7 7M366 320l7 -7M366 313l7 7M366 320l7 -7M366 315l7 7M366 322l7 -7M366 312l7 7M366 319l7 -7M366 316l7 7M366 323l7 -7M367 313l7 7M367 320l7 -7M367 315l7 7M367 322l7 -7M367 314l7 7M367 321l7 -7M367 308l7 7M367 315l7 -7M367 313l7 7M367 320l7 -7M368 316l7 7M368 323l7 -7M368 314l7 7M368 321l7 -7M368 316l7 7M368 323l7 -7M368 313l7 7M368 320l7 -7M368 313l7 7M368 320l7 -7M369 313l7 7M369 320l7 -7M369 313l7 7M369 320l7 -7M369 315l7 7M369 322l7 -7M369 312l7 7M369 319l7 -7M369 311l7 7M369 318l7 -7M369 315l7 7M369 322l7 -7M370 314l7 7M370 321l7 -7M370 313l7 7M370 320l7 -7M370 310l7 7M370 317l7 -7M370 311l7 7M370 318l7 -7M370 316l7 7M370 323l7 -7M371 313l7 7M371 320l7 -7M371 318l7 7M371 325l7 -7M371 316l7 7M371 323l7 -7M371 314l7 7M371 321l7 -7M371 312l7 7M371 319l7 -7M372 311l7 7M372 318l7 -7M372 314l7 7M372 321l7 -7M372 317l7 7M372 324l7 -7M372 312l7 7M372 319l7 -7M372 314l7 7M372 321l7 -7M373 312l7 7M373 319l7 -7M373 313l7 7M373 320l7 -7M373 312l7 7M373 319l7 -7M373 312l7 7M373 319l7 -7M373 311l7 7M373 318l7 -7M373 315l7 7M373 322l7 -7M374 311l7 7M374 318l7 -7M374 315l7 7M374 322l7 -7M374 313l7 7M374 320l7 -7M374 308l7 7M374 315l7 -7M374 313l7 7M374 320l7 -7M375 317l7 7M375 324l7 -7M375 310l7 7M375 317l7 -7M375 311l7 7M375 318l7 -7M375 311l7 7M375 318l7 -7M375 313l7 7M375 320l7 -7M376 313l7 7M376 320l7 -7M376 314l7 7M376 321l7 -7M376 316l7 7M376 323l7 -7M376 309l7 7M376 316l7 -7M376 315l7 7M376 322l7 -7M376 315l7 7M376 322l7 -7M377 315l7 7M377 322l7 -7M377 309l7 7M377 316l7 -7M377 311l7 7M377 318l7 -7M377 315l7 7M377 322l7 -7M377 314l7 7M377 321l7 -7M378 312l7 7M378 319l7 -7M378 311l7 7M378 318l7 -7M378 318l7 7M378 325l7 -7M378 311l7 7M378 318l7 -7M378 314l7 7M378 321l7 -7M379 316l7 7M379 323l7 -7M379 315l7 7M379 322l7 -7M379 312l7 7M379 319l7 -7M379 309l7 7M379 316l7 -7M379 313l7 7M379 320l7 -7M380 312l7 7M380 319l7 -7M380 316l7 7M380 323l7 -7M380 312l7 7M380 319l7 -7M380 312l7 7M380 319l7 -7M380 318l7 7M380 325l7 -7M380 315l7 7M380 322l7 -7M381 312l7 7M381 319l7 -7M381 319l7 7M381 326l7 -7M381 315l7 7M381 322l7 -7M381 312l7 7M381 319l7 -7M381 319l7 7M381 326l7 -7M382 315l7 7M382 322l7 -7M382 314l7 7M382 321l7 -7M382 311l7 7M382 318l7 -7M382 317l7 7M382 324l7 -7M382 311l7 7M382 318l7 -7M383 313l7 7M383 320l7 -7M383 311l7 7M383 318l7 -7M383 311l7 7M383 318l7 -7M383 313l7 7M383 320l7 -7M383 313l7 7M383 320l7 -7M383 319l7 7M383 326l7 -7M384 318l7 7M384 325l7 -7M384 317l7 7M384 324l7 -7M384 315l7 7M384 322l7 -7M384 311l7 7M384 318l7 -7M384 319l7 7M384 326l7 -7M385 315l7 7M385 322l7 -7M385 318l7 7M385 325l7 -7M385 318l7 7M385 325l7 -7M385 310l7 7M385 317l7 -7M385 314l7 7M385 321l7 -7M386 310l7 7M386 317l7 -7M386 311l7 7M386 318l7 -7M386 317l7 7M386 324l7 -7M386 319l7 7M386 326l7 -7M386 308l7 7M386 315l7 -7M386 315l7 7M386 322l7 -7M387 317l7 7M387 324l7 -7M387 312l7 7M387 319l7 -7M387 314l7 7M387 321l7 -7M387 316l7 7M387 323l7 -7M387 315l7 7M387 322l7 -7M388 314l7 7M388 321l7 -7M388 314l7 7M388 321l7 -7M388 312l7 7M388 319l7 -7M388 315l7 7M388 322l7 -7M388 315l7 7M388 322l7 -7M389 312l7 7M389 319l7 -7M389 313l7 7M389 320l7 -7M389 311l7 7M389 318l7 -7M389 315l7 7M389 322l7 -7M389 314l7 7M389 321l7 -7M390 317l7 7M390 324l7 -7M390 310l7 7M390 317l7 -7M390 318l7 7M390 325l7 -7M390 314l7 7M390 321l7 -7M390 317l7 7M390 324l7 -7M390 313l7 7M390 320l7 -7M391 312l7 7M391 319l7 -7M391 319l7 7M391 326l7 -7M391 315l7 7M391 322l7 -7M391 319l7 7M391 326l7 -7M391 310l7 7M391 317l7 -7M392 315l7 7M392 322l7 -7M392 319l7 7M392 326l7 -7M392 316l7 7M392 323l7 -7M392 311l7 7M392 318l7 -7M392 310l7 7M392 317l7 -7M393 311l7 7M393 318l7 -7M393 316l7 7M393 323l7 -7M393 315l7 7M393 322l7 -7M393 310l7 7M393 317l7 -7M393 316l7 7M393 323l7 -7M393 315l7 7M393 322l7 -7M394 317l7 7M394 324l7 -7M394 318l7 7M394 325l7 -7M394 311l7 7M394 318l7 -7M394 313l7 7M394 320l7 -7M394 313l7 7M394 320l7 -7M395 313l7 7M395 320l7 -7M395 312l7 7M395 319l7 -7M395 310l7 7M395 317l7 -7M395 314l7 7M395 321l7 -7M395 315l7 7M395 322l7 -7M396 317l7 7M396 324l7 -7M396 311l7 7M396 318l7 -7M396 316l7 7M396 323l7 -7M396 319l7 7M396 326l7 -7M396 315l7 7M396 322l7 -7M397 314l7 7M397 321l7 -7M397 312l7 7M397 319l7 -7M397 312l7 7M397 319l7 -7M397 316l7 7M397 323l7 -7M397 317l7 7M397 324l7 -7M397 315l7 7M397 322l7 -7M398 318l7 7M398 325l7 -7M398 315l7 7M398 322l7 -7M398 313l7 7M398 320l7 -7M398 314l7 7M398 321l7 -7M398 319l7 7M398 326l7 -7M399 318l7 7M399 325l7 -7M399 311l7 7M399 318l7 -7M399 317l7 7M399 324l7 -7M399 312l7 7M399 319l7 -7M399 313l7 7M399 320l7 -7M400 315l7 7M400 322l7 -7M400 317l7 7M400 324l7 -7M400 314l7 7M400 321l7 -7M400 317l7 7M400 324l7 -7M400 315l7 7M400 322l7 -7M400 314l7 7M400 321l7 -7M401 317l7 7M401 324l7 -7M401 315l7 7M401 322l7 -7M401 315l7 7M401 322l7 -7M401 318l7 7M401 325l7 -7M401 315l7 7M401 322l7 -7M402 316l7 7M402 323l7 -7M402 320l7 7M402 327l7 -7M402 316l7 7M402 323l7 -7M402 315l7 7M402 322l7 -7M402 316l7 7M402 323l7 -7M403 320l7 7M403 327l7 -7M403 312l7 7M403 319l7 -7M403 313l7 7M403 320l7 -7M403 313l7 7M403 320l7 -7M403 314l7 7M403 321l7 -7M404 318l7 7M404 325l7 -7M404 314l7 7M404 321l7 -7M404 317l7 7M404 324l7 -7M404 309l7 7M404 316l7 -7M404 316l7 7M404 323l7 -7M404 313l7 7M404 320l7 -7M405 319l7 7M405 326l7 -7M405 318l7 7M405 325l7 -7M405 316l7 7M405 323l7 -7M405 313l7 7M405 320l7 -7M405 313l7 7M405 320l7 -7M406 314l7 7M406 321l7 -7M406 320l7 7M406 327l7 -7M406 312l7 7M406 319l7 -7M406 317l7 7M406 324l7 -7M406 310l7 7M406 317l7 -7M407 310l7 7M407 317l7 -7M407 312l7 7M407 319l7 -7M407 312l7 7M407 319l7 -7M407 318l7 7M407 325l7 -7M407 308l7 7M407 315l7 -7M407 314l7 7M407 321l7 -7M408 312l7 7M408 319l7 -7M408 317l7 7M408 324l7 -7M408 315l7 7M408 322l7 -7M408 318l7 7M408 325l7 -7M408 315l7 7M408 322l7 -7M409 315l7 7M409 322l7 -7M409 314l7 7M409 321l7 -7M409 311l7 7M409 318l7 -7M409 313l7 7M409 320l7 -7M409 314l7 7M409 321l7 -7M410 315l7 7M410 322l7 -7M410 309l7 7M410 316l7 -7M410 316l7 7M410 323l7 -7M410 312l7 7M410 319l7 -7M410 320l7 7M410 327l7 -7M411 317l7 7M411 324l7 -7M411 314l7 7M411 321l7 -7M411 315l7 7M411 322l7 -7M411 307l7 7M411 314l7 -7M411 308l7 7M411 315l7 -7M411 319l7 7M411 326l7 -7M412 318l7 7M412 325l7 -7M412 315l7 7M412 322l7 -7M412 310l7 7M412 317l7 -7M412 312l7 7M412 319l7 -7M412 314l7 7M412 321l7 -7M413 319l7 7M413 326l7 -7M413 317l7 7M413 324l7 -7M413 322l7 7M413 329l7 -7M413 319l7 7M413 326l7 -7M413 314l7 7M413 321l7 -7M414 313l7 7M414 320l7 -7M414 319l7 7M414 326l7 -7M414 315l7 7M414 322l7 -7M414 310l7 7M414 317l7 -7M414 314l7 7M414 321l7 -7M414 316l7 7M414 323l7 -7M415 313l7 7M415 320l7 -7M415 313l7 7M415 320l7 -7M415 315l7 7M415 322l7 -7M415 316l7 7M415 323l7 -7M415 316l7 7M415 323l7 -7M416 315l7 7M416 322l7 -7M416 316l7 7M416 323l7 -7M416 311l7 7M416 318l7 -7M416 312l7 7M416 319l7 -7M416 312l7 7M416 319l7 -7M417 309l7 7M417 316l7 -7M417 311l7 7M417 318l7 -7M417 311l7 7M417 318l7 -7M417 314l7 7M417 321l7 -7M417 316l7 7M417 323l7 -7M417 309l7 7M417 316l7 -7M418 317l7 7M418 324l7 -7M418 317l7 7M418 324l7 -7M418 317l7 7M418 324l7 -7M418 314l7 7M418 321l7 -7M418 314l7 7M418 321l7 -7M419 312l7 7M419 319l7 -7M419 316l7 7M419 323l7 -7M419 320l7 7M419 327l7 -7M419 314l7 7M419 321l7 -7M419 312l7 7M419 319l7 -7M420 315l7 7M420 322l7 -7M420 315l7 7M420 322l7 -7M420 314l7 7M420 321l7 -7M420 311l7 7M420 318l7 -7M420 315l7 7M420 322l7 -7M421 319l7 7M421 326l7 -7M421 317l7 7M421 324l7 -7M421 316l7 7M421 323l7 -7M421 320l7 7M421 327l7 -7M421 313l7 7M421 320l7 -7M421 317l7 7M421 324l7 -7M422 314l7 7M422 321l7 -7M422 315l7 7M422 322l7 -7M422 316l7 7M422 323l7 -7M422 311l7 7M422 318l7 -7M422 317l7 7M422 324l7 -7M423 317l7 7M423 324l7 -7M423 314l7 7M423 321l7 -7M423 313l7 7M423 320l7 -7M423 315l7 7M423 322l7 -7M423 318l7 7M423 325l7 -7M424 313l7 7M424 320l7 -7M424 314l7 7M424 321l7 -7M424 309l7 7M424 316l7 -7M424 316l7 7M424 323l7 -7M424 315l7 7M424 322l7 -7M424 317l7 7M424 324l7 -7M425 319l7 7M425 326l7 -7M425 315l7 7M425 322l7 -7M425 313l7 7M425 320l7 -7M425 318l7 7M425 325l7 -7M425 317l7 7M425 324l7 -7M426 319l7 7M426 326l7 -7M426 312l7 7M426 319l7 -7M426 317l7 7M426 324l7 -7M426 314l7 7M426 321l7 -7M426 318l7 7M426 325l7 -7M427 315l7 7M427 322l7 -7M427 317l7 7M427 324l7 -7M427 322l7 7M427 329l7 -7M427 315l7 7M427 322l7 -7M427 314l7 7M427 321l7 -7M428 321l7 7M428 328l7 -7M428 316l7 7M428 323l7 -7M428 317l7 7M428 324l7 -7M428 318l7 7M428 325l7 -7M428 316l7 7M428 323l7 -7M428 321l7 7M428 328l7 -7M429 315l7 7M429 322l7 -7M429 312l7 7M429 319l7 -7M429 319l7 7M429 326l7 -7M429 316l7 7M429 323l7 -7M429 311l7 7M429 318l7 -7M430 315l7 7M430 322l7 -7M430 317l7 7M430 324l7 -7M430 318l7 7M430 325l7 -7M430 315l7 7M430 322l7 -7M430 316l7 7M430 323l7 -7M431 314l7 7M431 321l7 -7M431 320l7 7M431 327l7 -7M431 312l7 7M431 319l7 -7M431 317l7 7M431 324l7 -7M431 314l7 7M431 321l7 -7M431 317l7 7M431 324l7 -7M432 319l7 7M432 326l7 -7M432 317l7 7M432 324l7 -7M432 318l7 7M432 325l7 -7M432 316l7 7M432 323l7 -7M432 314l7 7M432 321l7 -7M433 312l7 7M433 319l7 -7M433 315l7 7M433 322l7 -7M433 317l7 7M433 324l7 -7M433 317l7 7M433 324l7 -7M433 314l7 7M433 321l7 -7M434 312l7 7M434 319l7 -7M434 316l7 7M434 323l7 -7M434 316l7 7M434 323l7 -7M434 318l7 7M434 325l7 -7M434 315l7 7M434 322l7 -7M435 313l7 7M435 320l7 -7M435 324l7 7M435 331l7 -7M435 315l7 7M435 322l7 -7M435 317l7 7M435 324l7 -7M435 322l7 7M435 329l7 -7M435 315l7 7M435 322l7 -7M436 316l7 7M436 323l7 -7M436 315l7 7M436 322l7 -7M436 319l7 7M436 326l7 -7M436 310l7 7M436 317l7 -7M436 315l7 7M436 322l7 -7M437 317l7 7M437 324l7 -7M437 311l7 7M437 318l7 -7M437 314l7 7M437 321l7 -7M437 313l7 7M437 320l7 -7M437 312l7 7M437 319l7 -7M438 321l7 7M438 328l7 -7M438 311l7 7M438 318l7 -7M438 317l7 7M438 324l7 -7M438 315l7 7M438 322l7 -7M438 313l7 7M438 320l7 -7M438 318l7 7M438 325l7 -7M439 315l7 7M439 322l7 -7M439 314l7 7M439 321l7 -7M439 316l7 7M439 323l7 -7M439 314l7 7M439 321l7 -7M439 320l7 7M439 327l7 -7M440 319l7 7M440 326l7 -7M440 319l7 7M440 326l7 -7M440 315l7 7M440 322l7 -7M440 305l7 7M440 312l7 -7M440 315l7 7M440 322l7 -7M441 316l7 7M441 323l7 -7M441 316l7 7M441 323l7 -7M441 313l7 7M441 320l7 -7M441 314l7 7M441 321l7 -7M441 319l7 7M441 326l7 -7M441 313l7 7M441 320l7 -7M442 316l7 7M442 323l7 -7M442 313l7 7M442 320l7 -7M442 321l7 7M442 328l7 -7M442 320l7 7M442 327l7 -7M442 314l7 7M442 321l7 -7M443 321l7 7M443 328l7 -7M443 315l7 7M443 322l7 -7M443 315l7 7M443 322l7 -7M443 315l7 7M443 322l7 -7M443 315l7 7M443 322l7 -7M444 315l7 7M444 322l7 -7M444 315l7 7M444 322l7 -7M444 317l7 7M444 324l7 -7M444 316l7 7M444 323l7 -7M444 308l7 7M444 315l7 -7M445 313l7 7M445 320l7 -7M445 314l7 7M445 321l7 -7M445 315l7 7M445 322l7 -7M445 318l7 7M445 325l7 -7M445 315l7 7M445 322l7 -7M445 316l7 7M445 323l7 -7M446 313l7 7M446 320l7 -7M446 318l7 7M446 325l7 -7M446 322l7 7M446 329l7 -7M446 317l7 7M446 324l7 -7M446 314l7 7M446 321l7 -7M447 309l7 7M447 316l7 -7M447 313l7 7M447 320l7 -7M447 319l7 7M447 326l7 -7M447 316l7 7M447 323l7 -7M447 318l7 7M447 325l7 -7M448 316l7 7M448 323l7 -7M448 318l7 7M448 325l7 -7M448 320l7 7M448 327l7 -7M448 315l7 7M448 322l7 -7M448 315l7 7M448 322l7 -7M448 316l7 7M448 323l7 -7M449 315l7 7M449 322l7 -7M449 310l7 7M449 317l7 -7M449 316l7 7M449 323l7 -7M449 317l7 7M449 324l7 -7M449 314l7 7M449 321l7 -7M450 320l7 7M450 327l7 -7M450 314l7 7M450 321l7 -7M450 318l7 7M450 325l7 -7M450 318l7 7M450 325l7 -7M450 316l7 7M450 323l7 -7M451 311l7 7M451 318l7 -7M451 318l7 7M451 325l7 -7M451 313l7 7M451 320l7 -7M451 315l7 7M451 322l7 -7M451 320l7 7M451 327l7 -7M452 313l7 7M452 320l7 -7M452 318l7 7M452 325l7 -7M452 320l7 7M452 327l7 -7M452 318l7 7M452 325l7 -7M452 318l7 7M452 325l7 -7M452 314l7 7M452 321l7 -7M453 318l7 7M453 325l7 -7M453 312l7 7M453 319l7 -7M453 315l7 7M453 322l7 -7M453 318l7 7M453 325l7 -7M453 318l7 7M453 325l7 -7M454 315l7 7M454 322l7 -7M454 322l7 7M454 329l7 -7M454 322l7 7M454 329l7 -7M454 319l7 7M454 326l7 -7M454 314l7 7M454 321l7 -7M455 316l7 7M455 323l7 -7M455 316l7 7M455 323l7 -7M455 317l7 7M455 324l7 -7M455 322l7 7M455 329l7 -7M455 317l7 7M455 324l7 -7M455 321l7 7M455 328l7 -7M456 314l7 7M456 321l7 -7M456 316l7 7M456 323l7 -7M456 316l7 7M456 323l7 -7M456 315l7 7M456 322l7 -7M456 315l7 7M456 322l7 -7M457 315l7 7M457 322l7 -7M457 315l7 7M457 322l7 -7M457 318l7 7M457 325l7 -7M457 320l7 7M457 327l7 -7M457 315l7 7M457 322l7 -7M458 312l7 7M458 319l7 -7M458 313l7 7M458 320l7 -7M458 316l7 7M458 323l7 -7M458 314l7 7M458 321l7 -7M458 317l7 7M458 324l7 -7M459 315l7 7M459 322l7 -7M459 317l7 7M459 324l7 -7M459 315l7 7M459 322l7 -7M459 310l7 7M459 317l7 -7M459 313l7 7M459 320l7 -7M459 311l7 7M459 318l7 -7M460 318l7 7M460 325l7 -7M460 317l7 7M460 324l7 -7M460 315l7 7M460 322l7 -7M460 314l7 7M460 321l7 -7M460 316l7 7M460 323l7 -7M461 312l7 7M461 319l7 -7M461 317l7 7M461 324l7 -7M461 311l7 7M461 318l7 -7M461 312l7 7M461 319l7 -7M461 318l7 7M461 325l7 -7M462 313l7 7M462 320l7 -7M462 315l7 7M462 322l7 -7M462 312l7 7M462 319l7 -7M462 316l7 7M462 323l7 -7M462 314l7 7M462 321l7 -7M462 313l7 7M462 320l7 -7M463 322l7 7M463 329l7 -7M463 320l7 7M463 327l7 -7M463 314l7 7M463 321l7 -7M463 315l7 7M463 322l7 -7M463 311l7 7M463 318l7 -7M464 314l7 7M464 321l7 -7M464 318l7 7M464 325l7 -7M464 313l7 7M464 320l7 -7M464 316l7 7M464 323l7 -7M464 315l7 7M464 322l7 -7M465 315l7 7M465 322l7 -7M465 313l7 7M465 320l7 -7M465 318l7 7M465 325l7 -7M465 317l7 7M465 324l7 -7M465 320l7 7M465 327l7 -7M466 308l7 7M466 315l7 -7M466 316l7 7M466 323l7 -7M466 316l7 7M466 323l7 -7M466 317l7 7M466 324l7 -7M466 315l7 7M466 322l7 -7M466 314l7 7M466 321l7 -7M467 311l7 7M467 318l7 -7M467 313l7 7M467 320l7 -7M467 312l7 7M467 319l7 -7M467 315l7 7M467 322l7 -7M467 313l7 7M467 320l7 -7M468 310l7 7M468 317l7 -7M468 313l7 7M468 320l7 -7M468 312l7 7M468 319l7 -7M468 319l7 7M468 326l7 -7M468 312l7 7M468 319l7 -7M469 312l7 7M469 319l7 -7M469 309l7 7M469 316l7 -7M469 320l7 7M469 327l7 -7M469 313l7 7M469 320l7 -7M469 313l7 7M469 320l7 -7M469 313l7 7M469 320l7 -7M470 315l7 7M470 322l7 -7M470 312l7 7M470 319l7 -7M470 311l7 7M470 318l7 -7M470 313l7 7M470 320l7 -7M470 313l7 7M470 320l7 -7M471 313l7 7M471 320l7 -7M471 314l7 7M471 321l7 -7M471 312l7 7M471 319l7 -7M471 315l7 7M471 322l7 -7M471 318l7 7M471 325l7 -7M472 309l7 7M472 316l7 -7M472 317l7 7M472 324l7 -7M472 313l7 7M472 320l7 -7M472 316l7 7M472 323l7 -7M472 313l7 7M472 320l7 -7M472 315l7 7M472 322l7 -7M473 312l7 7M473 319l7 -7M473 315l7 7M473 322l7 -7M473 316l7 7M473 323l7 -7M473 311l7 7M473 318l7 -7M473 309l7 7M473 316l7 -7M474 311l7 7M474 318l7 -7M474 312l7 7M474 319l7 -7M474 315l7 7M474 322l7 -7M474 312l7 7M474 319l7 -7M474 311l7 7M474 318l7 -7M475 314l7 7M475 321l7 -7M475 310l7 7M475 317l7 -7M475 312l7 7M475 319l7 -7M475 311l7 7M475 318l7 -7M475 313l7 7M475 320l7 -7M476 313l7 7M476 320l7 -7M476 311l7 7M476 318l7 -7M476 311l7 7M476 318l7 -7M476 311l7 7M476 318l7 -7M476 315l7 7M476 322l7 -7M476 314l7 7M476 321l7 -7M477 312l7 7M477 319l7 -7M477 317l7 7M477 324l7 -7M477 309l7 7M477 316l7 -7M477 311l7 7M477 318l7 -7M477 312l7 7M477 319l7 -7M478 314l7 7M478 321l7 -7M478 309l7 7M478 316l7 -7M478 312l7 7M478 319l7 -7M478 306l7 7M478 313l7 -7M478 310l7 7M478 317l7 -7M479 316l7 7M479 323l7 -7M479 309l7 7M479 316l7 -7M479 313l7 7M479 320l7 -7M479 313l7 7M479 320l7 -7M479 312l7 7M479 319l7 -7M479 312l7 7M479 319l7 -7M480 311l7 7M480 318l7 -7M480 309l7 7M480 316l7 -7M480 310l7 7M480 317l7 -7M480 313l7 7M480 320l7 -7M480 315l7 7M480 322l7 -7M481 313l7 7M481 320l7 -7M481 310l7 7M481 317l7 -7M481 308l7 7M481 315l7 -7M481 306l7 7M481 313l7 -7M481 315l7 7M481 322l7 -7M482 311l7 7M482 318l7 -7M482 311l7 7M482 318l7 -7M482 312l7 7M482 319l7 -7M482 310l7 7M482 317l7 -7M482 311l7 7M482 318l7 -7M483 311l7 7M483 318l7 -7M483 312l7 7M483 319l7 -7M483 309l7 7M483 316l7 -7M483 307l7 7M483 314l7 -7M483 306l7 7M483 313l7 -7M483 312l7 7M483 319l7 -7M484 313l7 7M484 320l7 -7M484 311l7 7M484 318l7 -7M484 312l7 7M484 319l7 -7M484 307l7 7M484 314l7 -7M484 312l7 7M484 319l7 -7M485 310l7 7M485 317l7 -7M485 314l7 7M485 321l7 -7M485 311l7 7M485 318l7 -7M485 309l7 7M485 316l7 -7M485 305l7 7M485 312l7 -7M486 312l7 7M486 319l7 -7M486 309l7 7M486 316l7 -7M486 315l7 7M486 322l7 -7M486 313l7 7M486 320l7 -7M486 312l7 7M486 319l7 -7M486 311l7 7M486 318l7 -7M487 308l7 7M487 315l7 -7M487 308l7 7M487 315l7 -7M487 314l7 7M487 321l7 -7M487 308l7 7M487 315l7 -7M487 312l7 7M487 319l7 -7M488 304l7 7M488 311l7 -7M488 308l7 7M488 315l7 -7M488 309l7 7M488 316l7 -7M488 310l7 7M488 317l7 -7M488 309l7 7M488 316l7 -7M489 309l7 7M489 316l7 -7M489 311l7 7M489 318l7 -7M489 307l7 7M489 314l7 -7M489 308l7 7M489 315l7 -7M489 307l7 7M489 314l7 -7M490 309l7 7M490 316l7 -7M490 307l7 7M490 314l7 -7M490 311l7 7M490 318l7 -7M490 299l7 7M490 306l7 -7M490 311l7 7M490 318l7 -7M490 310l7 7M490 317l7 -7M491 306l7 7M491 313l7 -7M491 305l7 7M491 312l7 -7M491 311l7 7M491 318l7 -7M491 313l7 7M491 320l7 -7M492 309l7 7M492 316l7 -7M493 261l7 7M493 268l7 -7M494 105l7 7M494 112l7 -7M495 106l7 7M495 113l7 -7M496 105l7 7M496 112l7 -7M497 105l7 7M497 112l7 -7M498 104l7 7M498 111l7 -7M499 102l7 7M499 109l7 -7M500 102l7 7M500 109l7 -7M501 104l7 7M501 111l7 -7M502 103l7 7M502 110l7 -7M503 103l7 7M503 110l7 -7M503 102l7 7M503 109l7 -7M504 104l7 7M504 111l7 -7M505 104l7 7M505 111l7 -7M506 103l7 7M506 110l7 -7M507 102l7 7M507 109l7 -7M508 104l7 7M508 111l7 -7M509 101l7 7M509 108l7 -7M510 101l7 7M510 108l7 -7M511 104l7 7M511 111l7 -7M512 106l7 7M512 113l7 -7M513 105l7 7M513 112l7 -7M514 105l7 7M514 112l7 -7M515 104l7 7M515 111l7 -7M516 107l7 7M516 114l7 -7M517 103l7 7M517 110l7 -7M518 103l7 7M518 110l7 -7M519 108l7 7M519 115l7 -7M520 109l7 7M520 116l7 -7M521 108l7 7M521 115l7 -7M521 107l7 7M521 114l7 -7M522 107l7 7M522 114l7 -7M523 108l7 7M523 115l7 -7M524 110l7 7M524 117l7 -7M525 112l7 7M525 119l7 -7M526 110l7 7M526 117l7 -7M527 110l7 7M527 117l7 -7M528 112l7 7M528 119l7 -7M529 111l7 7M529 118l7 -7M530 112l7 7M530 119l7 -7M531 187l7 7M531 194l7 -7M532 316l7 7M532 323l7 -7M533 322l7 7M533 329l7 -7M534 323l7 7M534 330l7 -7M535 323l7 7M535 330l7 -7M536 325l7 7M536 332l7 -7M537 323l7 7M537 330l7 -7M538 326l7 7M538 333l7 -7M538 325l7 7M538 332l7 -7M539 327l7 7M539 334l7 -7M540 326l7 7M540 333l7 -7M541 327l7 7M541 334l7 -7M542 327l7 7M542 334l7 -7M543 329l7 7M543 336l7 -7M544 331l7 7M544 338l7 -7M545 330l7 7M545 337l7 -7M546 330l7 7M546 337l7 -7M547 332l7 7M547 339l7 -7M548 331l7 7M548 338l7 -7M549 333l7 7M549 340l7 -7M550 331l7 7M550 338l7 -7M551 332l7 7M551 339l7 -7M552 332l7 7M552 339l7 -7M553 330l7 7M553 337l7 -7M554 333l7 7M554 340l7 -7M555 333l7 7M555 340l7 -7M555 333l7 7M555 340l7 -7M556 334l7 7M556 341l7 -7M557 335l7 7M557 342l7 -7M558 334l7 7M558 341l7 -7M559 334l7 7M559 341l7 -7M560 339l7 7M560 346l7 -7M561 337l7 7M561 344l7 -7M562 337l7 7M562 344l7 -7M563 338l7 7M563 345l7 -7M564 337l7 7M564 344l7 -7M565 339l7 7M565 346l7 -7M566 338l7 7M566 345l7 -7M567 340l7 7M567 347l7 -7M568 340l7 7M568 347l7 -7M569 339l7 7M569 346l7 -7M570 341l7 7M570 348l7 -7M571 340l7 7M571 347l7 -7M572 341l7 7M572 348l7 -7M572 341l7 7M572 348l7 -7M573 340l7 7M573 347l7 -7M574 340l7 7M574 347l7 -7M575 342l7 7M575 349l7 -7M576 342l7 7M576 349l7 -7M577 339l7 7M577 346l7 -7"/>
<path stroke="#00c000" d="M572 62.5H605M585 59l7 7M585 66l7 -7"/>
</g>
<path fill="#000" shape-rendering="crispEdges" d="M115 16h4v1h-4zM114 17h2v1h-2zM118 17h2v1h-2zM114 18h2v1h-2zM115 19h4v1h-4zM118 20h2v1h-2zM118 21h2v1h-2zM114 22h2v1h-2zM118 22h2v1h-2zM115 23h4v1h-4zM121 15h2v1h-2zM121 16h2v1h-2zM121 17h2v1h-2zM121 18h2v1h-2zM125 18h2v1h-2zM121 19h2v1h-2zM124 19h2v1h-2zM121 20h4v1h-4zM121 21h4v1h-4zM121 22h2v1h-2zM124 22h2v1h-2zM121 23h2v1h-2zM125 23h2v1h-2zM128 18h2v1h-2zM132 18h2v1h-2zM128 19h2v1h-2zM132 19h2v1h-2zM128 20h2v1h-2zM132 20h2v1h-2zM128 21h2v1h-2zM132 21h2v1h-2zM128 22h2v1h-2zM132 22h2v1h-2zM129 23h5v1h-5zM132 24h2v1h-2zM129 25h4v1h-4zM135 18h5v1h-5zM135 19h2v1h-2zM139 19h2v1h-2zM135 20h2v1h-2zM139 20h2v1h-2zM135 21h2v1h-2zM139 21h2v1h-2zM135 22h2v1h-2zM139 22h2v1h-2zM135 23h2v1h-2zM139 23h2v1h-2zM143 18h4v1h-4zM142 19h2v1h-2zM146 19h2v1h-2zM142 20h6v1h-6zM142 21h2v1h-2zM142 22h2v1h-2zM146 22h2v1h-2zM143 23h4v1h-4zM150 16h2v1h-2zM150 17h2v1h-2zM149 18h5v1h-5zM150 19h2v1h-2zM150 20h2v1h-2zM150 21h2v1h-2zM150 22h2v1h-2zM153 22h2v1h-2zM151 23h3v1h-3zM156 23h6v1h-6zM156 24h6v1h-6zM163 16h6v1h-6zM163 17h2v1h-2zM163 18h2v1h-2zM163 19h5v1h-5zM167 20h2v1h-2zM167 21h2v1h-2zM163 22h2v1h-2zM167 22h2v1h-2zM164 23h4v1h-4zM171 16h4v1h-4zM170 17h2v1h-2zM174 17h2v1h-2zM170 18h2v1h-2zM174 18h2v1h-2zM170 19h2v1h-2zM174 19h2v1h-2zM171 20h5v1h-5zM174 21h2v1h-2zM170 22h2v1h-2zM174 22h2v1h-2zM171 23h4v1h-4zM177 16h6v1h-6zM177 17h2v1h-2zM177 18h2v1h-2zM177 19h5v1h-5zM181 20h2v1h-2zM181 21h2v1h-2zM177 22h2v1h-2zM181 22h2v1h-2zM178 23h4v1h-4zM185 16h4v1h-4zM184 17h2v1h-2zM188 17h2v1h-2zM188 18h2v1h-2zM187 19h2v1h-2zM186 20h2v1h-2zM185 21h2v1h-2zM184 22h2v1h-2zM184 23h6v1h-6zM192 16h4v1h-4zM191 17h2v1h-2zM195 17h2v1h-2zM195 18h2v1h-2zM192 19h4v1h-4zM195 20h2v1h-2zM195 21h2v1h-2zM191 22h2v1h-2zM195 22h2v1h-2zM192 23h4v1h-4zM198 23h6v1h-6zM198 24h6v1h-6zM206 16h4v1h-4zM205 17h2v1h-2zM209 17h2v1h-2zM205 18h2v1h-2zM205 19h2v1h-2zM205 20h2v1h-2zM208 20h3v1h-3zM205 21h2v1h-2zM209 21h2v1h-2zM205 22h2v1h-2zM209 22h2v1h-2zM206 23h5v1h-5zM212 16h5v1h-5zM212 17h2v1h-2zM216 17h2v1h-2zM212 18h2v1h-2zM216 18h2v1h-2zM212 19h5v1h-5zM212 20h2v1h-2zM216 20h2v1h-2zM212 21h2v1h-2zM216 21h2v1h-2zM212 22h2v1h-2zM216 22h2v1h-2zM212 23h5v1h-5zM220 16h4v1h-4zM219 17h2v1h-2zM223 17h2v1h-2zM219 18h2v1h-2zM220 19h4v1h-4zM223 20h2v1h-2zM223 21h2v1h-2zM219 22h2v1h-2zM223 22h2v1h-2zM220 23h4v1h-4zM226 23h6v1h-6zM226 24h6v1h-6zM234 18h4v1h-4zM233 19h2v1h-2zM237 19h2v1h-2zM233 20h2v1h-2zM233 21h2v1h-2zM233 22h2v1h-2zM237 22h2v1h-2zM234 23h4v1h-4zM240 18h5v1h-5zM240 19h2v1h-2zM244 19h2v1h-2zM240 20h2v1h-2zM240 21h2v1h-2zM240 22h2v1h-2zM240 23h2v1h-2zM248 18h4v1h-4zM251 19h2v1h-2zM248 20h5v1h-5zM247 21h2v1h-2zM251 21h2v1h-2zM247 22h2v1h-2zM251 22h2v1h-2zM248 23h5v1h-5zM254 15h2v1h-2zM254 16h2v1h-2zM254 17h2v1h-2zM254 18h5v1h-5zM254 19h2v1h-2zM258 19h2v1h-2zM254 20h2v1h-2zM258 20h2v1h-2zM254 21h2v1h-2zM258 21h2v1h-2zM254 22h2v1h-2zM258 22h2v1h-2zM254 23h5v1h-5zM261 23h6v1h-6zM261 24h6v1h-6zM268 18h5v1h-5zM268 19h2v1h-2zM272 19h2v1h-2zM268 20h2v1h-2zM272 20h2v1h-2zM268 21h2v1h-2zM272 21h2v1h-2zM268 22h5v1h-5zM268 23h2v1h-2zM268 24h2v1h-2zM268 25h2v1h-2zM275 18h2v1h-2zM279 18h2v1h-2zM275 19h2v1h-2zM279 19h2v1h-2zM275 20h2v1h-2zM279 20h2v1h-2zM275 21h2v1h-2zM279 21h2v1h-2zM275 22h2v1h-2zM279 22h2v1h-2zM276 23h5v1h-5zM283 15h3v1h-3zM284 16h2v1h-2zM284 17h2v1h-2zM284 18h2v1h-2zM284 19h2v1h-2zM284 20h2v1h-2zM284 21h2v1h-2zM284 22h2v1h-2zM282 23h6v1h-6zM290 18h4v1h-4zM289 19h2v1h-2zM293 19h2v1h-2zM290 20h2v1h-2zM292 21h2v1h-2zM289 22h2v1h-2zM293 22h2v1h-2zM290 23h4v1h-4zM297 18h4v1h-4zM300 19h2v1h-2zM297 20h5v1h-5zM296 21h2v1h-2zM300 21h2v1h-2zM296 22h2v1h-2zM300 22h2v1h-2zM297 23h5v1h-5zM303 18h5v1h-5zM303 19h2v1h-2zM307 19h2v1h-2zM303 20h2v1h-2zM303 21h2v1h-2zM303 22h2v1h-2zM303 23h2v1h-2zM310 23h6v1h-6zM310 24h6v1h-6zM318 16h4v1h-4zM317 17h2v1h-2zM321 17h2v1h-2zM317 18h2v1h-2zM317 19h5v1h-5zM317 20h2v1h-2zM321 20h2v1h-2zM317 21h2v1h-2zM321 21h2v1h-2zM317 22h2v1h-2zM321 22h2v1h-2zM318 23h4v1h-4zM328 16h2v1h-2zM327 17h3v1h-3zM326 18h4v1h-4zM325 19h2v1h-2zM328 19h2v1h-2zM324 20h2v1h-2zM328 20h2v1h-2zM324 21h6v1h-6zM328 22h2v1h-2zM328 23h2v1h-2zM331 16h6v1h-6zM335 17h2v1h-2zM334 18h2v1h-2zM334 19h2v1h-2zM333 20h2v1h-2zM333 21h2v1h-2zM332 22h2v1h-2zM332 23h2v1h-2zM339 16h4v1h-4zM338 17h2v1h-2zM342 17h2v1h-2zM338 18h2v1h-2zM338 19h5v1h-5zM338 20h2v1h-2zM342 20h2v1h-2zM338 21h2v1h-2zM342 21h2v1h-2zM338 22h2v1h-2zM342 22h2v1h-2zM339 23h4v1h-4zM346 16h4v1h-4zM345 17h2v1h-2zM349 17h2v1h-2zM345 18h2v1h-2zM345 19h5v1h-5zM345 20h2v1h-2zM349 20h2v1h-2zM345 21h2v1h-2zM349 21h2v1h-2zM345 22h2v1h-2zM349 22h2v1h-2zM346 23h4v1h-4zM352 23h6v1h-6zM352 24h6v1h-6zM361 16h2v1h-2zM360 17h3v1h-3zM359 18h1v1h-1zM361 18h2v1h-2zM361 19h2v1h-2zM361 20h2v1h-2zM361 21h2v1h-2zM361 22h2v1h-2zM359 23h6v1h-6zM367 16h4v1h-4zM366 17h2v1h-2zM370 17h2v1h-2zM370 18h2v1h-2zM367 19h4v1h-4zM370 20h2v1h-2zM370 21h2v1h-2zM366 22h2v1h-2zM370 22h2v1h-2zM367 23h4v1h-4zM375 16h2v1h-2zM374 17h3v1h-3zM373 18h1v1h-1zM375 18h2v1h-2zM375 19h2v1h-2zM375 20h2v1h-2zM375 21h2v1h-2zM375 22h2v1h-2zM373 23h6v1h-6zM380 16h6v1h-6zM380 17h2v1h-2zM380 18h2v1h-2zM380 19h5v1h-5zM384 20h2v1h-2zM384 21h2v1h-2zM380 22h2v1h-2zM384 22h2v1h-2zM381 23h4v1h-4zM387 16h6v1h-6zM387 17h2v1h-2zM387 18h2v1h-2zM387 19h5v1h-5zM391 20h2v1h-2zM391 21h2v1h-2zM387 22h2v1h-2zM391 22h2v1h-2zM388 23h4v1h-4zM394 23h6v1h-6zM394 24h6v1h-6zM402 18h4v1h-4zM401 19h2v1h-2zM405 19h2v1h-2zM401 20h2v1h-2zM401 21h2v1h-2zM401 22h2v1h-2zM405 22h2v1h-2zM402 23h4v1h-4zM409 18h4v1h-4zM412 19h2v1h-2zM409 20h5v1h-5zM408 21h2v1h-2zM412 21h2v1h-2zM408 22h2v1h-2zM412 22h2v1h-2zM409 23h5v1h-5zM416 15h3v1h-3zM417 16h2v1h-2zM417 17h2v1h-2zM417 18h2v1h-2zM417 19h2v1h-2zM417 20h2v1h-2zM417 21h2v1h-2zM417 22h2v1h-2zM415 23h6v1h-6zM424 22h2v1h-2zM423 23h4v1h-4zM424 24h2v1h-2zM430 16h2v1h-2zM430 17h2v1h-2zM429 18h5v1h-5zM430 19h2v1h-2zM430 20h2v1h-2zM430 21h2v1h-2zM430 22h2v1h-2zM433 22h2v1h-2zM431 23h3v1h-3zM436 18h2v1h-2zM440 18h2v1h-2zM436 19h2v1h-2zM440 19h2v1h-2zM437 20h4v1h-4zM437 21h4v1h-4zM436 22h2v1h-2zM440 22h2v1h-2zM436 23h2v1h-2zM440 23h2v1h-2zM444 16h2v1h-2zM444 17h2v1h-2zM443 18h5v1h-5zM444 19h2v1h-2zM444 20h2v1h-2zM444 21h2v1h-2zM444 22h2v1h-2zM447 22h2v1h-2zM445 23h3v1h-3zM452 21h3v1h-3zM452 22h3v1h-3zM452 23h2v1h-2zM451 24h2v1h-2zM464 16h2v1h-2zM464 17h2v1h-2zM464 18h2v1h-2zM464 19h2v1h-2zM464 20h2v1h-2zM464 21h2v1h-2zM464 22h2v1h-2zM464 23h6v1h-6zM472 16h4v1h-4zM471 17h2v1h-2zM475 17h2v1h-2zM471 18h2v1h-2zM475 18h2v1h-2zM471 19h2v1h-2zM475 19h2v1h-2zM471 20h2v1h-2zM475 20h2v1h-2zM471 21h2v1h-2zM475 21h2v1h-2zM471 22h2v1h-2zM475 22h2v1h-2zM472 23h4v1h-4zM478 16h2v1h-2zM482 16h2v1h-2zM478 17h2v1h-2zM482 17h2v1h-2zM478 18h2v1h-2zM482 18h2v1h-2zM478 19h2v1h-2zM482 19h2v1h-2zM478 20h6v1h-6zM478 21h6v1h-6zM478 22h2v1h-2zM482 22h2v1h-2zM478 23h1v1h-1zM483 23h1v1h-1zM485 16h5v1h-5zM485 17h2v1h-2zM489 17h2v1h-2zM485 18h2v1h-2zM489 18h2v1h-2zM485 19h5v1h-5zM485 20h4v1h-4zM485 21h2v1h-2zM488 21h2v1h-2zM485 22h2v1h-2zM489 22h2v1h-2zM485 23h2v1h-2zM489 23h2v1h-2zM492 16h6v1h-6zM492 17h2v1h-2zM492 18h2v1h-2zM492 19h4v1h-4zM492 20h2v1h-2zM492 21h2v1h-2zM492 22h2v1h-2zM492 23h6v1h-6zM500 16h4v1h-4zM499 17h2v1h-2zM503 17h2v1h-2zM499 18h2v1h-2zM500 19h4v1h-4zM503 20h2v1h-2zM503 21h2v1h-2zM499 22h2v1h-2zM503 22h2v1h-2zM500 23h4v1h-4zM508 21h3v1h-3zM508 22h3v1h-3zM508 23h2v1h-2zM507 24h2v1h-2zM521 16h2v1h-2zM521 17h2v1h-2zM520 18h5v1h-5zM521 19h2v1h-2zM521 20h2v1h-2zM521 21h2v1h-2zM521 22h2v1h-2zM524 22h2v1h-2zM522 23h3v1h-3zM527 18h5v1h-5zM527 19h2v1h-2zM531 19h2v1h-2zM527 20h2v1h-2zM527 21h2v1h-2zM527 22h2v1h-2zM527 23h2v1h-2zM535 18h4v1h-4zM538 19h2v1h-2zM535 20h5v1h-5zM534 21h2v1h-2zM538 21h2v1h-2zM534 22h2v1h-2zM538 22h2v1h-2zM535 23h5v1h-5zM542 18h4v1h-4zM541 19h2v1h-2zM545 19h2v1h-2zM541 20h2v1h-2zM541 21h2v1h-2zM541 22h2v1h-2zM545 22h2v1h-2zM542 23h4v1h-4zM548 15h2v1h-2zM548 16h2v1h-2zM548 17h2v1h-2zM548 18h2v1h-2zM552 18h2v1h-2zM548 19h2v1h-2zM551 19h2v1h-2zM548 20h4v1h-4zM548 21h4v1h-4zM548 22h2v1h-2zM551 22h2v1h-2zM548 23h2v1h-2zM552 23h2v1h-2zM418 46h1v1h-1zM423 46h1v1h-1zM418 47h2v1h-2zM422 47h2v1h-2zM419 48h1v1h-1zM422 48h1v1h-1zM420 49h2v1h-2zM419 50h4v1h-4zM419 51h1v1h-1zM422 51h1v1h-1zM418 52h2v1h-2zM422 52h2v1h-2zM418 53h1v1h-1zM423 53h1v1h-1zM425 46h2v1h-2zM425 47h2v1h-2zM425 48h2v1h-2zM425 49h2v1h-2zM425 50h2v1h-2zM425 51h2v1h-2zM425 52h2v1h-2zM425 53h6v1h-6zM432 49h6v1h-6zM432 50h6v1h-6zM441 46h2v1h-2zM440 47h3v1h-3zM439 48h1v1h-1zM441 48h2v1h-2zM441 49h2v1h-2zM441 50h2v1h-2zM441 51h2v1h-2zM441 52h2v1h-2zM439 53h6v1h-6zM447 46h4v1h-4zM446 47h2v1h-2zM450 47h2v1h-2zM446 48h2v1h-2zM449 48h3v1h-3zM446 49h6v1h-6zM446 50h3v1h-3zM450 50h2v1h-2zM446 51h2v1h-2zM450 51h2v1h-2zM446 52h2v1h-2zM450 52h2v1h-2zM447 53h4v1h-4zM454 46h4v1h-4zM453 47h2v1h-2zM457 47h2v1h-2zM453 48h2v1h-2zM453 49h5v1h-5zM453 50h2v1h-2zM457 50h2v1h-2zM453 51h2v1h-2zM457 51h2v1h-2zM453 52h2v1h-2zM457 52h2v1h-2zM454 53h4v1h-4zM462 52h2v1h-2zM461 53h4v1h-4zM462 54h2v1h-2zM468 46h4v1h-4zM467 47h2v1h-2zM471 47h2v1h-2zM467 48h2v1h-2zM470 48h3v1h-3zM467 49h6v1h-6zM467 50h3v1h-3zM471 50h2v1h-2zM467 51h2v1h-2zM471 51h2v1h-2zM467 52h2v1h-2zM471 52h2v1h-2zM468 53h4v1h-4zM474 46h6v1h-6zM474 47h2v1h-2zM474 48h2v1h-2zM474 49h5v1h-5zM478 50h2v1h-2zM478 51h2v1h-2zM474 52h2v1h-2zM478 52h2v1h-2zM475 53h4v1h-4zM488 46h6v1h-6zM490 47h2v1h-2zM490 48h2v1h-2zM490 49h2v1h-2zM490 50h2v1h-2zM490 51h2v1h-2zM490 52h2v1h-2zM490 53h2v1h-2zM496 48h4v1h-4zM495 49h2v1h-2zM499 49h2v1h-2zM496 50h2v1h-2zM498 51h2v1h-2zM495 52h2v1h-2zM499 52h2v1h-2zM496 53h4v1h-4zM502 48h2v1h-2zM506 48h2v1h-2zM502 49h2v1h-2zM506 49h2v1h-2zM502 50h2v1h-2zM506 50h2v1h-2zM502 51h2v1h-2zM506 51h2v1h-2zM502 52h2v1h-2zM506 52h2v1h-2zM503 53h5v1h-5zM506 54h2v1h-2zM503 55h4v1h-4zM510 48h4v1h-4zM509 49h2v1h-2zM513 49h2v1h-2zM510 50h2v1h-2zM512 51h2v1h-2zM509 52h2v1h-2zM513 52h2v1h-2zM510 53h4v1h-4zM518 47h2v1h-2zM517 48h4v1h-4zM518 49h2v1h-2zM518 52h2v1h-2zM517 53h4v1h-4zM518 54h2v1h-2zM525 46h2v1h-2zM524 47h3v1h-3zM523 48h1v1h-1zM525 48h2v1h-2zM525 49h2v1h-2zM525 50h2v1h-2zM525 51h2v1h-2zM525 52h2v1h-2zM523 53h6v1h-6zM532 46h2v1h-2zM531 47h3v1h-3zM530 48h1v1h-1zM532 48h2v1h-2zM532 49h2v1h-2zM532 50h2v1h-2zM532 51h2v1h-2zM532 52h2v1h-2zM530 53h6v1h-6zM538 46h4v1h-4zM537 47h2v1h-2zM541 47h2v1h-2zM537 48h2v1h-2zM540 48h3v1h-3zM537 49h6v1h-6zM537 50h3v1h-3zM541 50h2v1h-2zM537 51h2v1h-2zM541 51h2v1h-2zM537 52h2v1h-2zM541 52h2v1h-2zM538 53h4v1h-4zM546 52h2v1h-2zM545 53h4v1h-4zM546 54h2v1h-2zM552 46h4v1h-4zM551 47h2v1h-2zM555 47h2v1h-2zM551 48h2v1h-2zM554 48h3v1h-3zM551 49h6v1h-6zM551 50h3v1h-3zM555 50h2v1h-2zM551 51h2v1h-2zM555 51h2v1h-2zM551 52h2v1h-2zM555 52h2v1h-2zM552 53h4v1h-4zM559 46h4v1h-4zM558 47h2v1h-2zM562 47h2v1h-2zM562 48h2v1h-2zM559 49h4v1h-4zM562 50h2v1h-2zM562 51h2v1h-2zM558 52h2v1h-2zM562 52h2v1h-2zM559 53h4v1h-4zM418 59h2v1h-2zM422 59h2v1h-2zM418 60h2v1h-2zM422 60h2v1h-2zM418 61h2v1h-2zM422 61h2v1h-2zM419 62h4v1h-4zM420 63h2v1h-2zM420 64h2v1h-2zM420 65h2v1h-2zM420 66h2v1h-2zM425 59h5v1h-5zM425 60h2v1h-2zM429 60h2v1h-2zM425 61h2v1h-2zM429 61h2v1h-2zM425 62h5v1h-5zM425 63h4v1h-4zM425 64h2v1h-2zM428 64h2v1h-2zM425 65h2v1h-2zM429 65h2v1h-2zM425 66h2v1h-2zM429 66h2v1h-2zM432 62h6v1h-6zM432 63h6v1h-6zM441 59h2v1h-2zM440 60h3v1h-3zM439 61h1v1h-1zM441 61h2v1h-2zM441 62h2v1h-2zM441 63h2v1h-2zM441 64h2v1h-2zM441 65h2v1h-2zM439 66h6v1h-6zM447 59h4v1h-4zM446 60h2v1h-2zM450 60h2v1h-2zM450 61h2v1h-2zM447 62h4v1h-4zM450 63h2v1h-2zM450 64h2v1h-2zM446 65h2v1h-2zM450 65h2v1h-2zM447 66h4v1h-4zM454 59h4v1h-4zM453 60h2v1h-2zM457 60h2v1h-2zM457 61h2v1h-2zM456 62h2v1h-2zM455 63h2v1h-2zM454 64h2v1h-2zM453 65h2v1h-2zM453 66h6v1h-6zM462 65h2v1h-2zM461 66h4v1h-4zM462 67h2v1h-2zM467 59h6v1h-6zM471 60h2v1h-2zM470 61h2v1h-2zM470 62h2v1h-2zM469 63h2v1h-2zM469 64h2v1h-2zM468 65h2v1h-2zM468 66h2v1h-2zM475 59h4v1h-4zM474 60h2v1h-2zM478 60h2v1h-2zM474 61h2v1h-2zM478 61h2v1h-2zM475 62h4v1h-4zM474 63h2v1h-2zM478 63h2v1h-2zM474 64h2v1h-2zM478 64h2v1h-2zM474 65h2v1h-2zM478 65h2v1h-2zM475 66h4v1h-4zM488 59h6v1h-6zM490 60h2v1h-2zM490 61h2v1h-2zM490 62h2v1h-2zM490 63h2v1h-2zM490 64h2v1h-2zM490 65h2v1h-2zM490 66h2v1h-2zM496 61h4v1h-4zM495 62h2v1h-2zM499 62h2v1h-2zM496 63h2v1h-2zM498 64h2v1h-2zM495 65h2v1h-2zM499 65h2v1h-2zM496 66h4v1h-4zM502 61h2v1h-2zM506 61h2v1h-2zM502 62h2v1h-2zM506 62h2v1h-2zM502 63h2v1h-2zM506 63h2v1h-2zM502 64h2v1h-2zM506 64h2v1h-2zM502 65h2v1h-2zM506 65h2v1h-2zM503 66h5v1h-5zM506 67h2v1h-2zM503 68h4v1h-4zM510 61h4v1h-4zM509 62h2v1h-2zM513 62h2v1h-2zM510 63h2v1h-2zM512 64h2v1h-2zM509 65h2v1h-2zM513 65h2v1h-2zM510 66h4v1h-4zM518 60h2v1h-2zM517 61h4v1h-4zM518 62h2v1h-2zM518 65h2v1h-2zM517 66h4v1h-4zM518 67h2v1h-2zM525 59h2v1h-2zM524 60h3v1h-3zM523 61h1v1h-1zM525 61h2v1h-2zM525 62h2v1h-2zM525 63h2v1h-2zM525 64h2v1h-2zM525 65h2v1h-2zM523 66h6v1h-6zM531 59h4v1h-4zM530 60h2v1h-2zM534 60h2v1h-2zM534 61h2v1h-2zM531 62h4v1h-4zM534 63h2v1h-2zM534 64h2v1h-2zM530 65h2v1h-2zM534 65h2v1h-2zM531 66h4v1h-4zM537 59h6v1h-6zM541 60h2v1h-2zM540 61h2v1h-2zM540 62h2v1h-2zM539 63h2v1h-2zM539 64h2v1h-2zM538 65h2v1h-2zM538 66h2v1h-2zM546 65h2v1h-2zM545 66h4v1h-4zM546 67h2v1h-2zM551 59h6v1h-6zM551 60h2v1h-2zM551 61h2v1h-2zM551 62h5v1h-5zM555 63h2v1h-2zM555 64h2v1h-2zM551 65h2v1h-2zM555 65h2v1h-2zM552 66h4v1h-4zM559 59h4v1h-4zM558 60h2v1h-2zM562 60h2v1h-2zM558 61h2v1h-2zM558 62h5v1h-5zM558 63h2v1h-2zM562 63h2v1h-2zM558 64h2v1h-2zM562 64h2v1h-2zM558 65h2v1h-2zM562 65h2v1h-2zM559 66h4v1h-4zM38 414h4v1h-4zM37 415h2v1h-2zM41 415h2v1h-2zM37 416h2v1h-2zM40 416h3v1h-3zM37 417h6v1h-6zM37 418h3v1h-3zM41 418h2v1h-2zM37 419h2v1h-2zM41 419h2v1h-2zM37 420h2v1h-2zM41 420h2v1h-2zM38 421h4v1h-4zM38 372h4v1h-4zM37 373h2v1h-2zM41 373h2v1h-2zM41 374h2v1h-2zM40 375h2v1h-2zM39 376h2v1h-2zM38 377h2v1h-2zM37 378h2v1h-2zM37 379h6v1h-6zM41 330h2v1h-2zM40 331h3v1h-3zM39 332h4v1h-4zM38 333h2v1h-2zM41 333h2v1h-2zM37 334h2v1h-2zM41 334h2v1h-2zM37 335h6v1h-6zM41 336h2v1h-2zM41 337h2v1h-2zM38 288h4v1h-4zM37 289h2v1h-2zM41 289h2v1h-2zM37 290h2v1h-2zM37 291h5v1h-5zM37 292h2v1h-2zM41 292h2v1h-2zM37 293h2v1h-2zM41 293h2v1h-2zM37 294h2v1h-2zM41 294h2v1h-2zM38 295h4v1h-4zM38 246h4v1h-4zM37 247h2v1h-2zM41 247h2v1h-2zM37 248h2v1h-2zM41 248h2v1h-2zM38 249h4v1h-4zM37 250h2v1h-2zM41 250h2v1h-2zM37 251h2v1h-2zM41 251h2v1h-2zM37 252h2v1h-2zM41 252h2v1h-2zM38 253h4v1h-4zM32 204h2v1h-2zM31 205h3v1h-3zM30 206h1v1h-1zM32 206h2v1h-2zM32 207h2v1h-2zM32 208h2v1h-2zM32 209h2v1h-2zM32 210h2v1h-2zM30 211h6v1h-6zM38 204h4v1h-4zM37 205h2v1h-2zM41 205h2v1h-2zM37 206h2v1h-2zM40 206h3v1h-3zM37 207h6v1h-6zM37 208h3v1h-3zM41 208h2v1h-2zM37 209h2v1h-2zM41 209h2v1h-2zM37 210h2v1h-2zM41 210h2v1h-2zM38 211h4v1h-4zM32 162h2v1h-2zM31 163h3v1h-3zM30 164h1v1h-1zM32 164h2v1h-2zM32 165h2v1h-2zM32 166h2v1h-2zM32 167h2v1h-2zM32 168h2v1h-2zM30 169h6v1h-6zM38 162h4v1h-4zM37 163h2v1h-2zM41 163h2v1h-2zM41 164h2v1h-2zM40 165h2v1h-2zM39 166h2v1h-2zM38 167h2v1h-2zM37 168h2v1h-2zM37 169h6v1h-6zM32 120h2v1h-2zM31 121h3v1h-3zM30 122h1v1h-1zM32 122h2v1h-2zM32 123h2v1h-2zM32 124h2v1h-2zM32 125h2v1h-2zM32 126h2v1h-2zM30 127h6v1h-6zM41 120h2v1h-2zM40 121h3v1h-3zM39 122h4v1h-4zM38 123h2v1h-2zM41 123h2v1h-2zM37 124h2v1h-2zM41 124h2v1h-2zM37 125h6v1h-6zM41 126h2v1h-2zM41 127h2v1h-2zM32 78h2v1h-2zM31 79h3v1h-3zM30 80h1v1h-1zM32 80h2v1h-2zM32 81h2v1h-2zM32 82h2v1h-2zM32 83h2v1h-2zM32 84h2v1h-2zM30 85h6v1h-6zM38 78h4v1h-4zM37 79h2v1h-2zM41 79h2v1h-2zM37 80h2v1h-2zM37 81h5v1h-5zM37 82h2v1h-2zM41 82h2v1h-2zM37 83h2v1h-2zM41 83h2v1h-2zM37 84h2v1h-2zM41 84h2v1h-2zM38 85h4v1h-4zM32 36h2v1h-2zM31 37h3v1h-3zM30 38h1v1h-1zM32 38h2v1h-2zM32 39h2v1h-2zM32 40h2v1h-2zM32 41h2v1h-2zM32 42h2v1h-2zM30 43h6v1h-6zM38 36h4v1h-4zM37 37h2v1h-2zM41 37h2v1h-2zM37 38h2v1h-2zM41 38h2v1h-2zM38 39h4v1h-4zM37 40h2v1h-2zM41 40h2v1h-2zM37 41h2v1h-2zM41 41h2v1h-2zM37 42h2v1h-2zM41 42h2v1h-2zM38 43h4v1h-4zM52 448h4v1h-4zM51 449h2v1h-2zM55 449h2v1h-2zM51 450h2v1h-2zM54 450h3v1h-3zM51 451h6v1h-6zM51 452h3v1h-3zM55 452h2v1h-2zM51 453h2v1h-2zM55 453h2v1h-2zM51 454h2v1h-2zM55 454h2v1h-2zM52 455h4v1h-4zM145 448h2v1h-2zM144 449h3v1h-3zM143 450h1v1h-1zM145 450h2v1h-2zM145 451h2v1h-2zM145 452h2v1h-2zM145 453h2v1h-2zM145 454h2v1h-2zM143 455h6v1h-6zM151 448h4v1h-4zM150 449h2v1h-2zM154 449h2v1h-2zM150 450h2v1h-2zM153 450h3v1h-3zM150 451h6v1h-6zM150 452h3v1h-3zM154 452h2v1h-2zM150 453h2v1h-2zM154 453h2v1h-2zM150 454h2v1h-2zM154 454h2v1h-2zM151 455h4v1h-4zM238 448h4v1h-4zM237 449h2v1h-2zM241 449h2v1h-2zM241 450h2v1h-2zM240 451h2v1h-2zM239 452h2v1h-2zM238 453h2v1h-2zM237 454h2v1h-2zM237 455h6v1h-6zM245 448h4v1h-4zM244 449h2v1h-2zM248 449h2v1h-2zM244 450h2v1h-2zM247 450h3v1h-3zM244 451h6v1h-6zM244 452h3v1h-3zM248 452h2v1h-2zM244 453h2v1h-2zM248 453h2v1h-2zM244 454h2v1h-2zM248 454h2v1h-2zM245 455h4v1h-4zM333 448h4v1h-4zM332 449h2v1h-2zM336 449h2v1h-2zM336 450h2v1h-2zM333 451h4v1h-4zM336 452h2v1h-2zM336 453h2v1h-2zM332 454h2v1h-2zM336 454h2v1h-2zM333 455h4v1h-4zM340 448h4v1h-4zM339 449h2v1h-2zM343 449h2v1h-2zM339 450h2v1h-2zM342 450h3v1h-3zM339 451h6v1h-6zM339 452h3v1h-3zM343 452h2v1h-2zM339 453h2v1h-2zM343 453h2v1h-2zM339 454h2v1h-2zM343 454h2v1h-2zM340 455h4v1h-4zM430 448h2v1h-2zM429 449h3v1h-3zM428 450h4v1h-4zM427 451h2v1h-2zM430 451h2v1h-2zM426 452h2v1h-2zM430 452h2v1h-2zM426 453h6v1h-6zM430 454h2v1h-2zM430 455h2v1h-2zM434 448h4v1h-4zM433 449h2v1h-2zM437 449h2v1h-2zM433 450h2v1h-2zM436 450h3v1h-3zM433 451h6v1h-6zM433 452h3v1h-3zM437 452h2v1h-2zM433 453h2v1h-2zM437 453h2v1h-2zM433 454h2v1h-2zM437 454h2v1h-2zM434 455h4v1h-4zM521 448h6v1h-6zM521 449h2v1h-2zM521 450h2v1h-2zM521 451h5v1h-5zM525 452h2v1h-2zM525 453h2v1h-2zM521 454h2v1h-2zM525 454h2v1h-2zM522 455h4v1h-4zM529 448h4v1h-4zM528 449h2v1h-2zM532 449h2v1h-2zM528 450h2v1h-2zM531 450h3v1h-3zM528 451h6v1h-6zM528 452h3v1h-3zM532 452h2v1h-2zM528 453h2v1h-2zM532 453h2v1h-2zM528 454h2v1h-2zM532 454h2v1h-2zM529 455h4v1h-4zM616 448h4v1h-4zM615 449h2v1h-2zM619 449h2v1h-2zM615 450h2v1h-2zM615 451h5v1h-5zM615 452h2v1h-2zM619 452h2v1h-2zM615 453h2v1h-2zM619 453h2v1h-2zM615 454h2v1h-2zM619 454h2v1h-2zM616 455h4v1h-4zM623 448h4v1h-4zM622 449h2v1h-2zM626 449h2v1h-2zM622 450h2v1h-2zM625 450h3v1h-3zM622 451h6v1h-6zM622 452h3v1h-3zM626 452h2v1h-2zM622 453h2v1h-2zM626 453h2v1h-2zM622 454h2v1h-2zM626 454h2v1h-2zM623 455h4v1h-4zM289 467h6v1h-6zM291 468h2v1h-2zM291 469h2v1h-2zM291 470h2v1h-2zM291 471h2v1h-2zM291 472h2v1h-2zM291 473h2v1h-2zM291 474h2v1h-2zM298 466h2v1h-2zM298 467h2v1h-2zM297 469h3v1h-3zM298 470h2v1h-2zM298 471h2v1h-2zM298 472h2v1h-2zM298 473h2v1h-2zM296 474h6v1h-6zM303 469h2v1h-2zM306 469h2v1h-2zM303 470h6v1h-6zM303 471h6v1h-6zM303 472h2v1h-2zM307 472h2v1h-2zM303 473h2v1h-2zM307 473h2v1h-2zM303 474h2v1h-2zM307 474h2v1h-2zM311 469h4v1h-4zM310 470h2v1h-2zM314 470h2v1h-2zM310 471h6v1h-6zM310 472h2v1h-2zM310 473h2v1h-2zM314 473h2v1h-2zM311 474h4v1h-4zM320 466h2v1h-2zM319 467h2v1h-2zM319 468h2v1h-2zM318 469h2v1h-2zM318 470h2v1h-2zM318 471h2v1h-2zM319 472h2v1h-2zM319 473h2v1h-2zM320 474h2v1h-2zM325 467h4v1h-4zM324 468h2v1h-2zM328 468h2v1h-2zM324 469h2v1h-2zM325 470h4v1h-4zM328 471h2v1h-2zM328 472h2v1h-2zM324 473h2v1h-2zM328 473h2v1h-2zM325 474h4v1h-4zM332 469h4v1h-4zM331 470h2v1h-2zM335 470h2v1h-2zM331 471h6v1h-6zM331 472h2v1h-2zM331 473h2v1h-2zM335 473h2v1h-2zM332 474h4v1h-4zM339 469h4v1h-4zM338 470h2v1h-2zM342 470h2v1h-2zM338 471h2v1h-2zM338 472h2v1h-2zM338 473h2v1h-2zM342 473h2v1h-2zM339 474h4v1h-4zM346 469h4v1h-4zM345 470h2v1h-2zM349 470h2v1h-2zM345 471h2v1h-2zM349 471h2v1h-2zM345 472h2v1h-2zM349 472h2v1h-2zM345 473h2v1h-2zM349 473h2v1h-2zM346 474h4v1h-4zM352 469h5v1h-5zM352 470h2v1h-2zM356 470h2v1h-2zM352 471h2v1h-2zM356 471h2v1h-2zM352 472h2v1h-2zM356 472h2v1h-2zM352 473h2v1h-2zM356 473h2v1h-2zM352 474h2v1h-2zM356 474h2v1h-2zM363 466h2v1h-2zM363 467h2v1h-2zM363 468h2v1h-2zM360 469h5v1h-5zM359 470h2v1h-2zM363 470h2v1h-2zM359 471h2v1h-2zM363 471h2v1h-2zM359 472h2v1h-2zM363 472h2v1h-2zM359 473h2v1h-2zM363 473h2v1h-2zM360 474h5v1h-5zM367 469h4v1h-4zM366 470h2v1h-2zM370 470h2v1h-2zM367 471h2v1h-2zM369 472h2v1h-2zM366 473h2v1h-2zM370 473h2v1h-2zM367 474h4v1h-4zM374 466h2v1h-2zM375 467h2v1h-2zM375 468h2v1h-2zM376 469h2v1h-2zM376 470h2v1h-2zM376 471h2v1h-2zM375 472h2v1h-2zM375 473h2v1h-2zM374 474h2v1h-2zM6 284h1v5h-1zM7 287h1v2h-1zM7 283h1v2h-1zM8 287h1v2h-1zM8 283h1v2h-1zM9 284h1v5h-1zM10 287h1v2h-1zM11 287h1v2h-1zM12 287h1v2h-1zM13 287h1v2h-1zM8 277h1v4h-1zM9 280h1v2h-1zM9 276h1v2h-1zM10 280h1v2h-1zM10 276h1v2h-1zM11 280h1v2h-1zM11 276h1v2h-1zM12 280h1v2h-1zM12 276h1v2h-1zM13 277h1v4h-1zM8 273h1v2h-1zM8 269h1v2h-1zM9 273h1v2h-1zM9 269h1v2h-1zM10 273h1v2h-1zM10 269h1v2h-1zM11 269h1v6h-1zM12 269h1v6h-1zM13 273h1v1h-1zM13 270h1v1h-1zM8 263h1v4h-1zM9 266h1v2h-1zM9 262h1v2h-1zM10 262h1v6h-1zM11 266h1v2h-1zM12 266h1v2h-1zM12 262h1v2h-1zM13 263h1v4h-1zM8 256h1v5h-1zM9 259h1v2h-1zM9 255h1v2h-1zM10 259h1v2h-1zM11 259h1v2h-1zM12 259h1v2h-1zM13 259h1v2h-1zM5 242h1v2h-1zM6 243h1v2h-1zM7 243h1v2h-1zM8 244h1v2h-1zM9 244h1v2h-1zM10 244h1v2h-1zM11 243h1v2h-1zM12 243h1v2h-1zM13 242h1v2h-1zM6 238h1v2h-1zM6 234h1v2h-1zM7 238h1v2h-1zM7 235h1v2h-1zM8 236h1v4h-1zM9 237h1v3h-1zM10 237h1v3h-1zM11 236h1v4h-1zM12 238h1v2h-1zM12 235h1v2h-1zM13 238h1v2h-1zM13 234h1v2h-1zM8 228h1v4h-1zM9 231h1v2h-1zM9 227h1v2h-1zM10 227h1v6h-1zM11 231h1v2h-1zM12 231h1v2h-1zM12 227h1v2h-1zM13 228h1v4h-1zM5 222h1v3h-1zM6 222h1v2h-1zM7 222h1v2h-1zM8 222h1v2h-1zM9 222h1v2h-1zM10 222h1v2h-1zM11 222h1v2h-1zM12 222h1v2h-1zM13 220h1v6h-1zM8 217h1v2h-1zM8 213h1v2h-1zM9 217h1v2h-1zM9 213h1v2h-1zM10 217h1v2h-1zM10 213h1v2h-1zM11 214h1v4h-1zM12 214h1v4h-1zM13 215h1v2h-1zM5 208h1v2h-1zM6 208h1v2h-1zM8 208h1v3h-1zM9 208h1v2h-1zM10 208h1v2h-1zM11 208h1v2h-1zM12 208h1v2h-1zM13 206h1v6h-1zM8 200h1v5h-1zM9 203h1v2h-1zM9 199h1v2h-1zM10 203h1v2h-1zM10 199h1v2h-1zM11 203h1v2h-1zM11 199h1v2h-1zM12 203h1v2h-1zM12 199h1v2h-1zM13 203h1v2h-1zM13 199h1v2h-1zM5 195h1v2h-1zM6 194h1v2h-1zM7 194h1v2h-1zM8 193h1v2h-1zM9 193h1v2h-1zM10 193h1v2h-1zM11 194h1v2h-1zM12 194h1v2h-1zM13 195h1v2h-1z"/>
</svg>
</body></html>
